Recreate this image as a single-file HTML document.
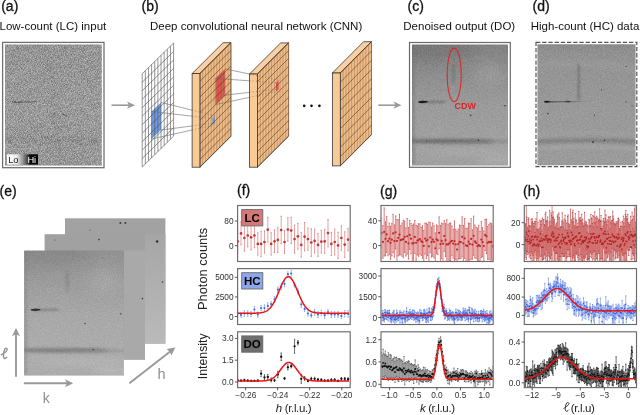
<!DOCTYPE html>
<html><head><meta charset="utf-8"><style>html,body{margin:0;padding:0;background:#fff;width:640px;height:415px;overflow:hidden}svg{display:block}</style></head>
<body><svg style="will-change:transform" width="640" height="415" viewBox="0 0 640 415"><defs>
<filter id="blur05" x="-50%" y="-50%" width="200%" height="200%"><feGaussianBlur stdDeviation="0.5"/></filter>
<filter id="blur1" x="-50%" y="-50%" width="200%" height="200%"><feGaussianBlur stdDeviation="1"/></filter>
<filter id="blur2" x="-50%" y="-50%" width="200%" height="200%"><feGaussianBlur stdDeviation="2"/></filter>
<filter id="blur3" x="-50%" y="-50%" width="200%" height="200%"><feGaussianBlur stdDeviation="3.5"/></filter>
<linearGradient id="lohi" x1="0" x2="1" y1="0" y2="0">
 <stop offset="0" stop-color="#fff"/><stop offset="0.3" stop-color="#eee"/><stop offset="0.5" stop-color="#9a9a9a"/><stop offset="0.66" stop-color="#444"/><stop offset="0.74" stop-color="#0a0a0a"/><stop offset="1" stop-color="#000"/>
</linearGradient>
<clipPath id="clip1"><rect x="5" y="44.5" width="96.8" height="121"/></clipPath><linearGradient id="grad1" x1="0" x2="0" y1="0" y2="1"><stop offset="0" stop-color="#959595"/><stop offset="0.5" stop-color="#9a9a9a"/><stop offset="1" stop-color="#979797"/></linearGradient><filter id="nz1" filterUnits="userSpaceOnUse" x="5" y="44.5" width="96.8" height="121" color-interpolation-filters="sRGB"><feTurbulence type="fractalNoise" baseFrequency="1.3" numOctaves="1" seed="3"/><feGaussianBlur stdDeviation="0.55"/><feColorMatrix type="matrix" values="0.68 0 0 0 0.15999999999999998 0.68 0 0 0 0.15999999999999998 0.68 0 0 0 0.15999999999999998 0 0 0 0 1"/></filter><filter id="ub05" filterUnits="userSpaceOnUse" x="-50" y="-50" width="250" height="250"><feGaussianBlur stdDeviation="0.5"/></filter><filter id="ub08" filterUnits="userSpaceOnUse" x="-50" y="-50" width="250" height="250"><feGaussianBlur stdDeviation="0.8"/></filter><filter id="ub15" filterUnits="userSpaceOnUse" x="-50" y="-50" width="250" height="250"><feGaussianBlur stdDeviation="1.5"/></filter><filter id="ub25" filterUnits="userSpaceOnUse" x="-50" y="-50" width="250" height="250"><feGaussianBlur stdDeviation="2.5"/></filter><filter id="ub6" filterUnits="userSpaceOnUse" x="-50" y="-50" width="250" height="250"><feGaussianBlur stdDeviation="6"/></filter><filter id="nzfine" filterUnits="userSpaceOnUse" x="0" y="0" width="110" height="130" color-interpolation-filters="sRGB"><feTurbulence type="fractalNoise" baseFrequency="1.3" numOctaves="1" seed="5"/><feGaussianBlur stdDeviation="0.45"/><feColorMatrix type="matrix" values="0.2 0 0 0 0.4 0.2 0 0 0 0.4 0.2 0 0 0 0.4 0 0 0 0 1"/></filter><linearGradient id="streakfade" x1="0" x2="1" y1="0" y2="0"><stop offset="0" stop-color="#333" stop-opacity="0.9"/><stop offset="1" stop-color="#555" stop-opacity="0"/></linearGradient><linearGradient id="cbase" x1="0" x2="0" y1="0" y2="1"><stop offset="0" stop-color="#828282"/><stop offset="0.22" stop-color="#8c8c8c"/><stop offset="0.5" stop-color="#9b9b9b"/><stop offset="0.85" stop-color="#a2a2a2"/><stop offset="1" stop-color="#a0a0a0"/></linearGradient><linearGradient id="dbase" x1="0" x2="0" y1="0" y2="1"><stop offset="0" stop-color="#8a8a8a"/><stop offset="0.08" stop-color="#929292"/><stop offset="0.5" stop-color="#999"/><stop offset="1" stop-color="#9b9b9b"/></linearGradient><g id="cimg"><rect x="0" y="0" width="96" height="121" fill="url(#cbase)"/><ellipse cx="20" cy="4" rx="45" ry="12" fill="#6e6e6e" opacity="0.5" filter="url(#ub6)"/><ellipse cx="78" cy="30" rx="16" ry="12" fill="#a5a5a5" opacity="0.45" filter="url(#ub6)"/><rect x="-1" y="0" width="3.5" height="121" fill="#6a6a6a" opacity="0.45" filter="url(#ub15)"/><ellipse cx="41.6" cy="29.5" rx="1.3" ry="12" fill="#5a5a5a" opacity="0.45" filter="url(#ub15)"/><path d="M9 57.5 L33 57.3" stroke="#555" stroke-width="1.6" opacity="0.75" filter="url(#ub08)"/><path d="M6.5 57.5 Q10 56 15.5 57.3 Q10 59 6.5 57.5 Z" fill="#0a0a0a" stroke="#111" stroke-width="0.8" filter="url(#ub05)"/><ellipse cx="34" cy="96.6" rx="48" ry="2.3" fill="#626262" opacity="0.8" filter="url(#ub15)"/><ellipse cx="75" cy="97" rx="25" ry="2" fill="#777" opacity="0.5" filter="url(#ub15)"/><ellipse cx="62" cy="108" rx="45" ry="3" fill="#b2b2b2" opacity="0.45" filter="url(#ub25)"/><ellipse cx="85" cy="116" rx="20" ry="4" fill="#b5b5b5" opacity="0.5" filter="url(#ub25)"/><circle cx="58.7" cy="70.7" r="0.8" fill="#222" opacity="0.85"/><circle cx="66.5" cy="95.8" r="0.8" fill="#222" opacity="0.85"/><circle cx="93" cy="61.3" r="0.8" fill="#222" opacity="0.85"/><rect x="0" y="0" width="96" height="121" filter="url(#nzfine)" style="mix-blend-mode:overlay"/></g><linearGradient id="dstreak" gradientUnits="userSpaceOnUse" x1="9" x2="54" y1="0" y2="0"><stop offset="0" stop-color="#333" stop-opacity="0.85"/><stop offset="0.5" stop-color="#555" stop-opacity="0.6"/><stop offset="1" stop-color="#777" stop-opacity="0.1"/></linearGradient><g id="dimg"><rect x="0" y="0" width="98" height="121" fill="url(#dbase)"/><path d="M-5 22 Q49 16 103 26" stroke="#a4a4a4" stroke-width="4" fill="none" opacity="0.5" filter="url(#ub25)"/><rect x="40" y="19.5" width="2.4" height="36" fill="#707070" opacity="0.75" filter="url(#ub08)"/><path d="M9 57.6 L54 57.2" stroke="url(#dstreak)" stroke-width="1.3" filter="url(#ub05)"/><path d="M6.6 57.6 Q9 56.3 12 57.4 Q9 58.9 6.6 57.6 Z" fill="#111" stroke="#1a1a1a" stroke-width="0.7" filter="url(#ub05)"/><path d="M27.5 57.5 Q30 56.6 33 57.3 Q30 58.4 27.5 57.5 Z" fill="#2a2a2a" stroke="#333" stroke-width="0.5" filter="url(#ub05)"/><path d="M-5 91 Q49 85 103 91" stroke="#a6a6a6" stroke-width="2.5" fill="none" opacity="0.5" filter="url(#ub15)"/><path d="M-5 97.6 Q49 94.5 103 97.6" stroke="#6c6c6c" stroke-width="3" fill="none" opacity="0.7" filter="url(#ub15)"/><path d="M-5 105 Q49 100 103 105" stroke="#b6b6b6" stroke-width="2.5" fill="none" opacity="0.45" filter="url(#ub15)"/><circle cx="88.5" cy="22.4" r="0.7" fill="#222" opacity="0.85"/><circle cx="10.5" cy="69.5" r="0.8" fill="#222" opacity="0.85"/><circle cx="57" cy="71" r="0.6" fill="#222" opacity="0.85"/><circle cx="64" cy="45.8" r="0.6" fill="#222" opacity="0.85"/><circle cx="55.5" cy="97.7" r="0.9" fill="#222" opacity="0.85"/><circle cx="67" cy="96.1" r="0.7" fill="#222" opacity="0.85"/><circle cx="88.5" cy="57.6" r="0.6" fill="#222" opacity="0.85"/><circle cx="94.5" cy="61.6" r="0.6" fill="#222" opacity="0.85"/><circle cx="3" cy="121" r="0.6" fill="#222" opacity="0.85"/><rect x="0" y="0" width="98" height="121" filter="url(#nzfine)" style="mix-blend-mode:overlay"/></g><clipPath id="clipc"><rect x="412" y="44.5" width="96" height="121"/></clipPath><clipPath id="clipd"><rect x="537.5" y="44.2" width="98" height="121"/></clipPath><filter id="nzE" filterUnits="userSpaceOnUse" x="65" y="218.3" width="100.4" height="125.3" color-interpolation-filters="sRGB"><feTurbulence type="fractalNoise" baseFrequency="0.9" numOctaves="2" seed="15"/><feColorMatrix type="matrix" values="0.3 0 0 0 0.35 0.3 0 0 0 0.35 0.3 0 0 0 0.35 0 0 0 0 1"/></filter><filter id="nzE2" filterUnits="userSpaceOnUse" x="44.6" y="234.2" width="100.4" height="125.4" color-interpolation-filters="sRGB"><feTurbulence type="fractalNoise" baseFrequency="0.9" numOctaves="2" seed="25"/><feColorMatrix type="matrix" values="0.3 0 0 0 0.35 0.3 0 0 0 0.35 0.3 0 0 0 0.35 0 0 0 0 1"/></filter><linearGradient id="ebackR" x1="0" x2="0" y1="0" y2="1"><stop offset="0" stop-color="#a6a6a6"/><stop offset="1" stop-color="#bababa"/></linearGradient><clipPath id="clipe"><rect x="24.1" y="250.5" width="99.8" height="125"/></clipPath><clipPath id="pc2"><rect x="238.1" y="206.0" width="111.60" height="55.00"/></clipPath><clipPath id="pc3"><rect x="238.1" y="269.1" width="111.60" height="54.90"/></clipPath><clipPath id="pc4"><rect x="238.1" y="332.3" width="111.60" height="54.80"/></clipPath><clipPath id="pc5"><rect x="381.5" y="206.0" width="111.20" height="55.00"/></clipPath><clipPath id="pc6"><rect x="381.5" y="269.1" width="111.20" height="54.90"/></clipPath><clipPath id="pc7"><rect x="381.5" y="332.3" width="111.20" height="54.80"/></clipPath><clipPath id="pc8"><rect x="524.8" y="206.0" width="111.20" height="55.00"/></clipPath><clipPath id="pc9"><rect x="524.8" y="269.1" width="111.20" height="54.90"/></clipPath><clipPath id="pc10"><rect x="524.8" y="332.3" width="111.20" height="54.80"/></clipPath></defs>
<text x="1.2" y="11" font-family="Liberation Sans" font-size="14" text-anchor="start" fill="#111" stroke="#111" stroke-width="0.3">(a)</text><text x="-0.5" y="29.7" font-family="Liberation Sans" font-size="11.5" text-anchor="start" fill="#111" >Low-count (LC) input</text><text x="141.5" y="11" font-family="Liberation Sans" font-size="14" text-anchor="start" fill="#111" stroke="#111" stroke-width="0.3">(b)</text><text x="150" y="29.7" font-family="Liberation Sans" font-size="11.5" text-anchor="start" fill="#111" >Deep convolutional neural network (CNN)</text><text x="407.5" y="11" font-family="Liberation Sans" font-size="14" text-anchor="start" fill="#111" stroke="#111" stroke-width="0.3">(c)</text><text x="403.3" y="29.7" font-family="Liberation Sans" font-size="11.5" text-anchor="start" fill="#111" >Denoised output (DO)</text><text x="532.5" y="11" font-family="Liberation Sans" font-size="14" text-anchor="start" fill="#111" stroke="#111" stroke-width="0.3">(d)</text><text x="530.7" y="29.7" font-family="Liberation Sans" font-size="11.5" text-anchor="start" fill="#111" >High-count (HC) data</text><text x="-0.4" y="196" font-family="Liberation Sans" font-size="14" text-anchor="start" fill="#111" stroke="#111" stroke-width="0.3">(e)</text><text x="237" y="195" font-family="Liberation Sans" font-size="14" text-anchor="start" fill="#111" stroke="#111" stroke-width="0.3">(f)</text><text x="380" y="196" font-family="Liberation Sans" font-size="14" text-anchor="start" fill="#111" stroke="#111" stroke-width="0.3">(g)</text><text x="523" y="196" font-family="Liberation Sans" font-size="14" text-anchor="start" fill="#111" stroke="#111" stroke-width="0.3">(h)</text><rect x="2.6" y="42.4" width="101.4" height="125.3" fill="#fff" stroke="#707070" stroke-width="1.3"/><g clip-path="url(#clip1)"><rect x="5" y="44.5" width="96.8" height="121" fill="url(#grad1)"/><path d="M12.5 102 L20.5 102.3" stroke="#333" stroke-width="1.2" opacity="0.7" filter="url(#blur05)"/><path d="M5 141 Q50 136 102 143" stroke="#777" stroke-width="4" fill="none" opacity="0.35" filter="url(#blur2)"/><path d="M45 44 Q52 80 60 165" stroke="#808080" stroke-width="5" fill="none" opacity="0.25" filter="url(#blur2)"/><path d="M20 102.3 L38 101.5" stroke="#555" stroke-width="1.2" opacity="0.6" filter="url(#blur05)"/><path d="M62 114 L67 116" stroke="#333" stroke-width="1.2" opacity="0.6" filter="url(#blur05)"/><rect x="5" y="44.5" width="96.8" height="121" filter="url(#nz1)" style="mix-blend-mode:overlay" opacity="1.0"/></g><rect x="7" y="154.3" width="31" height="10.3" fill="url(#lohi)"/><text x="8.2" y="162.6" font-family="Liberation Sans" font-size="9.3" text-anchor="start" fill="#1a1a1a" >Lo</text><text x="27.4" y="162.6" font-family="Liberation Sans" font-size="9.3" text-anchor="start" fill="#fff" >Hi</text><line x1="111.5" y1="105.2" x2="130" y2="105.2" stroke="#9a9a9a" stroke-width="1.6"/><path d="M135 105.2 L127 101.60000000000001 L129 105.2 L127 108.8 Z" fill="#9a9a9a"/><line x1="378.3" y1="105.2" x2="396.5" y2="105.2" stroke="#9a9a9a" stroke-width="1.6"/><path d="M401.5 105.2 L393.5 101.60000000000001 L395.5 105.2 L393.5 108.8 Z" fill="#9a9a9a"/><path d="M142.2 73.8 L173.6 43 V136 L142.2 167 Z" fill="#fff"/><path d="M151.50 111.50 L161.00 102.40 L161.00 130.00 L151.50 139.00 Z" fill="#6f9be2"/><path d="M142.20 73.80V167.00M145.34 70.72V163.92M148.48 67.64V160.84M151.62 64.56V157.76M154.76 61.48V154.68M157.90 58.40V151.60M161.04 55.32V148.52M164.18 52.24V145.44M167.32 49.16V142.36M170.46 46.08V139.28M173.60 43.00V136.20M142.20 73.80L173.60 43.00M142.20 82.27L173.60 51.47M142.20 90.75L173.60 59.95M142.20 99.22L173.60 68.42M142.20 107.69L173.60 76.89M142.20 116.16L173.60 85.36M142.20 124.64L173.60 93.84M142.20 133.11L173.60 102.31M142.20 141.58L173.60 110.78M142.20 150.05L173.60 119.25M142.20 158.53L173.60 127.73M142.20 167.00L173.60 136.20" stroke="#4d4d4d" stroke-width="0.6" fill="none"/><path d="M192.1 73.6 L223.1 42.699999999999996 L230.9 42.699999999999996 L199.9 73.6 Z" fill="#fad0a3" stroke="#2e2e2e" stroke-width="0.75" stroke-linejoin="round"/><path d="M199.9 73.6 L230.9 42.699999999999996 V136.29999999999998 L199.9 167.2 Z" fill="#efbd89" stroke="#2e2e2e" stroke-width="0.75"/><path d="M215.40 78.35 L224.90 68.88 L224.90 95.18 L215.40 104.65 Z" fill="#dd4b4b"/><path d="M212.40 118.54 L215.00 115.95 L215.00 122.95 L212.40 125.54 Z" fill="#6f9be2"/><path d="M199.90 73.60V167.20M202.72 70.79V164.39M205.54 67.98V161.58M208.35 65.17V158.77M211.17 62.36V155.96M213.99 59.55V153.15M216.81 56.75V150.35M219.63 53.94V147.54M222.45 51.13V144.73M225.26 48.32V141.92M228.08 45.51V139.11M230.90 42.70V136.30" stroke="#b38050" stroke-width="0.65" fill="none"/><path d="M199.90 73.60L230.90 42.70M199.90 81.40L230.90 50.50M199.90 89.20L230.90 58.30M199.90 97.00L230.90 66.10M199.90 104.80L230.90 73.90M199.90 112.60L230.90 81.70M199.90 120.40L230.90 89.50M199.90 128.20L230.90 97.30M199.90 136.00L230.90 105.10M199.90 143.80L230.90 112.90M199.90 151.60L230.90 120.70M199.90 159.40L230.90 128.50M199.90 167.20L230.90 136.30" stroke="#4a3a2c" stroke-width="0.6" fill="none"/><rect x="192.1" y="73.6" width="7.8" height="93.6" fill="#f9c996" stroke="#2e2e2e" stroke-width="0.75"/><path d="M161.00 102.40L192.1 110.20M151.50 111.50L192.1 116.19M161.00 130.00L192.1 125.94M151.50 139.00L192.1 130.03" stroke="#6a6a6a" stroke-width="0.6" fill="none"/><path d="M192.1 110.20L215.00 115.95M192.1 116.19L212.40 118.54M192.1 125.94L215.00 122.95M192.1 130.03L212.40 125.54" stroke="#555" stroke-width="0.55" stroke-dasharray="1 2.2" fill="none"/><path d="M249.5 74.0 L280.7 42.9 L288.59999999999997 42.9 L257.4 74.0 Z" fill="#fad0a3" stroke="#2e2e2e" stroke-width="0.75" stroke-linejoin="round"/><path d="M257.4 74.0 L288.59999999999997 42.9 V136.1 L257.4 167.2 Z" fill="#efbd89" stroke="#2e2e2e" stroke-width="0.75"/><path d="M276.00 82.76 L278.60 80.17 L278.60 89.07 L276.00 91.66 Z" fill="#dd4b4b"/><path d="M257.40 74.00V167.20M260.24 71.17V164.37M263.07 68.35V161.55M265.91 65.52V158.72M268.75 62.69V155.89M271.58 59.86V153.06M274.42 57.04V150.24M277.25 54.21V147.41M280.09 51.38V144.58M282.93 48.55V141.75M285.76 45.73V138.93M288.60 42.90V136.10" stroke="#b38050" stroke-width="0.65" fill="none"/><path d="M257.40 74.00L288.60 42.90M257.40 81.77L288.60 50.67M257.40 89.53L288.60 58.43M257.40 97.30L288.60 66.20M257.40 105.07L288.60 73.97M257.40 112.83L288.60 81.73M257.40 120.60L288.60 89.50M257.40 128.37L288.60 97.27M257.40 136.13L288.60 105.03M257.40 143.90L288.60 112.80M257.40 151.67L288.60 120.57M257.40 159.43L288.60 128.33M257.40 167.20L288.60 136.10" stroke="#4a3a2c" stroke-width="0.6" fill="none"/><rect x="249.5" y="74.0" width="7.9" height="93.2" fill="#f9c996" stroke="#2e2e2e" stroke-width="0.75"/><path d="M224.90 68.88L249.5 74.05M215.40 78.35L249.5 80.83M224.90 95.18L249.5 92.38M215.40 104.65L249.5 97.34" stroke="#6a6a6a" stroke-width="0.6" fill="none"/><path d="M249.5 74.05L278.60 80.17M249.5 80.83L276.00 82.76M249.5 92.38L278.60 89.07M249.5 97.34L276.00 91.66" stroke="#555" stroke-width="0.55" stroke-dasharray="1 2.2" fill="none"/><path d="M332.4 73.0 L363.59999999999997 41.7 L371.49999999999994 41.7 L340.29999999999995 73.0 Z" fill="#fad0a3" stroke="#2e2e2e" stroke-width="0.75" stroke-linejoin="round"/><path d="M340.29999999999995 73.0 L371.49999999999994 41.7 V134.60000000000002 L340.29999999999995 165.9 Z" fill="#efbd89" stroke="#2e2e2e" stroke-width="0.75"/><path d="M340.30 73.00V165.90M343.14 70.15V163.05M345.97 67.31V160.21M348.81 64.46V157.36M351.65 61.62V154.52M354.48 58.77V151.67M357.32 55.93V148.83M360.15 53.08V145.98M362.99 50.24V143.14M365.83 47.39V140.29M368.66 44.55V137.45M371.50 41.70V134.60" stroke="#b38050" stroke-width="0.65" fill="none"/><path d="M340.30 73.00L371.50 41.70M340.30 82.29L371.50 50.99M340.30 91.58L371.50 60.28M340.30 100.87L371.50 69.57M340.30 110.16L371.50 78.86M340.30 119.45L371.50 88.15M340.30 128.74L371.50 97.44M340.30 138.03L371.50 106.73M340.30 147.32L371.50 116.02M340.30 156.61L371.50 125.31M340.30 165.90L371.50 134.60" stroke="#4a3a2c" stroke-width="0.6" fill="none"/><rect x="332.4" y="73.0" width="7.9" height="92.9" fill="#f9c996" stroke="#2e2e2e" stroke-width="0.75"/><circle cx="304.2" cy="105.8" r="1.35" fill="#111"/><circle cx="311.5" cy="105.8" r="1.35" fill="#111"/><circle cx="319.4" cy="105.8" r="1.35" fill="#111"/><rect x="409.5" y="42.5" width="100.8" height="124.8" fill="#fff" stroke="#6a6a6a" stroke-width="1.2"/><g clip-path="url(#clipc)"><use href="#cimg" transform="translate(412,44.5)"/></g><ellipse cx="454.2" cy="74.9" rx="7" ry="26.8" fill="none" stroke="#d92a2a" stroke-width="1.1"/><text x="454.6" y="109.3" font-family="Liberation Sans" font-size="8.9" font-weight="bold" fill="#dc2424">CDW</text><rect x="536" y="42.3" width="100.8" height="124.3" fill="#fff" stroke="#555" stroke-width="1.2" stroke-dasharray="4.3 1.9"/><g clip-path="url(#clipd)"><use href="#dimg" transform="translate(537.5,44.2)"/></g><rect x="65" y="218.3" width="100.4" height="125.3" fill="#a2a2a2"/><rect x="145" y="234" width="20.4" height="109.6" fill="url(#ebackR)"/><circle cx="120.3" cy="223" r="0.9" fill="#222" opacity="0.85"/><circle cx="125.4" cy="223" r="0.9" fill="#222" opacity="0.85"/><circle cx="157.1" cy="241.5" r="1.3" fill="#222" opacity="0.85"/><circle cx="162.6" cy="282" r="0.8" fill="#222" opacity="0.85"/><circle cx="90" cy="230" r="0.6" fill="#222" opacity="0.85"/><rect x="44.6" y="234.2" width="100.4" height="125.4" fill="#a1a1a1"/><rect x="123.8" y="250.5" width="21.2" height="109.1" fill="#a9a9a9"/><circle cx="98.9" cy="239.6" r="0.8" fill="#222" opacity="0.85"/><circle cx="142.4" cy="298.6" r="0.8" fill="#222" opacity="0.85"/><circle cx="55" cy="240" r="0.5" fill="#222" opacity="0.85"/><g clip-path="url(#clipe)"><use href="#cimg" transform="translate(24.1,250.5) scale(1.0396,1.033)"/><rect x="24" y="250" width="101" height="127" fill="#fff" opacity="0.13"/></g><line x1="16" y1="376.8" x2="16" y2="334" stroke="#999999" stroke-width="1.9"/><path d="M16 328 L12 336.2 L16 334.2 L20 336.2 Z" fill="#999999"/><line x1="23.8" y1="383.2" x2="67" y2="383.2" stroke="#999999" stroke-width="1.9"/><path d="M73.2 383.2 L65 379.2 L67 383.2 L65 387.2 Z" fill="#999999"/><line x1="129.4" y1="383.2" x2="170.5" y2="351.2" stroke="#999999" stroke-width="1.9"/><path d="M175.3 347.5 L166.6 349.0 L169.9 351.7 L171.4 355.4 Z" fill="#999999"/><path d="M1.2 354.8 C3.5 353.6 7.3 351 7.2 349.3 C7.1 347.8 5.2 347.9 4.6 349.5 C3.6 352 2.6 358.3 4.6 358.5 C5.5 358.6 6.2 358 6.8 357.2" stroke="#8f8f8f" stroke-width="1.3" fill="none" stroke-linecap="round"/><text x="42.8" y="402.8" font-family="Liberation Sans" font-size="14" text-anchor="start" fill="#8f8f8f" >k</text><text x="157.6" y="378.8" font-family="Liberation Sans" font-size="14.5" text-anchor="start" fill="#8f8f8f" >h</text><rect x="237.6" y="205.5" width="112.60" height="56.00" fill="none" stroke="#6a6a6a" stroke-width="1.15"/><g clip-path="url(#pc2)"><path d="M237.70 229.23V253.37M241.04 221.90V244.90M244.39 224.85V251.15M247.73 224.26V246.74M251.08 224.53V250.07M254.42 223.29V247.71M257.77 232.71V255.09M261.12 231.23V256.57M264.46 230.88V253.12M267.81 217.27V242.13M271.15 232.67V255.13M274.50 230.00V252.60M277.84 227.50V252.30M281.19 216.27V243.73M284.53 230.59V253.41M287.88 217.76V241.24M291.22 217.43V243.57M294.56 224.97V253.23M297.91 223.40V249.20M301.25 232.59V257.21M304.60 222.48V250.92M307.94 227.95V250.25M311.29 228.67V256.33M314.63 228.94V252.86M317.98 233.42V256.38M321.32 230.31V253.09M324.67 229.28V253.32M328.01 219.41V246.79M331.36 232.30V255.50M334.70 229.08V254.92M338.05 232.29V258.51M341.39 225.77V250.23M344.74 231.79V257.41M348.08 228.39V250.81" stroke="#e6a0a0" stroke-width="1.0" opacity="1.0" fill="none"/><path d="M237.10 229.23h1.2M237.10 253.37h1.2M240.44 221.90h1.2M240.44 244.90h1.2M243.79 224.85h1.2M243.79 251.15h1.2M247.13 224.26h1.2M247.13 246.74h1.2M250.48 224.53h1.2M250.48 250.07h1.2M253.82 223.29h1.2M253.82 247.71h1.2M257.17 232.71h1.2M257.17 255.09h1.2M260.51 231.23h1.2M260.51 256.57h1.2M263.86 230.88h1.2M263.86 253.12h1.2M267.20 217.27h1.2M267.20 242.13h1.2M270.55 232.67h1.2M270.55 255.13h1.2M273.89 230.00h1.2M273.89 252.60h1.2M277.24 227.50h1.2M277.24 252.30h1.2M280.58 216.27h1.2M280.58 243.73h1.2M283.93 230.59h1.2M283.93 253.41h1.2M287.27 217.76h1.2M287.27 241.24h1.2M290.62 217.43h1.2M290.62 243.57h1.2M293.96 224.97h1.2M293.96 253.23h1.2M297.31 223.40h1.2M297.31 249.20h1.2M300.65 232.59h1.2M300.65 257.21h1.2M304.00 222.48h1.2M304.00 250.92h1.2M307.34 227.95h1.2M307.34 250.25h1.2M310.69 228.67h1.2M310.69 256.33h1.2M314.03 228.94h1.2M314.03 252.86h1.2M317.38 233.42h1.2M317.38 256.38h1.2M320.72 230.31h1.2M320.72 253.09h1.2M324.07 229.28h1.2M324.07 253.32h1.2M327.41 219.41h1.2M327.41 246.79h1.2M330.76 232.30h1.2M330.76 255.50h1.2M334.10 229.08h1.2M334.10 254.92h1.2M337.45 232.29h1.2M337.45 258.51h1.2M340.79 225.77h1.2M340.79 250.23h1.2M344.14 231.79h1.2M344.14 257.41h1.2M347.48 228.39h1.2M347.48 250.81h1.2" stroke="#d46a6a" stroke-width="0.8" fill="none"/><g fill="#c93434"><circle cx="237.70" cy="241.30" r="1.35"/><circle cx="241.04" cy="233.40" r="1.35"/><circle cx="244.39" cy="238.00" r="1.35"/><circle cx="247.73" cy="235.50" r="1.35"/><circle cx="251.08" cy="237.30" r="1.35"/><circle cx="254.42" cy="235.50" r="1.35"/><circle cx="257.77" cy="243.90" r="1.35"/><circle cx="261.12" cy="243.90" r="1.35"/><circle cx="264.46" cy="242.00" r="1.35"/><circle cx="267.81" cy="229.70" r="1.35"/><circle cx="271.15" cy="243.90" r="1.35"/><circle cx="274.50" cy="241.30" r="1.35"/><circle cx="277.84" cy="239.90" r="1.35"/><circle cx="281.19" cy="230.00" r="1.35"/><circle cx="284.53" cy="242.00" r="1.35"/><circle cx="287.88" cy="229.50" r="1.35"/><circle cx="291.22" cy="230.50" r="1.35"/><circle cx="294.56" cy="239.10" r="1.35"/><circle cx="297.91" cy="236.30" r="1.35"/><circle cx="301.25" cy="244.90" r="1.35"/><circle cx="304.60" cy="236.70" r="1.35"/><circle cx="307.94" cy="239.10" r="1.35"/><circle cx="311.29" cy="242.50" r="1.35"/><circle cx="314.63" cy="240.90" r="1.35"/><circle cx="317.98" cy="244.90" r="1.35"/><circle cx="321.32" cy="241.70" r="1.35"/><circle cx="324.67" cy="241.30" r="1.35"/><circle cx="328.01" cy="233.10" r="1.35"/><circle cx="331.36" cy="243.90" r="1.35"/><circle cx="334.70" cy="242.00" r="1.35"/><circle cx="338.05" cy="245.40" r="1.35"/><circle cx="341.39" cy="238.00" r="1.35"/><circle cx="344.74" cy="244.60" r="1.35"/><circle cx="348.08" cy="239.60" r="1.35"/></g></g><line x1="234.9" y1="221" x2="237.6" y2="221" stroke="#4a4a4a" stroke-width="0.9"/><text x="233.6" y="224" font-family="Liberation Sans" font-size="8.3" text-anchor="end" fill="#303030">80</text><line x1="234.9" y1="245.7" x2="237.6" y2="245.7" stroke="#4a4a4a" stroke-width="0.9"/><text x="233.6" y="248.7" font-family="Liberation Sans" font-size="8.3" text-anchor="end" fill="#303030">0</text><rect x="241.7" y="209.6" width="21.1" height="16.3" fill="#d77878" stroke="#6a6a6a" stroke-width="0.9"/><text x="252.2" y="221.8" font-family="Liberation Sans" font-size="11.5" font-weight="bold" text-anchor="middle" fill="#000">LC</text><rect x="237.6" y="268.6" width="112.60" height="55.90" fill="none" stroke="#6a6a6a" stroke-width="1.15"/><g clip-path="url(#pc3)"><path d="M237.70 310.92V315.08M241.04 312.71V317.29M244.39 310.55V316.45M247.73 310.90V316.10M251.08 311.56V316.44M254.42 306.68V312.32M257.77 311.97V317.23M261.12 305.58V310.42M264.46 304.89V311.11M267.81 302.92V308.88M271.15 301.66V306.34M274.50 296.70V302.30M277.84 286.86V292.34M281.19 283.57V290.03M284.53 280.78V286.82M287.88 271.80V276.60M291.22 270.13V276.87M294.56 282.83V287.17M297.91 288.81V293.99M301.25 301.34V307.46M304.60 306.89V311.31M307.94 310.82V316.18M311.29 313.25V317.35M314.63 309.36V315.24M317.98 311.33V317.47M321.32 310.20V315.80M324.67 311.97V318.43M328.01 309.56V314.44M331.36 311.43V317.37M334.70 311.57V317.23M338.05 311.59V317.21M341.39 313.26V318.54M344.74 310.52V316.88M348.08 310.68V317.32" stroke="#9db5ee" stroke-width="0.9" opacity="1.0" fill="none"/><path d="M237.10 310.92h1.2M237.10 315.08h1.2M240.44 312.71h1.2M240.44 317.29h1.2M243.79 310.55h1.2M243.79 316.45h1.2M247.13 310.90h1.2M247.13 316.10h1.2M250.48 311.56h1.2M250.48 316.44h1.2M253.82 306.68h1.2M253.82 312.32h1.2M257.17 311.97h1.2M257.17 317.23h1.2M260.51 305.58h1.2M260.51 310.42h1.2M263.86 304.89h1.2M263.86 311.11h1.2M267.20 302.92h1.2M267.20 308.88h1.2M270.55 301.66h1.2M270.55 306.34h1.2M273.89 296.70h1.2M273.89 302.30h1.2M277.24 286.86h1.2M277.24 292.34h1.2M280.58 283.57h1.2M280.58 290.03h1.2M283.93 280.78h1.2M283.93 286.82h1.2M287.27 271.80h1.2M287.27 276.60h1.2M290.62 270.13h1.2M290.62 276.87h1.2M293.96 282.83h1.2M293.96 287.17h1.2M297.31 288.81h1.2M297.31 293.99h1.2M300.65 301.34h1.2M300.65 307.46h1.2M304.00 306.89h1.2M304.00 311.31h1.2M307.34 310.82h1.2M307.34 316.18h1.2M310.69 313.25h1.2M310.69 317.35h1.2M314.03 309.36h1.2M314.03 315.24h1.2M317.38 311.33h1.2M317.38 317.47h1.2M320.72 310.20h1.2M320.72 315.80h1.2M324.07 311.97h1.2M324.07 318.43h1.2M327.41 309.56h1.2M327.41 314.44h1.2M330.76 311.43h1.2M330.76 317.37h1.2M334.10 311.57h1.2M334.10 317.23h1.2M337.45 311.59h1.2M337.45 317.21h1.2M340.79 313.26h1.2M340.79 318.54h1.2M344.14 310.52h1.2M344.14 316.88h1.2M347.48 310.68h1.2M347.48 317.32h1.2" stroke="#7e9ae6" stroke-width="0.8" fill="none"/><g fill="#3f6fe0"><circle cx="237.70" cy="313.00" r="1.1"/><circle cx="241.04" cy="315.00" r="1.1"/><circle cx="244.39" cy="313.50" r="1.1"/><circle cx="247.73" cy="313.50" r="1.1"/><circle cx="251.08" cy="314.00" r="1.1"/><circle cx="254.42" cy="309.50" r="1.1"/><circle cx="257.77" cy="314.60" r="1.1"/><circle cx="261.12" cy="308.00" r="1.1"/><circle cx="264.46" cy="308.00" r="1.1"/><circle cx="267.81" cy="305.90" r="1.1"/><circle cx="271.15" cy="304.00" r="1.1"/><circle cx="274.50" cy="299.50" r="1.1"/><circle cx="277.84" cy="289.60" r="1.1"/><circle cx="281.19" cy="286.80" r="1.1"/><circle cx="284.53" cy="283.80" r="1.1"/><circle cx="287.88" cy="274.20" r="1.1"/><circle cx="291.22" cy="273.50" r="1.1"/><circle cx="294.56" cy="285.00" r="1.1"/><circle cx="297.91" cy="291.40" r="1.1"/><circle cx="301.25" cy="304.40" r="1.1"/><circle cx="304.60" cy="309.10" r="1.1"/><circle cx="307.94" cy="313.50" r="1.1"/><circle cx="311.29" cy="315.30" r="1.1"/><circle cx="314.63" cy="312.30" r="1.1"/><circle cx="317.98" cy="314.40" r="1.1"/><circle cx="321.32" cy="313.00" r="1.1"/><circle cx="324.67" cy="315.20" r="1.1"/><circle cx="328.01" cy="312.00" r="1.1"/><circle cx="331.36" cy="314.40" r="1.1"/><circle cx="334.70" cy="314.40" r="1.1"/><circle cx="338.05" cy="314.40" r="1.1"/><circle cx="341.39" cy="315.90" r="1.1"/><circle cx="344.74" cy="313.70" r="1.1"/><circle cx="348.08" cy="314.00" r="1.1"/></g><path d="M238.00 313.20L238.56 313.20L239.11 313.20L239.66 313.20L240.22 313.20L240.78 313.20L241.33 313.20L241.88 313.20L242.44 313.20L243.00 313.20L243.55 313.20L244.10 313.20L244.66 313.20L245.22 313.20L245.77 313.20L246.32 313.20L246.88 313.20L247.44 313.20L247.99 313.20L248.54 313.20L249.10 313.20L249.66 313.19L250.21 313.19L250.76 313.19L251.32 313.19L251.88 313.19L252.43 313.18L252.99 313.18L253.54 313.17L254.09 313.16L254.65 313.15L255.20 313.14L255.76 313.13L256.31 313.11L256.87 313.09L257.43 313.07L257.98 313.04L258.54 313.00L259.09 312.96L259.64 312.91L260.20 312.86L260.75 312.79L261.31 312.71L261.87 312.61L262.42 312.50L262.98 312.37L263.53 312.22L264.08 312.05L264.64 311.86L265.19 311.64L265.75 311.38L266.31 311.10L266.86 310.78L267.42 310.42L267.97 310.01L268.52 309.57L269.08 309.07L269.63 308.53L270.19 307.93L270.75 307.27L271.30 306.56L271.86 305.79L272.41 304.96L272.97 304.08L273.52 303.13L274.07 302.13L274.63 301.06L275.19 299.95L275.74 298.79L276.30 297.58L276.85 296.33L277.40 295.05L277.96 293.74L278.51 292.41L279.07 291.07L279.62 289.74L280.18 288.41L280.74 287.10L281.29 285.82L281.85 284.59L282.40 283.40L282.95 282.28L283.51 281.24L284.06 280.28L284.62 279.41L285.18 278.65L285.73 278.00L286.28 277.47L286.84 277.06L287.39 276.78L287.95 276.63L288.50 276.61L289.06 276.72L289.62 276.97L290.17 277.35L290.73 277.85L291.28 278.47L291.83 279.20L292.39 280.04L292.94 280.98L293.50 282.00L294.06 283.10L294.61 284.27L295.17 285.49L295.72 286.76L296.27 288.06L296.83 289.39L297.38 290.72L297.94 292.06L298.50 293.39L299.05 294.71L299.61 296.00L300.16 297.26L300.72 298.48L301.27 299.65L301.82 300.78L302.38 301.85L302.94 302.87L303.49 303.83L304.05 304.74L304.60 305.58L305.15 306.37L305.71 307.09L306.26 307.76L306.82 308.37L307.38 308.93L307.93 309.44L308.49 309.90L309.04 310.32L309.60 310.69L310.15 311.02L310.70 311.31L311.26 311.57L311.81 311.80L312.37 312.01L312.93 312.18L313.48 312.34L314.03 312.47L314.59 312.58L315.14 312.68L315.70 312.77L316.25 312.84L316.81 312.90L317.37 312.95L317.92 312.99L318.48 313.03L319.03 313.06L319.58 313.09L320.14 313.11L320.69 313.13L321.25 313.14L321.81 313.15L322.36 313.16L322.92 313.17L323.47 313.18L324.02 313.18L324.58 313.18L325.13 313.19L325.69 313.19L326.25 313.19L326.80 313.19L327.36 313.20L327.91 313.20L328.47 313.20L329.02 313.20L329.57 313.20L330.13 313.20L330.69 313.20L331.24 313.20L331.80 313.20L332.35 313.20L332.90 313.20L333.46 313.20L334.01 313.20L334.57 313.20L335.12 313.20L335.68 313.20L336.24 313.20L336.79 313.20L337.35 313.20L337.90 313.20L338.45 313.20L339.01 313.20L339.56 313.20L340.12 313.20L340.68 313.20L341.23 313.20L341.78 313.20L342.34 313.20L342.89 313.20L343.45 313.20L344.00 313.20L344.56 313.20L345.12 313.20L345.67 313.20L346.23 313.20L346.78 313.20L347.33 313.20L347.89 313.20L348.44 313.20L349.00 313.20" stroke="#ec1414" stroke-width="1.5" fill="none"/></g><line x1="234.9" y1="277.3" x2="237.6" y2="277.3" stroke="#4a4a4a" stroke-width="0.9"/><text x="233.6" y="280.3" font-family="Liberation Sans" font-size="8.3" text-anchor="end" fill="#303030">5000</text><line x1="234.9" y1="296.9" x2="237.6" y2="296.9" stroke="#4a4a4a" stroke-width="0.9"/><text x="233.6" y="299.9" font-family="Liberation Sans" font-size="8.3" text-anchor="end" fill="#303030">2500</text><line x1="234.9" y1="316.5" x2="237.6" y2="316.5" stroke="#4a4a4a" stroke-width="0.9"/><text x="233.6" y="319.5" font-family="Liberation Sans" font-size="8.3" text-anchor="end" fill="#303030">0</text><rect x="241.7" y="272.70000000000005" width="21.1" height="16.3" fill="#8ea7ea" stroke="#6a6a6a" stroke-width="0.9"/><text x="252.2" y="284.90000000000003" font-family="Liberation Sans" font-size="11.5" font-weight="bold" text-anchor="middle" fill="#000">HC</text><rect x="237.6" y="331.8" width="112.60" height="55.80" fill="none" stroke="#6a6a6a" stroke-width="1.15"/><g clip-path="url(#pc4)"><path d="M237.70 379.31V381.31M241.04 379.80V381.40M244.39 379.17V381.17M247.73 379.80V381.40M251.08 380.29V381.49M254.42 380.29V381.49M257.77 379.80V381.40M261.12 370.66V376.66M264.46 374.82V380.02M267.81 374.39V379.59M271.15 377.88V381.88M274.50 379.11V381.51M277.84 371.33V377.73M281.19 352.95V360.55M284.53 377.43V379.43M287.88 364.70V369.90M291.22 364.34V367.94M294.56 339.34V353.34M297.91 340.52V344.92M301.25 374.37V383.37M304.60 376.63V380.23M307.94 380.09V381.69M311.29 377.27V380.47M314.63 377.27V380.47M317.98 378.39V380.79M321.32 378.68V381.08M324.67 379.60V381.60M328.01 379.60V381.60M331.36 378.68V381.08M334.70 378.68V381.08M338.05 380.09V381.69M341.39 377.47V380.27M344.74 377.47V380.27M348.08 377.75V380.55" stroke="#333" stroke-width="0.7" opacity="1.0" fill="none"/><path d="M237.10 379.31h1.2M237.10 381.31h1.2M240.44 379.80h1.2M240.44 381.40h1.2M243.79 379.17h1.2M243.79 381.17h1.2M247.13 379.80h1.2M247.13 381.40h1.2M250.48 380.29h1.2M250.48 381.49h1.2M253.82 380.29h1.2M253.82 381.49h1.2M257.17 379.80h1.2M257.17 381.40h1.2M260.51 370.66h1.2M260.51 376.66h1.2M263.86 374.82h1.2M263.86 380.02h1.2M267.20 374.39h1.2M267.20 379.59h1.2M270.55 377.88h1.2M270.55 381.88h1.2M273.89 379.11h1.2M273.89 381.51h1.2M277.24 371.33h1.2M277.24 377.73h1.2M280.58 352.95h1.2M280.58 360.55h1.2M283.93 377.43h1.2M283.93 379.43h1.2M287.27 364.70h1.2M287.27 369.90h1.2M290.62 364.34h1.2M290.62 367.94h1.2M293.96 339.34h1.2M293.96 353.34h1.2M297.31 340.52h1.2M297.31 344.92h1.2M300.65 374.37h1.2M300.65 383.37h1.2M304.00 376.63h1.2M304.00 380.23h1.2M307.34 380.09h1.2M307.34 381.69h1.2M310.69 377.27h1.2M310.69 380.47h1.2M314.03 377.27h1.2M314.03 380.47h1.2M317.38 378.39h1.2M317.38 380.79h1.2M320.72 378.68h1.2M320.72 381.08h1.2M324.07 379.60h1.2M324.07 381.60h1.2M327.41 379.60h1.2M327.41 381.60h1.2M330.76 378.68h1.2M330.76 381.08h1.2M334.10 378.68h1.2M334.10 381.08h1.2M337.45 380.09h1.2M337.45 381.69h1.2M340.79 377.47h1.2M340.79 380.27h1.2M344.14 377.47h1.2M344.14 380.27h1.2M347.48 377.75h1.2M347.48 380.55h1.2" stroke="#333" stroke-width="0.8" fill="none"/><g fill="#111"><circle cx="237.70" cy="380.31" r="1.15"/><circle cx="241.04" cy="380.60" r="1.15"/><circle cx="244.39" cy="380.17" r="1.15"/><circle cx="247.73" cy="380.60" r="1.15"/><circle cx="251.08" cy="380.89" r="1.15"/><circle cx="254.42" cy="380.89" r="1.15"/><circle cx="257.77" cy="380.60" r="1.15"/><circle cx="261.12" cy="373.66" r="1.15"/><circle cx="264.46" cy="377.42" r="1.15"/><circle cx="267.81" cy="376.99" r="1.15"/><circle cx="271.15" cy="379.88" r="1.15"/><circle cx="274.50" cy="380.31" r="1.15"/><circle cx="277.84" cy="374.53" r="1.15"/><circle cx="281.19" cy="356.75" r="1.15"/><circle cx="284.53" cy="378.43" r="1.15"/><circle cx="287.88" cy="367.30" r="1.15"/><circle cx="291.22" cy="366.14" r="1.15"/><circle cx="294.56" cy="346.34" r="1.15"/><circle cx="297.91" cy="342.72" r="1.15"/><circle cx="301.25" cy="378.87" r="1.15"/><circle cx="304.60" cy="378.43" r="1.15"/><circle cx="307.94" cy="380.89" r="1.15"/><circle cx="311.29" cy="378.87" r="1.15"/><circle cx="314.63" cy="378.87" r="1.15"/><circle cx="317.98" cy="379.59" r="1.15"/><circle cx="321.32" cy="379.88" r="1.15"/><circle cx="324.67" cy="380.60" r="1.15"/><circle cx="328.01" cy="380.60" r="1.15"/><circle cx="331.36" cy="379.88" r="1.15"/><circle cx="334.70" cy="379.88" r="1.15"/><circle cx="338.05" cy="380.89" r="1.15"/><circle cx="341.39" cy="378.87" r="1.15"/><circle cx="344.74" cy="378.87" r="1.15"/><circle cx="348.08" cy="379.15" r="1.15"/></g><path d="M238.00 381.00L238.56 381.00L239.11 381.00L239.66 381.00L240.22 381.00L240.78 381.00L241.33 381.00L241.88 381.00L242.44 381.00L243.00 381.00L243.55 381.00L244.10 381.00L244.66 381.00L245.22 381.00L245.77 381.00L246.32 381.00L246.88 381.00L247.44 381.00L247.99 381.00L248.54 381.00L249.10 381.00L249.66 381.00L250.21 381.00L250.76 381.00L251.32 381.00L251.88 381.00L252.43 381.00L252.99 381.00L253.54 381.00L254.09 381.00L254.65 381.00L255.20 381.00L255.76 380.99L256.31 380.99L256.87 380.99L257.43 380.99L257.98 380.98L258.54 380.98L259.09 380.97L259.64 380.97L260.20 380.96L260.75 380.95L261.31 380.93L261.87 380.92L262.42 380.89L262.98 380.87L263.53 380.84L264.08 380.80L264.64 380.76L265.19 380.70L265.75 380.64L266.31 380.57L266.86 380.48L267.42 380.38L267.97 380.26L268.52 380.13L269.08 379.97L269.63 379.79L270.19 379.58L270.75 379.35L271.30 379.09L271.86 378.80L272.41 378.48L272.97 378.12L273.52 377.72L274.07 377.29L274.63 376.82L275.19 376.31L275.74 375.77L276.30 375.19L276.85 374.57L277.40 373.92L277.96 373.24L278.51 372.53L279.07 371.80L279.62 371.05L280.18 370.30L280.74 369.53L281.29 368.77L281.85 368.02L282.40 367.28L282.95 366.57L283.51 365.89L284.06 365.26L284.62 364.67L285.18 364.13L285.73 363.66L286.28 363.25L286.84 362.92L287.39 362.67L287.95 362.50L288.50 362.41L289.06 362.41L289.62 362.49L290.17 362.66L290.73 362.91L291.28 363.23L291.83 363.63L292.39 364.10L292.94 364.63L293.50 365.22L294.06 365.85L294.61 366.53L295.17 367.24L295.72 367.97L296.27 368.72L296.83 369.48L297.38 370.25L297.94 371.01L298.50 371.75L299.05 372.48L299.61 373.19L300.16 373.88L300.72 374.53L301.27 375.15L301.82 375.73L302.38 376.28L302.94 376.79L303.49 377.26L304.05 377.70L304.60 378.09L305.15 378.46L305.71 378.78L306.26 379.07L306.82 379.34L307.38 379.57L307.93 379.78L308.49 379.96L309.04 380.12L309.60 380.25L310.15 380.37L310.70 380.48L311.26 380.56L311.81 380.64L312.37 380.70L312.93 380.75L313.48 380.80L314.03 380.84L314.59 380.87L315.14 380.89L315.70 380.91L316.25 380.93L316.81 380.95L317.37 380.96L317.92 380.97L318.48 380.97L319.03 380.98L319.58 380.98L320.14 380.99L320.69 380.99L321.25 380.99L321.81 380.99L322.36 381.00L322.92 381.00L323.47 381.00L324.02 381.00L324.58 381.00L325.13 381.00L325.69 381.00L326.25 381.00L326.80 381.00L327.36 381.00L327.91 381.00L328.47 381.00L329.02 381.00L329.57 381.00L330.13 381.00L330.69 381.00L331.24 381.00L331.80 381.00L332.35 381.00L332.90 381.00L333.46 381.00L334.01 381.00L334.57 381.00L335.12 381.00L335.68 381.00L336.24 381.00L336.79 381.00L337.35 381.00L337.90 381.00L338.45 381.00L339.01 381.00L339.56 381.00L340.12 381.00L340.68 381.00L341.23 381.00L341.78 381.00L342.34 381.00L342.89 381.00L343.45 381.00L344.00 381.00L344.56 381.00L345.12 381.00L345.67 381.00L346.23 381.00L346.78 381.00L347.33 381.00L347.89 381.00L348.44 381.00L349.00 381.00" stroke="#ec1414" stroke-width="1.5" fill="none"/></g><line x1="234.9" y1="338.4" x2="237.6" y2="338.4" stroke="#4a4a4a" stroke-width="0.9"/><text x="233.6" y="341.4" font-family="Liberation Sans" font-size="8.3" text-anchor="end" fill="#303030">3.0</text><line x1="234.9" y1="360.2" x2="237.6" y2="360.2" stroke="#4a4a4a" stroke-width="0.9"/><text x="233.6" y="363.2" font-family="Liberation Sans" font-size="8.3" text-anchor="end" fill="#303030">1.5</text><line x1="234.9" y1="382" x2="237.6" y2="382" stroke="#4a4a4a" stroke-width="0.9"/><text x="233.6" y="385" font-family="Liberation Sans" font-size="8.3" text-anchor="end" fill="#303030">0.0</text><rect x="241.7" y="335.90000000000003" width="21.1" height="16.3" fill="#6e6e6e" stroke="#6a6a6a" stroke-width="0.9"/><text x="252.2" y="348.1" font-family="Liberation Sans" font-size="11.5" font-weight="bold" text-anchor="middle" fill="#000">DO</text><line x1="245.6" y1="387.6" x2="245.6" y2="390.3" stroke="#4a4a4a" stroke-width="0.9"/><text x="245.8" y="397.8" font-family="Liberation Sans" font-size="8.3" text-anchor="middle" fill="#303030">−0.26</text><line x1="277.6" y1="387.6" x2="277.6" y2="390.3" stroke="#4a4a4a" stroke-width="0.9"/><text x="277.8" y="397.8" font-family="Liberation Sans" font-size="8.3" text-anchor="middle" fill="#303030">−0.24</text><line x1="309.6" y1="387.6" x2="309.6" y2="390.3" stroke="#4a4a4a" stroke-width="0.9"/><text x="309.8" y="397.8" font-family="Liberation Sans" font-size="8.3" text-anchor="middle" fill="#303030">−0.22</text><line x1="341.8" y1="387.6" x2="341.8" y2="390.3" stroke="#4a4a4a" stroke-width="0.9"/><text x="341.8" y="397.8" font-family="Liberation Sans" font-size="8.3" text-anchor="middle" fill="#303030">−0.20</text><rect x="381.0" y="205.5" width="112.20" height="56.00" fill="none" stroke="#6a6a6a" stroke-width="1.15"/><g clip-path="url(#pc5)"><path d="M381.60 218.20V248.12M382.88 225.62V258.24M384.16 207.90V256.04M385.43 221.86V255.75M386.71 216.54V252.36M387.99 226.55V255.81M389.27 222.94V254.42M390.55 226.32V259.27M391.83 223.44V255.83M393.10 214.32V252.57M394.38 224.96V257.20M395.66 215.83V248.90M396.94 219.64V262.13M398.22 219.79V255.95M399.49 214.12V255.00M400.77 225.61V254.82M402.05 223.00V256.20M403.33 220.47V257.64M404.61 221.12V252.44M405.89 227.85V256.07M407.16 218.47V254.05M408.44 227.59V259.15M409.72 220.36V249.44M411.00 223.47V253.85M412.28 225.28V261.50M413.55 223.95V262.10M414.83 220.43V253.48M416.11 225.33V260.20M417.39 225.92V255.05M418.67 223.67V256.28M419.94 223.95V254.17M421.22 227.37V255.38M422.50 225.75V258.28M423.78 230.52V261.12M425.06 223.09V254.07M426.34 223.08V258.47M427.61 224.28V255.37M428.89 222.11V270.63M430.17 222.53V252.48M431.45 227.14V257.05M432.73 223.01V256.25M434.00 225.70V257.88M435.28 232.84V263.68M436.56 224.93V253.73M437.84 226.09V254.59M439.12 216.91V248.80M440.40 225.41V262.76M441.67 223.07V258.70M442.95 223.71V263.64M444.23 220.61V251.44M445.51 223.64V256.62M446.79 219.72V269.18M448.06 224.67V264.25M449.34 223.30V263.24M450.62 222.99V260.55M451.90 226.05V255.58M453.18 229.11V258.25M454.46 220.91V261.18M455.73 229.30V259.66M457.01 231.01V268.18M458.29 229.06V259.19M459.57 224.98V258.62M460.85 225.54V258.65M462.12 216.83V256.90M463.40 225.46V261.17M464.68 218.53V258.29M465.96 228.33V262.30M467.24 228.21V263.71M468.51 223.00V260.13M469.79 223.53V264.24M471.07 218.70V259.18M472.35 229.88V259.31M473.63 216.11V255.36M474.91 224.98V257.80M476.18 227.26V258.54M477.46 228.14V264.30M478.74 225.20V265.10M480.02 231.40V260.85M481.30 221.48V257.63M482.57 227.66V256.66M483.85 231.06V261.16M485.13 219.42V250.52M486.41 219.05V253.60M487.69 226.41V259.30M488.97 224.57V259.23M490.24 222.88V261.49M491.52 223.63V259.95M492.80 226.03V266.91" stroke="#d67474" stroke-width="0.95" opacity="1.0" fill="none"/><path d="M381.00 218.20h1.2M381.00 248.12h1.2M382.28 225.62h1.2M382.28 258.24h1.2M383.56 207.90h1.2M383.56 256.04h1.2M384.83 221.86h1.2M384.83 255.75h1.2M386.11 216.54h1.2M386.11 252.36h1.2M387.39 226.55h1.2M387.39 255.81h1.2M388.67 222.94h1.2M388.67 254.42h1.2M389.95 226.32h1.2M389.95 259.27h1.2M391.23 223.44h1.2M391.23 255.83h1.2M392.50 214.32h1.2M392.50 252.57h1.2M393.78 224.96h1.2M393.78 257.20h1.2M395.06 215.83h1.2M395.06 248.90h1.2M396.34 219.64h1.2M396.34 262.13h1.2M397.62 219.79h1.2M397.62 255.95h1.2M398.89 214.12h1.2M398.89 255.00h1.2M400.17 225.61h1.2M400.17 254.82h1.2M401.45 223.00h1.2M401.45 256.20h1.2M402.73 220.47h1.2M402.73 257.64h1.2M404.01 221.12h1.2M404.01 252.44h1.2M405.29 227.85h1.2M405.29 256.07h1.2M406.56 218.47h1.2M406.56 254.05h1.2M407.84 227.59h1.2M407.84 259.15h1.2M409.12 220.36h1.2M409.12 249.44h1.2M410.40 223.47h1.2M410.40 253.85h1.2M411.68 225.28h1.2M411.68 261.50h1.2M412.95 223.95h1.2M412.95 262.10h1.2M414.23 220.43h1.2M414.23 253.48h1.2M415.51 225.33h1.2M415.51 260.20h1.2M416.79 225.92h1.2M416.79 255.05h1.2M418.07 223.67h1.2M418.07 256.28h1.2M419.34 223.95h1.2M419.34 254.17h1.2M420.62 227.37h1.2M420.62 255.38h1.2M421.90 225.75h1.2M421.90 258.28h1.2M423.18 230.52h1.2M423.18 261.12h1.2M424.46 223.09h1.2M424.46 254.07h1.2M425.74 223.08h1.2M425.74 258.47h1.2M427.01 224.28h1.2M427.01 255.37h1.2M428.29 222.11h1.2M428.29 270.63h1.2M429.57 222.53h1.2M429.57 252.48h1.2M430.85 227.14h1.2M430.85 257.05h1.2M432.13 223.01h1.2M432.13 256.25h1.2M433.40 225.70h1.2M433.40 257.88h1.2M434.68 232.84h1.2M434.68 263.68h1.2M435.96 224.93h1.2M435.96 253.73h1.2M437.24 226.09h1.2M437.24 254.59h1.2M438.52 216.91h1.2M438.52 248.80h1.2M439.80 225.41h1.2M439.80 262.76h1.2M441.07 223.07h1.2M441.07 258.70h1.2M442.35 223.71h1.2M442.35 263.64h1.2M443.63 220.61h1.2M443.63 251.44h1.2M444.91 223.64h1.2M444.91 256.62h1.2M446.19 219.72h1.2M446.19 269.18h1.2M447.46 224.67h1.2M447.46 264.25h1.2M448.74 223.30h1.2M448.74 263.24h1.2M450.02 222.99h1.2M450.02 260.55h1.2M451.30 226.05h1.2M451.30 255.58h1.2M452.58 229.11h1.2M452.58 258.25h1.2M453.86 220.91h1.2M453.86 261.18h1.2M455.13 229.30h1.2M455.13 259.66h1.2M456.41 231.01h1.2M456.41 268.18h1.2M457.69 229.06h1.2M457.69 259.19h1.2M458.97 224.98h1.2M458.97 258.62h1.2M460.25 225.54h1.2M460.25 258.65h1.2M461.52 216.83h1.2M461.52 256.90h1.2M462.80 225.46h1.2M462.80 261.17h1.2M464.08 218.53h1.2M464.08 258.29h1.2M465.36 228.33h1.2M465.36 262.30h1.2M466.64 228.21h1.2M466.64 263.71h1.2M467.91 223.00h1.2M467.91 260.13h1.2M469.19 223.53h1.2M469.19 264.24h1.2M470.47 218.70h1.2M470.47 259.18h1.2M471.75 229.88h1.2M471.75 259.31h1.2M473.03 216.11h1.2M473.03 255.36h1.2M474.31 224.98h1.2M474.31 257.80h1.2M475.58 227.26h1.2M475.58 258.54h1.2M476.86 228.14h1.2M476.86 264.30h1.2M478.14 225.20h1.2M478.14 265.10h1.2M479.42 231.40h1.2M479.42 260.85h1.2M480.70 221.48h1.2M480.70 257.63h1.2M481.97 227.66h1.2M481.97 256.66h1.2M483.25 231.06h1.2M483.25 261.16h1.2M484.53 219.42h1.2M484.53 250.52h1.2M485.81 219.05h1.2M485.81 253.60h1.2M487.09 226.41h1.2M487.09 259.30h1.2M488.37 224.57h1.2M488.37 259.23h1.2M489.64 222.88h1.2M489.64 261.49h1.2M490.92 223.63h1.2M490.92 259.95h1.2M492.20 226.03h1.2M492.20 266.91h1.2" stroke="#c84848" stroke-width="0.8" fill="none"/><g fill="#bf2a2a"><circle cx="381.60" cy="233.16" r="1.1"/><circle cx="382.88" cy="241.93" r="1.1"/><circle cx="384.16" cy="231.97" r="1.1"/><circle cx="385.43" cy="238.81" r="1.1"/><circle cx="386.71" cy="234.45" r="1.1"/><circle cx="387.99" cy="241.18" r="1.1"/><circle cx="389.27" cy="238.68" r="1.1"/><circle cx="390.55" cy="242.79" r="1.1"/><circle cx="391.83" cy="239.64" r="1.1"/><circle cx="393.10" cy="233.44" r="1.1"/><circle cx="394.38" cy="241.08" r="1.1"/><circle cx="395.66" cy="232.36" r="1.1"/><circle cx="396.94" cy="240.88" r="1.1"/><circle cx="398.22" cy="237.87" r="1.1"/><circle cx="399.49" cy="234.56" r="1.1"/><circle cx="400.77" cy="240.22" r="1.1"/><circle cx="402.05" cy="239.60" r="1.1"/><circle cx="403.33" cy="239.06" r="1.1"/><circle cx="404.61" cy="236.78" r="1.1"/><circle cx="405.89" cy="241.96" r="1.1"/><circle cx="407.16" cy="236.26" r="1.1"/><circle cx="408.44" cy="243.37" r="1.1"/><circle cx="409.72" cy="234.90" r="1.1"/><circle cx="411.00" cy="238.66" r="1.1"/><circle cx="412.28" cy="243.39" r="1.1"/><circle cx="413.55" cy="243.03" r="1.1"/><circle cx="414.83" cy="236.95" r="1.1"/><circle cx="416.11" cy="242.77" r="1.1"/><circle cx="417.39" cy="240.49" r="1.1"/><circle cx="418.67" cy="239.98" r="1.1"/><circle cx="419.94" cy="239.06" r="1.1"/><circle cx="421.22" cy="241.37" r="1.1"/><circle cx="422.50" cy="242.02" r="1.1"/><circle cx="423.78" cy="245.82" r="1.1"/><circle cx="425.06" cy="238.58" r="1.1"/><circle cx="426.34" cy="240.77" r="1.1"/><circle cx="427.61" cy="239.82" r="1.1"/><circle cx="428.89" cy="246.37" r="1.1"/><circle cx="430.17" cy="237.51" r="1.1"/><circle cx="431.45" cy="242.10" r="1.1"/><circle cx="432.73" cy="239.63" r="1.1"/><circle cx="434.00" cy="241.79" r="1.1"/><circle cx="435.28" cy="248.26" r="1.1"/><circle cx="436.56" cy="239.33" r="1.1"/><circle cx="437.84" cy="240.34" r="1.1"/><circle cx="439.12" cy="232.85" r="1.1"/><circle cx="440.40" cy="244.09" r="1.1"/><circle cx="441.67" cy="240.88" r="1.1"/><circle cx="442.95" cy="243.67" r="1.1"/><circle cx="444.23" cy="236.02" r="1.1"/><circle cx="445.51" cy="240.13" r="1.1"/><circle cx="446.79" cy="244.45" r="1.1"/><circle cx="448.06" cy="244.46" r="1.1"/><circle cx="449.34" cy="243.27" r="1.1"/><circle cx="450.62" cy="241.77" r="1.1"/><circle cx="451.90" cy="240.82" r="1.1"/><circle cx="453.18" cy="243.68" r="1.1"/><circle cx="454.46" cy="241.05" r="1.1"/><circle cx="455.73" cy="244.48" r="1.1"/><circle cx="457.01" cy="249.59" r="1.1"/><circle cx="458.29" cy="244.12" r="1.1"/><circle cx="459.57" cy="241.80" r="1.1"/><circle cx="460.85" cy="242.09" r="1.1"/><circle cx="462.12" cy="236.87" r="1.1"/><circle cx="463.40" cy="243.32" r="1.1"/><circle cx="464.68" cy="238.41" r="1.1"/><circle cx="465.96" cy="245.32" r="1.1"/><circle cx="467.24" cy="245.96" r="1.1"/><circle cx="468.51" cy="241.57" r="1.1"/><circle cx="469.79" cy="243.88" r="1.1"/><circle cx="471.07" cy="238.94" r="1.1"/><circle cx="472.35" cy="244.60" r="1.1"/><circle cx="473.63" cy="235.74" r="1.1"/><circle cx="474.91" cy="241.39" r="1.1"/><circle cx="476.18" cy="242.90" r="1.1"/><circle cx="477.46" cy="246.22" r="1.1"/><circle cx="478.74" cy="245.15" r="1.1"/><circle cx="480.02" cy="246.12" r="1.1"/><circle cx="481.30" cy="239.56" r="1.1"/><circle cx="482.57" cy="242.16" r="1.1"/><circle cx="483.85" cy="246.11" r="1.1"/><circle cx="485.13" cy="234.97" r="1.1"/><circle cx="486.41" cy="236.32" r="1.1"/><circle cx="487.69" cy="242.86" r="1.1"/><circle cx="488.97" cy="241.90" r="1.1"/><circle cx="490.24" cy="242.19" r="1.1"/><circle cx="491.52" cy="241.79" r="1.1"/><circle cx="492.80" cy="246.47" r="1.1"/></g></g><line x1="378.3" y1="220.8" x2="381.0" y2="220.8" stroke="#4a4a4a" stroke-width="0.9"/><text x="377.0" y="223.8" font-family="Liberation Sans" font-size="8.3" text-anchor="end" fill="#303030">40</text><line x1="378.3" y1="245.5" x2="381.0" y2="245.5" stroke="#4a4a4a" stroke-width="0.9"/><text x="377.0" y="248.5" font-family="Liberation Sans" font-size="8.3" text-anchor="end" fill="#303030">0</text><rect x="381.0" y="268.6" width="112.20" height="55.90" fill="none" stroke="#6a6a6a" stroke-width="1.15"/><g clip-path="url(#pc6)"><path d="M381.60 310.38V318.27M382.26 313.67V320.81M382.92 310.44V316.08M383.57 314.67V320.60M384.23 316.15V321.86M384.89 309.44V315.73M385.55 310.35V318.74M386.21 312.39V319.19M386.86 311.77V319.46M387.52 310.28V316.04M388.18 313.82V320.89M388.84 310.47V316.18M389.50 310.09V316.63M390.15 314.82V321.87M390.81 313.82V320.14M391.47 315.34V322.68M392.13 313.31V320.85M392.79 312.34V318.95M393.44 310.95V321.97M394.10 310.34V319.68M394.76 314.20V324.37M395.42 314.25V320.62M396.08 316.23V322.14M396.73 310.07V316.97M397.39 312.28V320.03M398.05 314.99V321.00M398.71 314.36V320.23M399.37 312.07V317.75M400.02 310.64V322.98M400.68 312.38V318.72M401.34 311.99V318.95M402.00 314.51V322.65M402.66 312.97V323.27M403.31 312.01V318.68M403.97 310.78V318.91M404.63 314.60V321.59M405.29 314.75V322.92M405.95 313.07V320.85M406.60 307.72V315.27M407.26 313.25V321.15M407.92 313.18V319.76M408.58 312.22V319.96M409.24 311.82V319.57M409.89 309.49V317.25M410.55 312.57V318.63M411.21 311.37V317.50M411.87 313.38V319.47M412.53 310.15V317.01M413.18 310.07V317.59M413.84 314.40V320.26M414.50 310.29V319.45M415.16 312.08V318.39M415.82 314.70V322.14M416.47 312.75V319.28M417.13 313.34V321.75M417.79 311.80V319.56M418.45 312.75V320.71M419.11 316.92V324.18M419.76 309.60V321.95M420.42 312.70V318.39M421.08 310.34V316.43M421.74 312.61V318.21M422.40 313.72V320.72M423.05 314.25V320.16M423.71 309.98V317.21M424.37 309.42V318.47M425.03 310.76V317.84M425.69 312.92V321.88M426.34 315.60V322.54M427.00 309.13V317.76M427.66 313.06V321.09M428.32 312.51V322.15M428.98 307.90V316.27M429.63 308.33V315.69M430.29 312.83V320.26M430.95 312.07V320.52M431.61 308.28V316.68M432.27 314.08V319.77M432.92 306.78V312.44M433.58 308.77V316.08M434.24 304.36V310.88M434.90 298.10V307.80M435.56 292.48V298.17M436.21 285.94V295.60M436.87 283.74V290.15M437.53 278.91V288.79M438.19 279.05V284.82M438.84 277.53V286.98M439.50 280.51V288.04M440.16 283.77V290.01M440.82 291.53V298.20M441.48 296.40V302.19M442.13 299.89V311.67M442.79 303.72V311.10M443.45 306.67V315.60M444.11 304.67V311.24M444.77 310.70V319.10M445.42 310.63V318.03M446.08 308.92V314.58M446.74 310.45V316.20M447.40 312.90V320.35M448.06 312.76V318.49M448.71 312.74V319.45M449.37 309.13V320.18M450.03 310.55V318.01M450.69 310.62V317.53M451.35 312.30V318.71M452.00 312.67V320.11M452.66 311.78V319.43M453.32 312.31V320.25M453.98 313.82V322.57M454.64 315.07V323.86M455.29 312.28V318.69M455.95 309.11V316.03M456.61 312.26V318.67M457.27 313.24V320.95M457.93 309.84V319.51M458.58 310.73V320.12M459.24 310.56V317.08M459.90 312.73V319.84M460.56 311.44V317.08M461.22 314.85V320.51M461.87 312.56V319.22M462.53 313.46V320.10M463.19 308.05V315.95M463.85 310.42V317.42M464.51 310.74V317.99M465.16 308.59V320.90M465.82 310.08V315.76M466.48 312.11V319.73M467.14 310.30V317.56M467.80 309.89V319.79M468.45 315.32V321.74M469.11 307.02V313.20M469.77 307.55V316.90M470.43 313.19V324.27M471.09 313.18V319.73M471.74 308.11V319.35M472.40 309.09V318.22M473.06 312.17V318.01M473.72 310.36V321.77M474.38 311.83V318.71M475.03 309.35V317.99M475.69 314.22V321.17M476.35 311.17V317.97M477.01 314.33V320.08M477.67 314.97V321.52M478.32 311.28V317.17M478.98 315.18V321.77M479.64 314.80V320.82M480.30 311.03V317.60M480.96 310.59V317.04M481.61 310.60V318.51M482.27 311.69V321.69M482.93 311.49V317.14M483.59 309.24V319.30M484.25 311.21V321.14M484.90 314.47V320.98M485.56 311.80V320.06M486.22 313.58V319.65M486.88 310.57V323.00M487.54 313.29V319.18M488.19 314.35V323.17M488.85 317.15V322.85M489.51 311.76V322.96M490.17 315.17V321.53M490.83 310.77V318.03M491.48 314.32V319.96M492.14 313.55V319.52M492.80 312.09V320.05" stroke="#6a8be6" stroke-width="0.7" opacity="1.0" fill="none"/><path d="M381.00 310.38h1.2M381.00 318.27h1.2M381.66 313.67h1.2M381.66 320.81h1.2M382.32 310.44h1.2M382.32 316.08h1.2M382.97 314.67h1.2M382.97 320.60h1.2M383.63 316.15h1.2M383.63 321.86h1.2M384.29 309.44h1.2M384.29 315.73h1.2M384.95 310.35h1.2M384.95 318.74h1.2M385.61 312.39h1.2M385.61 319.19h1.2M386.26 311.77h1.2M386.26 319.46h1.2M386.92 310.28h1.2M386.92 316.04h1.2M387.58 313.82h1.2M387.58 320.89h1.2M388.24 310.47h1.2M388.24 316.18h1.2M388.90 310.09h1.2M388.90 316.63h1.2M389.55 314.82h1.2M389.55 321.87h1.2M390.21 313.82h1.2M390.21 320.14h1.2M390.87 315.34h1.2M390.87 322.68h1.2M391.53 313.31h1.2M391.53 320.85h1.2M392.19 312.34h1.2M392.19 318.95h1.2M392.84 310.95h1.2M392.84 321.97h1.2M393.50 310.34h1.2M393.50 319.68h1.2M394.16 314.20h1.2M394.16 324.37h1.2M394.82 314.25h1.2M394.82 320.62h1.2M395.48 316.23h1.2M395.48 322.14h1.2M396.13 310.07h1.2M396.13 316.97h1.2M396.79 312.28h1.2M396.79 320.03h1.2M397.45 314.99h1.2M397.45 321.00h1.2M398.11 314.36h1.2M398.11 320.23h1.2M398.77 312.07h1.2M398.77 317.75h1.2M399.42 310.64h1.2M399.42 322.98h1.2M400.08 312.38h1.2M400.08 318.72h1.2M400.74 311.99h1.2M400.74 318.95h1.2M401.40 314.51h1.2M401.40 322.65h1.2M402.06 312.97h1.2M402.06 323.27h1.2M402.71 312.01h1.2M402.71 318.68h1.2M403.37 310.78h1.2M403.37 318.91h1.2M404.03 314.60h1.2M404.03 321.59h1.2M404.69 314.75h1.2M404.69 322.92h1.2M405.35 313.07h1.2M405.35 320.85h1.2M406.00 307.72h1.2M406.00 315.27h1.2M406.66 313.25h1.2M406.66 321.15h1.2M407.32 313.18h1.2M407.32 319.76h1.2M407.98 312.22h1.2M407.98 319.96h1.2M408.64 311.82h1.2M408.64 319.57h1.2M409.29 309.49h1.2M409.29 317.25h1.2M409.95 312.57h1.2M409.95 318.63h1.2M410.61 311.37h1.2M410.61 317.50h1.2M411.27 313.38h1.2M411.27 319.47h1.2M411.93 310.15h1.2M411.93 317.01h1.2M412.58 310.07h1.2M412.58 317.59h1.2M413.24 314.40h1.2M413.24 320.26h1.2M413.90 310.29h1.2M413.90 319.45h1.2M414.56 312.08h1.2M414.56 318.39h1.2M415.22 314.70h1.2M415.22 322.14h1.2M415.87 312.75h1.2M415.87 319.28h1.2M416.53 313.34h1.2M416.53 321.75h1.2M417.19 311.80h1.2M417.19 319.56h1.2M417.85 312.75h1.2M417.85 320.71h1.2M418.51 316.92h1.2M418.51 324.18h1.2M419.16 309.60h1.2M419.16 321.95h1.2M419.82 312.70h1.2M419.82 318.39h1.2M420.48 310.34h1.2M420.48 316.43h1.2M421.14 312.61h1.2M421.14 318.21h1.2M421.80 313.72h1.2M421.80 320.72h1.2M422.45 314.25h1.2M422.45 320.16h1.2M423.11 309.98h1.2M423.11 317.21h1.2M423.77 309.42h1.2M423.77 318.47h1.2M424.43 310.76h1.2M424.43 317.84h1.2M425.09 312.92h1.2M425.09 321.88h1.2M425.74 315.60h1.2M425.74 322.54h1.2M426.40 309.13h1.2M426.40 317.76h1.2M427.06 313.06h1.2M427.06 321.09h1.2M427.72 312.51h1.2M427.72 322.15h1.2M428.38 307.90h1.2M428.38 316.27h1.2M429.03 308.33h1.2M429.03 315.69h1.2M429.69 312.83h1.2M429.69 320.26h1.2M430.35 312.07h1.2M430.35 320.52h1.2M431.01 308.28h1.2M431.01 316.68h1.2M431.67 314.08h1.2M431.67 319.77h1.2M432.32 306.78h1.2M432.32 312.44h1.2M432.98 308.77h1.2M432.98 316.08h1.2M433.64 304.36h1.2M433.64 310.88h1.2M434.30 298.10h1.2M434.30 307.80h1.2M434.96 292.48h1.2M434.96 298.17h1.2M435.61 285.94h1.2M435.61 295.60h1.2M436.27 283.74h1.2M436.27 290.15h1.2M436.93 278.91h1.2M436.93 288.79h1.2M437.59 279.05h1.2M437.59 284.82h1.2M438.24 277.53h1.2M438.24 286.98h1.2M438.90 280.51h1.2M438.90 288.04h1.2M439.56 283.77h1.2M439.56 290.01h1.2M440.22 291.53h1.2M440.22 298.20h1.2M440.88 296.40h1.2M440.88 302.19h1.2M441.53 299.89h1.2M441.53 311.67h1.2M442.19 303.72h1.2M442.19 311.10h1.2M442.85 306.67h1.2M442.85 315.60h1.2M443.51 304.67h1.2M443.51 311.24h1.2M444.17 310.70h1.2M444.17 319.10h1.2M444.82 310.63h1.2M444.82 318.03h1.2M445.48 308.92h1.2M445.48 314.58h1.2M446.14 310.45h1.2M446.14 316.20h1.2M446.80 312.90h1.2M446.80 320.35h1.2M447.46 312.76h1.2M447.46 318.49h1.2M448.11 312.74h1.2M448.11 319.45h1.2M448.77 309.13h1.2M448.77 320.18h1.2M449.43 310.55h1.2M449.43 318.01h1.2M450.09 310.62h1.2M450.09 317.53h1.2M450.75 312.30h1.2M450.75 318.71h1.2M451.40 312.67h1.2M451.40 320.11h1.2M452.06 311.78h1.2M452.06 319.43h1.2M452.72 312.31h1.2M452.72 320.25h1.2M453.38 313.82h1.2M453.38 322.57h1.2M454.04 315.07h1.2M454.04 323.86h1.2M454.69 312.28h1.2M454.69 318.69h1.2M455.35 309.11h1.2M455.35 316.03h1.2M456.01 312.26h1.2M456.01 318.67h1.2M456.67 313.24h1.2M456.67 320.95h1.2M457.33 309.84h1.2M457.33 319.51h1.2M457.98 310.73h1.2M457.98 320.12h1.2M458.64 310.56h1.2M458.64 317.08h1.2M459.30 312.73h1.2M459.30 319.84h1.2M459.96 311.44h1.2M459.96 317.08h1.2M460.62 314.85h1.2M460.62 320.51h1.2M461.27 312.56h1.2M461.27 319.22h1.2M461.93 313.46h1.2M461.93 320.10h1.2M462.59 308.05h1.2M462.59 315.95h1.2M463.25 310.42h1.2M463.25 317.42h1.2M463.91 310.74h1.2M463.91 317.99h1.2M464.56 308.59h1.2M464.56 320.90h1.2M465.22 310.08h1.2M465.22 315.76h1.2M465.88 312.11h1.2M465.88 319.73h1.2M466.54 310.30h1.2M466.54 317.56h1.2M467.20 309.89h1.2M467.20 319.79h1.2M467.85 315.32h1.2M467.85 321.74h1.2M468.51 307.02h1.2M468.51 313.20h1.2M469.17 307.55h1.2M469.17 316.90h1.2M469.83 313.19h1.2M469.83 324.27h1.2M470.49 313.18h1.2M470.49 319.73h1.2M471.14 308.11h1.2M471.14 319.35h1.2M471.80 309.09h1.2M471.80 318.22h1.2M472.46 312.17h1.2M472.46 318.01h1.2M473.12 310.36h1.2M473.12 321.77h1.2M473.78 311.83h1.2M473.78 318.71h1.2M474.43 309.35h1.2M474.43 317.99h1.2M475.09 314.22h1.2M475.09 321.17h1.2M475.75 311.17h1.2M475.75 317.97h1.2M476.41 314.33h1.2M476.41 320.08h1.2M477.07 314.97h1.2M477.07 321.52h1.2M477.72 311.28h1.2M477.72 317.17h1.2M478.38 315.18h1.2M478.38 321.77h1.2M479.04 314.80h1.2M479.04 320.82h1.2M479.70 311.03h1.2M479.70 317.60h1.2M480.36 310.59h1.2M480.36 317.04h1.2M481.01 310.60h1.2M481.01 318.51h1.2M481.67 311.69h1.2M481.67 321.69h1.2M482.33 311.49h1.2M482.33 317.14h1.2M482.99 309.24h1.2M482.99 319.30h1.2M483.65 311.21h1.2M483.65 321.14h1.2M484.30 314.47h1.2M484.30 320.98h1.2M484.96 311.80h1.2M484.96 320.06h1.2M485.62 313.58h1.2M485.62 319.65h1.2M486.28 310.57h1.2M486.28 323.00h1.2M486.94 313.29h1.2M486.94 319.18h1.2M487.59 314.35h1.2M487.59 323.17h1.2M488.25 317.15h1.2M488.25 322.85h1.2M488.91 311.76h1.2M488.91 322.96h1.2M489.57 315.17h1.2M489.57 321.53h1.2M490.23 310.77h1.2M490.23 318.03h1.2M490.88 314.32h1.2M490.88 319.96h1.2M491.54 313.55h1.2M491.54 319.52h1.2M492.20 312.09h1.2M492.20 320.05h1.2" stroke="#5077e0" stroke-width="0.8" fill="none"/><g fill="#3560dc"><circle cx="381.60" cy="314.32" r="0.85"/><circle cx="382.26" cy="317.24" r="0.85"/><circle cx="382.92" cy="313.26" r="0.85"/><circle cx="383.57" cy="317.63" r="0.85"/><circle cx="384.23" cy="319.00" r="0.85"/><circle cx="384.89" cy="312.59" r="0.85"/><circle cx="385.55" cy="314.54" r="0.85"/><circle cx="386.21" cy="315.79" r="0.85"/><circle cx="386.86" cy="315.61" r="0.85"/><circle cx="387.52" cy="313.16" r="0.85"/><circle cx="388.18" cy="317.35" r="0.85"/><circle cx="388.84" cy="313.32" r="0.85"/><circle cx="389.50" cy="313.36" r="0.85"/><circle cx="390.15" cy="318.35" r="0.85"/><circle cx="390.81" cy="316.98" r="0.85"/><circle cx="391.47" cy="319.01" r="0.85"/><circle cx="392.13" cy="317.08" r="0.85"/><circle cx="392.79" cy="315.64" r="0.85"/><circle cx="393.44" cy="316.46" r="0.85"/><circle cx="394.10" cy="315.01" r="0.85"/><circle cx="394.76" cy="319.29" r="0.85"/><circle cx="395.42" cy="317.43" r="0.85"/><circle cx="396.08" cy="319.18" r="0.85"/><circle cx="396.73" cy="313.52" r="0.85"/><circle cx="397.39" cy="316.16" r="0.85"/><circle cx="398.05" cy="318.00" r="0.85"/><circle cx="398.71" cy="317.29" r="0.85"/><circle cx="399.37" cy="314.91" r="0.85"/><circle cx="400.02" cy="316.81" r="0.85"/><circle cx="400.68" cy="315.55" r="0.85"/><circle cx="401.34" cy="315.47" r="0.85"/><circle cx="402.00" cy="318.58" r="0.85"/><circle cx="402.66" cy="318.12" r="0.85"/><circle cx="403.31" cy="315.35" r="0.85"/><circle cx="403.97" cy="314.84" r="0.85"/><circle cx="404.63" cy="318.10" r="0.85"/><circle cx="405.29" cy="318.84" r="0.85"/><circle cx="405.95" cy="316.96" r="0.85"/><circle cx="406.60" cy="311.50" r="0.85"/><circle cx="407.26" cy="317.20" r="0.85"/><circle cx="407.92" cy="316.47" r="0.85"/><circle cx="408.58" cy="316.09" r="0.85"/><circle cx="409.24" cy="315.69" r="0.85"/><circle cx="409.89" cy="313.37" r="0.85"/><circle cx="410.55" cy="315.60" r="0.85"/><circle cx="411.21" cy="314.43" r="0.85"/><circle cx="411.87" cy="316.43" r="0.85"/><circle cx="412.53" cy="313.58" r="0.85"/><circle cx="413.18" cy="313.83" r="0.85"/><circle cx="413.84" cy="317.33" r="0.85"/><circle cx="414.50" cy="314.87" r="0.85"/><circle cx="415.16" cy="315.23" r="0.85"/><circle cx="415.82" cy="318.42" r="0.85"/><circle cx="416.47" cy="316.01" r="0.85"/><circle cx="417.13" cy="317.55" r="0.85"/><circle cx="417.79" cy="315.68" r="0.85"/><circle cx="418.45" cy="316.73" r="0.85"/><circle cx="419.11" cy="320.55" r="0.85"/><circle cx="419.76" cy="315.77" r="0.85"/><circle cx="420.42" cy="315.55" r="0.85"/><circle cx="421.08" cy="313.38" r="0.85"/><circle cx="421.74" cy="315.41" r="0.85"/><circle cx="422.40" cy="317.22" r="0.85"/><circle cx="423.05" cy="317.20" r="0.85"/><circle cx="423.71" cy="313.60" r="0.85"/><circle cx="424.37" cy="313.95" r="0.85"/><circle cx="425.03" cy="314.30" r="0.85"/><circle cx="425.69" cy="317.40" r="0.85"/><circle cx="426.34" cy="319.07" r="0.85"/><circle cx="427.00" cy="313.44" r="0.85"/><circle cx="427.66" cy="317.08" r="0.85"/><circle cx="428.32" cy="317.33" r="0.85"/><circle cx="428.98" cy="312.08" r="0.85"/><circle cx="429.63" cy="312.01" r="0.85"/><circle cx="430.29" cy="316.55" r="0.85"/><circle cx="430.95" cy="316.30" r="0.85"/><circle cx="431.61" cy="312.48" r="0.85"/><circle cx="432.27" cy="316.93" r="0.85"/><circle cx="432.92" cy="309.61" r="0.85"/><circle cx="433.58" cy="312.43" r="0.85"/><circle cx="434.24" cy="307.62" r="0.85"/><circle cx="434.90" cy="302.95" r="0.85"/><circle cx="435.56" cy="295.33" r="0.85"/><circle cx="436.21" cy="290.77" r="0.85"/><circle cx="436.87" cy="286.94" r="0.85"/><circle cx="437.53" cy="283.85" r="0.85"/><circle cx="438.19" cy="281.94" r="0.85"/><circle cx="438.84" cy="282.25" r="0.85"/><circle cx="439.50" cy="284.27" r="0.85"/><circle cx="440.16" cy="286.89" r="0.85"/><circle cx="440.82" cy="294.86" r="0.85"/><circle cx="441.48" cy="299.30" r="0.85"/><circle cx="442.13" cy="305.78" r="0.85"/><circle cx="442.79" cy="307.41" r="0.85"/><circle cx="443.45" cy="311.14" r="0.85"/><circle cx="444.11" cy="307.95" r="0.85"/><circle cx="444.77" cy="314.90" r="0.85"/><circle cx="445.42" cy="314.33" r="0.85"/><circle cx="446.08" cy="311.75" r="0.85"/><circle cx="446.74" cy="313.33" r="0.85"/><circle cx="447.40" cy="316.62" r="0.85"/><circle cx="448.06" cy="315.63" r="0.85"/><circle cx="448.71" cy="316.10" r="0.85"/><circle cx="449.37" cy="314.65" r="0.85"/><circle cx="450.03" cy="314.28" r="0.85"/><circle cx="450.69" cy="314.08" r="0.85"/><circle cx="451.35" cy="315.51" r="0.85"/><circle cx="452.00" cy="316.39" r="0.85"/><circle cx="452.66" cy="315.61" r="0.85"/><circle cx="453.32" cy="316.28" r="0.85"/><circle cx="453.98" cy="318.19" r="0.85"/><circle cx="454.64" cy="319.46" r="0.85"/><circle cx="455.29" cy="315.48" r="0.85"/><circle cx="455.95" cy="312.57" r="0.85"/><circle cx="456.61" cy="315.46" r="0.85"/><circle cx="457.27" cy="317.10" r="0.85"/><circle cx="457.93" cy="314.68" r="0.85"/><circle cx="458.58" cy="315.42" r="0.85"/><circle cx="459.24" cy="313.82" r="0.85"/><circle cx="459.90" cy="316.28" r="0.85"/><circle cx="460.56" cy="314.26" r="0.85"/><circle cx="461.22" cy="317.68" r="0.85"/><circle cx="461.87" cy="315.89" r="0.85"/><circle cx="462.53" cy="316.78" r="0.85"/><circle cx="463.19" cy="312.00" r="0.85"/><circle cx="463.85" cy="313.92" r="0.85"/><circle cx="464.51" cy="314.37" r="0.85"/><circle cx="465.16" cy="314.74" r="0.85"/><circle cx="465.82" cy="312.92" r="0.85"/><circle cx="466.48" cy="315.92" r="0.85"/><circle cx="467.14" cy="313.93" r="0.85"/><circle cx="467.80" cy="314.84" r="0.85"/><circle cx="468.45" cy="318.53" r="0.85"/><circle cx="469.11" cy="310.11" r="0.85"/><circle cx="469.77" cy="312.23" r="0.85"/><circle cx="470.43" cy="318.73" r="0.85"/><circle cx="471.09" cy="316.45" r="0.85"/><circle cx="471.74" cy="313.73" r="0.85"/><circle cx="472.40" cy="313.66" r="0.85"/><circle cx="473.06" cy="315.09" r="0.85"/><circle cx="473.72" cy="316.07" r="0.85"/><circle cx="474.38" cy="315.27" r="0.85"/><circle cx="475.03" cy="313.67" r="0.85"/><circle cx="475.69" cy="317.69" r="0.85"/><circle cx="476.35" cy="314.57" r="0.85"/><circle cx="477.01" cy="317.21" r="0.85"/><circle cx="477.67" cy="318.24" r="0.85"/><circle cx="478.32" cy="314.23" r="0.85"/><circle cx="478.98" cy="318.48" r="0.85"/><circle cx="479.64" cy="317.81" r="0.85"/><circle cx="480.30" cy="314.32" r="0.85"/><circle cx="480.96" cy="313.81" r="0.85"/><circle cx="481.61" cy="314.56" r="0.85"/><circle cx="482.27" cy="316.69" r="0.85"/><circle cx="482.93" cy="314.31" r="0.85"/><circle cx="483.59" cy="314.27" r="0.85"/><circle cx="484.25" cy="316.17" r="0.85"/><circle cx="484.90" cy="317.72" r="0.85"/><circle cx="485.56" cy="315.93" r="0.85"/><circle cx="486.22" cy="316.61" r="0.85"/><circle cx="486.88" cy="316.78" r="0.85"/><circle cx="487.54" cy="316.23" r="0.85"/><circle cx="488.19" cy="318.76" r="0.85"/><circle cx="488.85" cy="320.00" r="0.85"/><circle cx="489.51" cy="317.36" r="0.85"/><circle cx="490.17" cy="318.35" r="0.85"/><circle cx="490.83" cy="314.40" r="0.85"/><circle cx="491.48" cy="317.14" r="0.85"/><circle cx="492.14" cy="316.54" r="0.85"/><circle cx="492.80" cy="316.07" r="0.85"/></g><path d="M381.50 315.60L382.06 315.60L382.62 315.60L383.17 315.60L383.73 315.60L384.29 315.60L384.85 315.60L385.40 315.60L385.96 315.60L386.52 315.60L387.07 315.60L387.63 315.60L388.19 315.60L388.75 315.60L389.31 315.60L389.86 315.60L390.42 315.60L390.98 315.60L391.54 315.60L392.09 315.60L392.65 315.60L393.21 315.60L393.76 315.60L394.32 315.60L394.88 315.60L395.44 315.60L396.00 315.60L396.55 315.60L397.11 315.60L397.67 315.60L398.23 315.60L398.78 315.60L399.34 315.60L399.90 315.60L400.45 315.60L401.01 315.60L401.57 315.60L402.13 315.60L402.69 315.60L403.24 315.60L403.80 315.60L404.36 315.60L404.92 315.60L405.47 315.60L406.03 315.60L406.59 315.60L407.14 315.60L407.70 315.60L408.26 315.60L408.82 315.60L409.38 315.60L409.93 315.60L410.49 315.60L411.05 315.60L411.61 315.60L412.16 315.60L412.72 315.60L413.28 315.60L413.83 315.60L414.39 315.60L414.95 315.60L415.51 315.60L416.06 315.60L416.62 315.60L417.18 315.60L417.74 315.60L418.30 315.60L418.85 315.60L419.41 315.60L419.97 315.60L420.52 315.60L421.08 315.60L421.64 315.60L422.20 315.60L422.75 315.60L423.31 315.60L423.87 315.60L424.43 315.60L424.99 315.60L425.54 315.60L426.10 315.60L426.66 315.60L427.22 315.60L427.77 315.59L428.33 315.58L428.89 315.56L429.44 315.51L430.00 315.42L430.56 315.24L431.12 314.94L431.68 314.42L432.23 313.59L432.79 312.33L433.35 310.53L433.90 308.08L434.46 304.96L435.02 301.21L435.58 297.02L436.13 292.68L436.69 288.60L437.25 285.22L437.81 282.96L438.37 282.10L438.92 282.77L439.48 284.87L440.04 288.13L440.60 292.14L441.15 296.47L441.71 300.70L442.27 304.52L442.82 307.73L443.38 310.26L443.94 312.14L444.50 313.46L445.06 314.33L445.61 314.89L446.17 315.21L446.73 315.40L447.28 315.50L447.84 315.55L448.40 315.58L448.96 315.59L449.51 315.60L450.07 315.60L450.63 315.60L451.19 315.60L451.75 315.60L452.30 315.60L452.86 315.60L453.42 315.60L453.98 315.60L454.53 315.60L455.09 315.60L455.65 315.60L456.20 315.60L456.76 315.60L457.32 315.60L457.88 315.60L458.44 315.60L458.99 315.60L459.55 315.60L460.11 315.60L460.67 315.60L461.22 315.60L461.78 315.60L462.34 315.60L462.89 315.60L463.45 315.60L464.01 315.60L464.57 315.60L465.12 315.60L465.68 315.60L466.24 315.60L466.80 315.60L467.36 315.60L467.91 315.60L468.47 315.60L469.03 315.60L469.58 315.60L470.14 315.60L470.70 315.60L471.26 315.60L471.81 315.60L472.37 315.60L472.93 315.60L473.49 315.60L474.05 315.60L474.60 315.60L475.16 315.60L475.72 315.60L476.27 315.60L476.83 315.60L477.39 315.60L477.95 315.60L478.50 315.60L479.06 315.60L479.62 315.60L480.18 315.60L480.74 315.60L481.29 315.60L481.85 315.60L482.41 315.60L482.97 315.60L483.52 315.60L484.08 315.60L484.64 315.60L485.19 315.60L485.75 315.60L486.31 315.60L486.87 315.60L487.43 315.60L487.98 315.60L488.54 315.60L489.10 315.60L489.65 315.60L490.21 315.60L490.77 315.60L491.33 315.60L491.88 315.60L492.44 315.60L493.00 315.60" stroke="#ec1414" stroke-width="1.5" fill="none"/></g><line x1="378.3" y1="276.0" x2="381.0" y2="276.0" stroke="#4a4a4a" stroke-width="0.9"/><text x="377.0" y="279.0" font-family="Liberation Sans" font-size="8.3" text-anchor="end" fill="#303030">3000</text><line x1="378.3" y1="296.7" x2="381.0" y2="296.7" stroke="#4a4a4a" stroke-width="0.9"/><text x="377.0" y="299.7" font-family="Liberation Sans" font-size="8.3" text-anchor="end" fill="#303030">1500</text><line x1="378.3" y1="317.5" x2="381.0" y2="317.5" stroke="#4a4a4a" stroke-width="0.9"/><text x="377.0" y="320.5" font-family="Liberation Sans" font-size="8.3" text-anchor="end" fill="#303030">0</text><rect x="381.0" y="331.8" width="112.20" height="55.80" fill="none" stroke="#6a6a6a" stroke-width="1.15"/><g clip-path="url(#pc7)"><path d="M381.60 352.85V378.72M382.35 355.11V378.78M383.09 349.15V376.63M383.84 353.63V378.57M384.59 354.89V377.23M385.33 351.08V375.80M386.08 355.00V377.29M386.82 356.14V377.52M387.57 356.48V378.57M388.32 352.81V380.31M389.06 354.83V377.41M389.81 358.44V379.78M390.56 354.45V379.46M391.30 355.78V377.83M392.05 360.39V379.98M392.79 358.89V380.39M393.54 358.57V377.80M394.29 357.03V379.39M395.03 361.71V382.35M395.78 357.53V377.39M396.53 357.05V376.68M397.27 360.30V378.98M398.02 358.50V381.01M398.77 359.17V381.43M399.51 358.71V377.57M400.26 359.00V378.58M401.00 360.80V378.67M401.75 359.94V381.36M402.50 361.32V378.61M403.24 363.75V380.49M403.99 356.45V380.06M404.74 363.14V384.90M405.48 362.35V378.85M406.23 363.85V380.92M406.97 361.55V379.61M407.72 362.47V380.23M408.47 360.87V378.37M409.21 361.41V381.58M409.96 363.73V378.86M410.71 364.74V380.48M411.45 363.40V377.91M412.20 364.59V379.73M412.94 364.85V380.03M413.69 365.49V383.49M414.44 364.69V378.34M415.18 359.90V378.04M415.93 365.99V377.92M416.68 366.17V382.10M417.42 368.50V379.93M418.17 364.70V376.74M418.92 367.31V384.15M419.66 369.64V380.94M420.41 369.03V380.83M421.15 371.00V381.87M421.90 370.31V381.53M422.65 369.73V382.00M423.39 367.21V382.19M424.14 370.91V380.61M424.89 367.65V379.14M425.63 369.85V381.57M426.38 371.18V381.34M427.12 369.40V381.97M427.87 370.42V380.18M428.62 373.53V381.49M429.36 371.11V380.47M430.11 371.29V380.57M430.86 371.48V382.39M431.60 373.12V380.69M432.35 369.74V378.21M433.10 370.46V377.53M433.84 368.74V378.96M434.59 364.96V372.36M435.33 357.77V371.17M436.08 355.29V365.11M436.83 350.15V358.75M437.57 346.51V360.64M438.32 340.96V348.56M439.07 338.38V346.52M439.81 342.34V348.60M440.56 336.84V345.57M441.30 340.05V349.74M442.05 348.58V355.04M442.80 357.04V363.42M443.54 355.39V366.81M444.29 365.28V373.65M445.04 365.07V373.82M445.78 369.66V377.74M446.53 367.14V374.11M447.28 372.25V380.60M448.02 369.83V383.69M448.77 371.99V379.56M449.51 375.10V384.15M450.26 371.95V378.07M451.01 373.21V380.63M451.75 373.05V381.57M452.50 372.03V379.72M453.25 371.57V379.78M453.99 368.10V377.60M454.74 371.99V379.78M455.48 371.14V380.31M456.23 370.67V377.02M456.98 372.45V380.13M457.72 368.55V381.29M458.47 373.95V381.00M459.22 372.10V378.99M459.96 372.31V379.68M460.71 369.80V378.17M461.46 370.75V378.71M462.20 369.87V377.91M462.95 369.65V377.77M463.69 370.68V377.81M464.44 374.81V381.46M465.19 371.76V377.92M465.93 370.54V382.09M466.68 371.91V378.43M467.43 372.33V378.58M468.17 373.22V381.67M468.92 373.84V381.72M469.66 372.90V378.96M470.41 373.46V380.47M471.16 371.35V382.87M471.90 373.83V379.91M472.65 372.80V378.88M473.40 374.96V381.49M474.14 373.55V387.89M474.89 371.15V382.99M475.63 371.72V386.21M476.38 370.19V376.60M477.13 374.75V381.71M477.87 371.69V384.87M478.62 375.17V382.36M479.37 373.50V381.38M480.11 374.64V382.20M480.86 373.94V381.57M481.61 370.75V376.86M482.35 373.52V381.93M483.10 372.95V379.05M483.84 375.15V381.62M484.59 373.20V385.57M485.34 369.70V381.85M486.08 372.78V383.68M486.83 373.66V382.26M487.58 370.98V379.26M488.32 372.70V381.62M489.07 367.87V377.06M489.81 372.90V385.06M490.56 369.35V377.69M491.31 370.42V378.82M492.05 372.84V379.09M492.80 366.67V376.86" stroke="#7c7c7c" stroke-width="0.75" opacity="1.0" fill="none"/><path d="M381.00 352.85h1.2M381.00 378.72h1.2M381.75 355.11h1.2M381.75 378.78h1.2M382.49 349.15h1.2M382.49 376.63h1.2M383.24 353.63h1.2M383.24 378.57h1.2M383.99 354.89h1.2M383.99 377.23h1.2M384.73 351.08h1.2M384.73 375.80h1.2M385.48 355.00h1.2M385.48 377.29h1.2M386.22 356.14h1.2M386.22 377.52h1.2M386.97 356.48h1.2M386.97 378.57h1.2M387.72 352.81h1.2M387.72 380.31h1.2M388.46 354.83h1.2M388.46 377.41h1.2M389.21 358.44h1.2M389.21 379.78h1.2M389.96 354.45h1.2M389.96 379.46h1.2M390.70 355.78h1.2M390.70 377.83h1.2M391.45 360.39h1.2M391.45 379.98h1.2M392.19 358.89h1.2M392.19 380.39h1.2M392.94 358.57h1.2M392.94 377.80h1.2M393.69 357.03h1.2M393.69 379.39h1.2M394.43 361.71h1.2M394.43 382.35h1.2M395.18 357.53h1.2M395.18 377.39h1.2M395.93 357.05h1.2M395.93 376.68h1.2M396.67 360.30h1.2M396.67 378.98h1.2M397.42 358.50h1.2M397.42 381.01h1.2M398.17 359.17h1.2M398.17 381.43h1.2M398.91 358.71h1.2M398.91 377.57h1.2M399.66 359.00h1.2M399.66 378.58h1.2M400.40 360.80h1.2M400.40 378.67h1.2M401.15 359.94h1.2M401.15 381.36h1.2M401.90 361.32h1.2M401.90 378.61h1.2M402.64 363.75h1.2M402.64 380.49h1.2M403.39 356.45h1.2M403.39 380.06h1.2M404.14 363.14h1.2M404.14 384.90h1.2M404.88 362.35h1.2M404.88 378.85h1.2M405.63 363.85h1.2M405.63 380.92h1.2M406.37 361.55h1.2M406.37 379.61h1.2M407.12 362.47h1.2M407.12 380.23h1.2M407.87 360.87h1.2M407.87 378.37h1.2M408.61 361.41h1.2M408.61 381.58h1.2M409.36 363.73h1.2M409.36 378.86h1.2M410.11 364.74h1.2M410.11 380.48h1.2M410.85 363.40h1.2M410.85 377.91h1.2M411.60 364.59h1.2M411.60 379.73h1.2M412.34 364.85h1.2M412.34 380.03h1.2M413.09 365.49h1.2M413.09 383.49h1.2M413.84 364.69h1.2M413.84 378.34h1.2M414.58 359.90h1.2M414.58 378.04h1.2M415.33 365.99h1.2M415.33 377.92h1.2M416.08 366.17h1.2M416.08 382.10h1.2M416.82 368.50h1.2M416.82 379.93h1.2M417.57 364.70h1.2M417.57 376.74h1.2M418.32 367.31h1.2M418.32 384.15h1.2M419.06 369.64h1.2M419.06 380.94h1.2M419.81 369.03h1.2M419.81 380.83h1.2M420.55 371.00h1.2M420.55 381.87h1.2M421.30 370.31h1.2M421.30 381.53h1.2M422.05 369.73h1.2M422.05 382.00h1.2M422.79 367.21h1.2M422.79 382.19h1.2M423.54 370.91h1.2M423.54 380.61h1.2M424.29 367.65h1.2M424.29 379.14h1.2M425.03 369.85h1.2M425.03 381.57h1.2M425.78 371.18h1.2M425.78 381.34h1.2M426.52 369.40h1.2M426.52 381.97h1.2M427.27 370.42h1.2M427.27 380.18h1.2M428.02 373.53h1.2M428.02 381.49h1.2M428.76 371.11h1.2M428.76 380.47h1.2M429.51 371.29h1.2M429.51 380.57h1.2M430.26 371.48h1.2M430.26 382.39h1.2M431.00 373.12h1.2M431.00 380.69h1.2M431.75 369.74h1.2M431.75 378.21h1.2M432.50 370.46h1.2M432.50 377.53h1.2M433.24 368.74h1.2M433.24 378.96h1.2M433.99 364.96h1.2M433.99 372.36h1.2M434.73 357.77h1.2M434.73 371.17h1.2M435.48 355.29h1.2M435.48 365.11h1.2M436.23 350.15h1.2M436.23 358.75h1.2M436.97 346.51h1.2M436.97 360.64h1.2M437.72 340.96h1.2M437.72 348.56h1.2M438.47 338.38h1.2M438.47 346.52h1.2M439.21 342.34h1.2M439.21 348.60h1.2M439.96 336.84h1.2M439.96 345.57h1.2M440.70 340.05h1.2M440.70 349.74h1.2M441.45 348.58h1.2M441.45 355.04h1.2M442.20 357.04h1.2M442.20 363.42h1.2M442.94 355.39h1.2M442.94 366.81h1.2M443.69 365.28h1.2M443.69 373.65h1.2M444.44 365.07h1.2M444.44 373.82h1.2M445.18 369.66h1.2M445.18 377.74h1.2M445.93 367.14h1.2M445.93 374.11h1.2M446.68 372.25h1.2M446.68 380.60h1.2M447.42 369.83h1.2M447.42 383.69h1.2M448.17 371.99h1.2M448.17 379.56h1.2M448.91 375.10h1.2M448.91 384.15h1.2M449.66 371.95h1.2M449.66 378.07h1.2M450.41 373.21h1.2M450.41 380.63h1.2M451.15 373.05h1.2M451.15 381.57h1.2M451.90 372.03h1.2M451.90 379.72h1.2M452.65 371.57h1.2M452.65 379.78h1.2M453.39 368.10h1.2M453.39 377.60h1.2M454.14 371.99h1.2M454.14 379.78h1.2M454.88 371.14h1.2M454.88 380.31h1.2M455.63 370.67h1.2M455.63 377.02h1.2M456.38 372.45h1.2M456.38 380.13h1.2M457.12 368.55h1.2M457.12 381.29h1.2M457.87 373.95h1.2M457.87 381.00h1.2M458.62 372.10h1.2M458.62 378.99h1.2M459.36 372.31h1.2M459.36 379.68h1.2M460.11 369.80h1.2M460.11 378.17h1.2M460.86 370.75h1.2M460.86 378.71h1.2M461.60 369.87h1.2M461.60 377.91h1.2M462.35 369.65h1.2M462.35 377.77h1.2M463.09 370.68h1.2M463.09 377.81h1.2M463.84 374.81h1.2M463.84 381.46h1.2M464.59 371.76h1.2M464.59 377.92h1.2M465.33 370.54h1.2M465.33 382.09h1.2M466.08 371.91h1.2M466.08 378.43h1.2M466.83 372.33h1.2M466.83 378.58h1.2M467.57 373.22h1.2M467.57 381.67h1.2M468.32 373.84h1.2M468.32 381.72h1.2M469.06 372.90h1.2M469.06 378.96h1.2M469.81 373.46h1.2M469.81 380.47h1.2M470.56 371.35h1.2M470.56 382.87h1.2M471.30 373.83h1.2M471.30 379.91h1.2M472.05 372.80h1.2M472.05 378.88h1.2M472.80 374.96h1.2M472.80 381.49h1.2M473.54 373.55h1.2M473.54 387.89h1.2M474.29 371.15h1.2M474.29 382.99h1.2M475.03 371.72h1.2M475.03 386.21h1.2M475.78 370.19h1.2M475.78 376.60h1.2M476.53 374.75h1.2M476.53 381.71h1.2M477.27 371.69h1.2M477.27 384.87h1.2M478.02 375.17h1.2M478.02 382.36h1.2M478.77 373.50h1.2M478.77 381.38h1.2M479.51 374.64h1.2M479.51 382.20h1.2M480.26 373.94h1.2M480.26 381.57h1.2M481.01 370.75h1.2M481.01 376.86h1.2M481.75 373.52h1.2M481.75 381.93h1.2M482.50 372.95h1.2M482.50 379.05h1.2M483.24 375.15h1.2M483.24 381.62h1.2M483.99 373.20h1.2M483.99 385.57h1.2M484.74 369.70h1.2M484.74 381.85h1.2M485.48 372.78h1.2M485.48 383.68h1.2M486.23 373.66h1.2M486.23 382.26h1.2M486.98 370.98h1.2M486.98 379.26h1.2M487.72 372.70h1.2M487.72 381.62h1.2M488.47 367.87h1.2M488.47 377.06h1.2M489.21 372.90h1.2M489.21 385.06h1.2M489.96 369.35h1.2M489.96 377.69h1.2M490.71 370.42h1.2M490.71 378.82h1.2M491.45 372.84h1.2M491.45 379.09h1.2M492.20 366.67h1.2M492.20 376.86h1.2" stroke="#444" stroke-width="0.8" fill="none"/><g fill="#111"><circle cx="381.60" cy="365.79" r="0.95"/><circle cx="382.35" cy="366.94" r="0.95"/><circle cx="383.09" cy="362.89" r="0.95"/><circle cx="383.84" cy="366.10" r="0.95"/><circle cx="384.59" cy="366.06" r="0.95"/><circle cx="385.33" cy="363.44" r="0.95"/><circle cx="386.08" cy="366.14" r="0.95"/><circle cx="386.82" cy="366.83" r="0.95"/><circle cx="387.57" cy="367.53" r="0.95"/><circle cx="388.32" cy="366.56" r="0.95"/><circle cx="389.06" cy="366.12" r="0.95"/><circle cx="389.81" cy="369.11" r="0.95"/><circle cx="390.56" cy="366.95" r="0.95"/><circle cx="391.30" cy="366.80" r="0.95"/><circle cx="392.05" cy="370.18" r="0.95"/><circle cx="392.79" cy="369.64" r="0.95"/><circle cx="393.54" cy="368.18" r="0.95"/><circle cx="394.29" cy="368.21" r="0.95"/><circle cx="395.03" cy="372.03" r="0.95"/><circle cx="395.78" cy="367.46" r="0.95"/><circle cx="396.53" cy="366.86" r="0.95"/><circle cx="397.27" cy="369.64" r="0.95"/><circle cx="398.02" cy="369.75" r="0.95"/><circle cx="398.77" cy="370.30" r="0.95"/><circle cx="399.51" cy="368.14" r="0.95"/><circle cx="400.26" cy="368.79" r="0.95"/><circle cx="401.00" cy="369.74" r="0.95"/><circle cx="401.75" cy="370.65" r="0.95"/><circle cx="402.50" cy="369.97" r="0.95"/><circle cx="403.24" cy="372.12" r="0.95"/><circle cx="403.99" cy="368.26" r="0.95"/><circle cx="404.74" cy="374.02" r="0.95"/><circle cx="405.48" cy="370.60" r="0.95"/><circle cx="406.23" cy="372.38" r="0.95"/><circle cx="406.97" cy="370.58" r="0.95"/><circle cx="407.72" cy="371.35" r="0.95"/><circle cx="408.47" cy="369.62" r="0.95"/><circle cx="409.21" cy="371.50" r="0.95"/><circle cx="409.96" cy="371.30" r="0.95"/><circle cx="410.71" cy="372.61" r="0.95"/><circle cx="411.45" cy="370.65" r="0.95"/><circle cx="412.20" cy="372.16" r="0.95"/><circle cx="412.94" cy="372.44" r="0.95"/><circle cx="413.69" cy="374.49" r="0.95"/><circle cx="414.44" cy="371.51" r="0.95"/><circle cx="415.18" cy="368.97" r="0.95"/><circle cx="415.93" cy="371.96" r="0.95"/><circle cx="416.68" cy="374.13" r="0.95"/><circle cx="417.42" cy="374.21" r="0.95"/><circle cx="418.17" cy="370.72" r="0.95"/><circle cx="418.92" cy="375.73" r="0.95"/><circle cx="419.66" cy="375.29" r="0.95"/><circle cx="420.41" cy="374.93" r="0.95"/><circle cx="421.15" cy="376.43" r="0.95"/><circle cx="421.90" cy="375.92" r="0.95"/><circle cx="422.65" cy="375.86" r="0.95"/><circle cx="423.39" cy="374.70" r="0.95"/><circle cx="424.14" cy="375.76" r="0.95"/><circle cx="424.89" cy="373.39" r="0.95"/><circle cx="425.63" cy="375.71" r="0.95"/><circle cx="426.38" cy="376.26" r="0.95"/><circle cx="427.12" cy="375.68" r="0.95"/><circle cx="427.87" cy="375.30" r="0.95"/><circle cx="428.62" cy="377.51" r="0.95"/><circle cx="429.36" cy="375.79" r="0.95"/><circle cx="430.11" cy="375.93" r="0.95"/><circle cx="430.86" cy="376.93" r="0.95"/><circle cx="431.60" cy="376.90" r="0.95"/><circle cx="432.35" cy="373.98" r="0.95"/><circle cx="433.10" cy="373.99" r="0.95"/><circle cx="433.84" cy="373.85" r="0.95"/><circle cx="434.59" cy="368.66" r="0.95"/><circle cx="435.33" cy="364.47" r="0.95"/><circle cx="436.08" cy="360.20" r="0.95"/><circle cx="436.83" cy="354.45" r="0.95"/><circle cx="437.57" cy="353.57" r="0.95"/><circle cx="438.32" cy="344.76" r="0.95"/><circle cx="439.07" cy="342.45" r="0.95"/><circle cx="439.81" cy="345.47" r="0.95"/><circle cx="440.56" cy="341.20" r="0.95"/><circle cx="441.30" cy="344.89" r="0.95"/><circle cx="442.05" cy="351.81" r="0.95"/><circle cx="442.80" cy="360.23" r="0.95"/><circle cx="443.54" cy="361.10" r="0.95"/><circle cx="444.29" cy="369.46" r="0.95"/><circle cx="445.04" cy="369.44" r="0.95"/><circle cx="445.78" cy="373.70" r="0.95"/><circle cx="446.53" cy="370.62" r="0.95"/><circle cx="447.28" cy="376.42" r="0.95"/><circle cx="448.02" cy="376.76" r="0.95"/><circle cx="448.77" cy="375.77" r="0.95"/><circle cx="449.51" cy="379.63" r="0.95"/><circle cx="450.26" cy="375.01" r="0.95"/><circle cx="451.01" cy="376.92" r="0.95"/><circle cx="451.75" cy="377.31" r="0.95"/><circle cx="452.50" cy="375.87" r="0.95"/><circle cx="453.25" cy="375.68" r="0.95"/><circle cx="453.99" cy="372.85" r="0.95"/><circle cx="454.74" cy="375.89" r="0.95"/><circle cx="455.48" cy="375.72" r="0.95"/><circle cx="456.23" cy="373.85" r="0.95"/><circle cx="456.98" cy="376.29" r="0.95"/><circle cx="457.72" cy="374.92" r="0.95"/><circle cx="458.47" cy="377.48" r="0.95"/><circle cx="459.22" cy="375.55" r="0.95"/><circle cx="459.96" cy="376.00" r="0.95"/><circle cx="460.71" cy="373.99" r="0.95"/><circle cx="461.46" cy="374.73" r="0.95"/><circle cx="462.20" cy="373.89" r="0.95"/><circle cx="462.95" cy="373.71" r="0.95"/><circle cx="463.69" cy="374.25" r="0.95"/><circle cx="464.44" cy="378.14" r="0.95"/><circle cx="465.19" cy="374.84" r="0.95"/><circle cx="465.93" cy="376.31" r="0.95"/><circle cx="466.68" cy="375.17" r="0.95"/><circle cx="467.43" cy="375.46" r="0.95"/><circle cx="468.17" cy="377.44" r="0.95"/><circle cx="468.92" cy="377.78" r="0.95"/><circle cx="469.66" cy="375.93" r="0.95"/><circle cx="470.41" cy="376.97" r="0.95"/><circle cx="471.16" cy="377.11" r="0.95"/><circle cx="471.90" cy="376.87" r="0.95"/><circle cx="472.65" cy="375.84" r="0.95"/><circle cx="473.40" cy="378.22" r="0.95"/><circle cx="474.14" cy="380.72" r="0.95"/><circle cx="474.89" cy="377.07" r="0.95"/><circle cx="475.63" cy="378.97" r="0.95"/><circle cx="476.38" cy="373.40" r="0.95"/><circle cx="477.13" cy="378.23" r="0.95"/><circle cx="477.87" cy="378.28" r="0.95"/><circle cx="478.62" cy="378.76" r="0.95"/><circle cx="479.37" cy="377.44" r="0.95"/><circle cx="480.11" cy="378.42" r="0.95"/><circle cx="480.86" cy="377.76" r="0.95"/><circle cx="481.61" cy="373.81" r="0.95"/><circle cx="482.35" cy="377.72" r="0.95"/><circle cx="483.10" cy="376.00" r="0.95"/><circle cx="483.84" cy="378.39" r="0.95"/><circle cx="484.59" cy="379.39" r="0.95"/><circle cx="485.34" cy="375.78" r="0.95"/><circle cx="486.08" cy="378.23" r="0.95"/><circle cx="486.83" cy="377.96" r="0.95"/><circle cx="487.58" cy="375.12" r="0.95"/><circle cx="488.32" cy="377.16" r="0.95"/><circle cx="489.07" cy="372.46" r="0.95"/><circle cx="489.81" cy="378.98" r="0.95"/><circle cx="490.56" cy="373.52" r="0.95"/><circle cx="491.31" cy="374.62" r="0.95"/><circle cx="492.05" cy="375.97" r="0.95"/><circle cx="492.80" cy="371.76" r="0.95"/></g><path d="M381.50 379.30L382.06 379.30L382.62 379.30L383.17 379.30L383.73 379.30L384.29 379.30L384.85 379.30L385.40 379.30L385.96 379.30L386.52 379.30L387.07 379.30L387.63 379.30L388.19 379.30L388.75 379.30L389.31 379.30L389.86 379.30L390.42 379.30L390.98 379.30L391.54 379.30L392.09 379.30L392.65 379.30L393.21 379.30L393.76 379.30L394.32 379.30L394.88 379.30L395.44 379.30L396.00 379.30L396.55 379.30L397.11 379.30L397.67 379.30L398.23 379.30L398.78 379.30L399.34 379.30L399.90 379.30L400.45 379.30L401.01 379.30L401.57 379.30L402.13 379.30L402.69 379.30L403.24 379.30L403.80 379.30L404.36 379.30L404.92 379.30L405.47 379.30L406.03 379.30L406.59 379.30L407.14 379.30L407.70 379.30L408.26 379.30L408.82 379.30L409.38 379.30L409.93 379.30L410.49 379.30L411.05 379.30L411.61 379.30L412.16 379.30L412.72 379.30L413.28 379.30L413.83 379.30L414.39 379.30L414.95 379.30L415.51 379.30L416.06 379.30L416.62 379.30L417.18 379.30L417.74 379.30L418.30 379.30L418.85 379.30L419.41 379.30L419.97 379.30L420.52 379.30L421.08 379.30L421.64 379.30L422.20 379.30L422.75 379.30L423.31 379.30L423.87 379.30L424.43 379.30L424.99 379.30L425.54 379.30L426.10 379.30L426.66 379.30L427.22 379.30L427.77 379.30L428.33 379.29L428.89 379.28L429.44 379.25L430.00 379.20L430.56 379.11L431.12 378.95L431.68 378.67L432.23 378.22L432.79 377.51L433.35 376.45L433.90 374.94L434.46 372.89L435.02 370.25L435.58 367.01L436.13 363.26L436.69 359.18L437.25 355.04L437.81 351.19L438.37 348.00L438.92 345.80L439.48 344.83L440.04 345.22L440.60 346.91L441.15 349.72L441.71 353.33L442.27 357.39L442.82 361.53L443.38 365.45L443.94 368.92L444.50 371.83L445.06 374.13L445.61 375.86L446.17 377.10L446.73 377.95L447.28 378.50L447.84 378.85L448.40 379.05L448.96 379.17L449.51 379.23L450.07 379.27L450.63 379.29L451.19 379.29L451.75 379.30L452.30 379.30L452.86 379.30L453.42 379.30L453.98 379.30L454.53 379.30L455.09 379.30L455.65 379.30L456.20 379.30L456.76 379.30L457.32 379.30L457.88 379.30L458.44 379.30L458.99 379.30L459.55 379.30L460.11 379.30L460.67 379.30L461.22 379.30L461.78 379.30L462.34 379.30L462.89 379.30L463.45 379.30L464.01 379.30L464.57 379.30L465.12 379.30L465.68 379.30L466.24 379.30L466.80 379.30L467.36 379.30L467.91 379.30L468.47 379.30L469.03 379.30L469.58 379.30L470.14 379.30L470.70 379.30L471.26 379.30L471.81 379.30L472.37 379.30L472.93 379.30L473.49 379.30L474.05 379.30L474.60 379.30L475.16 379.30L475.72 379.30L476.27 379.30L476.83 379.30L477.39 379.30L477.95 379.30L478.50 379.30L479.06 379.30L479.62 379.30L480.18 379.30L480.74 379.30L481.29 379.30L481.85 379.30L482.41 379.30L482.97 379.30L483.52 379.30L484.08 379.30L484.64 379.30L485.19 379.30L485.75 379.30L486.31 379.30L486.87 379.30L487.43 379.30L487.98 379.30L488.54 379.30L489.10 379.30L489.65 379.30L490.21 379.30L490.77 379.30L491.33 379.30L491.88 379.30L492.44 379.30L493.00 379.30" stroke="#ec1414" stroke-width="1.5" fill="none"/></g><line x1="378.3" y1="339.7" x2="381.0" y2="339.7" stroke="#4a4a4a" stroke-width="0.9"/><text x="377.0" y="342.7" font-family="Liberation Sans" font-size="8.3" text-anchor="end" fill="#303030">1.2</text><line x1="378.3" y1="361.9" x2="381.0" y2="361.9" stroke="#4a4a4a" stroke-width="0.9"/><text x="377.0" y="364.9" font-family="Liberation Sans" font-size="8.3" text-anchor="end" fill="#303030">0.6</text><line x1="378.3" y1="384.3" x2="381.0" y2="384.3" stroke="#4a4a4a" stroke-width="0.9"/><text x="377.0" y="387.3" font-family="Liberation Sans" font-size="8.3" text-anchor="end" fill="#303030">0.0</text><line x1="389.5" y1="387.6" x2="389.5" y2="390.3" stroke="#4a4a4a" stroke-width="0.9"/><text x="389.5" y="397.8" font-family="Liberation Sans" font-size="8.3" text-anchor="middle" fill="#303030">−1.0</text><line x1="413.2" y1="387.6" x2="413.2" y2="390.3" stroke="#4a4a4a" stroke-width="0.9"/><text x="413.2" y="397.8" font-family="Liberation Sans" font-size="8.3" text-anchor="middle" fill="#303030">−0.5</text><line x1="436.9" y1="387.6" x2="436.9" y2="390.3" stroke="#4a4a4a" stroke-width="0.9"/><text x="436.9" y="397.8" font-family="Liberation Sans" font-size="8.3" text-anchor="middle" fill="#303030">0.0</text><line x1="460.5" y1="387.6" x2="460.5" y2="390.3" stroke="#4a4a4a" stroke-width="0.9"/><text x="460.5" y="397.8" font-family="Liberation Sans" font-size="8.3" text-anchor="middle" fill="#303030">0.5</text><line x1="484.2" y1="387.6" x2="484.2" y2="390.3" stroke="#4a4a4a" stroke-width="0.9"/><text x="484.2" y="397.8" font-family="Liberation Sans" font-size="8.3" text-anchor="middle" fill="#303030">1.0</text><rect x="524.3" y="205.5" width="112.20" height="56.00" fill="none" stroke="#6a6a6a" stroke-width="1.15"/><g clip-path="url(#pc8)"><path d="M524.90 223.62V250.72M525.39 225.25V253.65M525.87 223.95V257.65M526.36 204.67V259.58M526.84 217.12V251.74M527.33 227.02V251.80M527.81 228.89V254.56M528.30 219.36V253.29M528.78 217.84V244.21M529.27 225.73V257.15M529.75 225.80V252.23M530.24 231.14V255.35M530.72 226.37V258.53M531.21 219.21V261.50M531.69 222.70V251.72M532.18 218.69V253.85M532.66 221.41V270.04M533.15 223.61V255.57M533.63 226.55V261.85M534.12 223.48V265.16M534.60 221.77V252.11M535.09 232.51V257.97M535.57 221.58V250.55M536.06 218.85V254.87M536.54 229.13V261.88M537.03 212.44V266.72M537.51 229.89V258.59M538.00 222.18V251.92M538.48 229.63V262.35M538.97 231.86V257.23M539.45 228.16V254.97M539.94 220.10V262.31M540.42 221.34V246.21M540.91 224.46V256.46M541.40 220.76V255.78M541.88 231.10V263.91M542.37 217.94V263.66M542.85 234.67V259.75M543.34 219.54V259.19M543.82 219.60V258.95M544.31 224.52V255.05M544.79 225.67V253.58M545.28 214.08V258.10M545.76 212.16V261.62M546.25 221.40V256.10M546.73 220.98V249.95M547.22 220.39V260.94M547.70 216.96V260.94M548.19 229.17V255.29M548.67 227.17V252.85M549.16 222.18V256.44M549.64 210.30V267.96M550.13 221.19V257.64M550.61 225.83V258.38M551.10 212.85V267.33M551.58 215.44V255.18M552.07 205.09V262.62M552.55 217.43V246.54M553.04 211.87V262.02M553.52 217.25V249.89M554.01 221.83V250.97M554.49 219.33V262.32M554.98 228.04V266.49M555.46 226.79V253.36M555.95 224.71V268.71M556.43 223.05V253.46M556.92 228.28V253.01M557.41 216.21V258.79M557.89 214.55V260.17M558.38 228.64V260.15M558.86 212.91V256.45M559.35 217.71V268.43M559.83 229.20V264.54M560.32 227.14V268.37M560.80 226.66V256.58M561.29 227.11V253.51M561.77 221.25V266.17M562.26 212.77V256.29M562.74 221.03V253.51M563.23 227.10V254.83M563.71 222.89V256.36M564.20 219.07V256.40M564.68 229.85V255.26M565.17 215.34V261.08M565.65 220.58V253.66M566.14 230.26V257.97M566.62 222.99V262.61M567.11 230.15V256.95M567.59 216.47V249.84M568.08 214.96V256.90M568.56 223.63V249.94M569.05 226.30V254.96M569.53 224.66V256.41M570.02 230.15V254.23M570.50 209.08V271.61M570.99 231.92V256.37M571.47 219.70V245.04M571.96 221.87V260.86M572.44 212.34V258.00M572.93 210.10V267.63M573.42 222.16V255.67M573.90 218.22V257.84M574.39 225.54V262.23M574.87 227.66V263.65M575.36 213.57V260.84M575.84 220.17V253.62M576.33 220.16V252.32M576.81 226.92V254.70M577.30 227.17V253.21M577.78 223.09V257.62M578.27 226.54V260.14M578.75 211.48V255.46M579.24 220.22V259.70M579.72 218.62V247.24M580.21 217.52V261.70M580.69 220.37V254.51M581.18 220.66V266.97M581.66 214.24V257.85M582.15 223.00V260.17M582.63 219.16V261.38M583.12 225.08V260.18M583.60 226.30V257.12M584.09 223.18V258.25M584.57 212.36V262.17M585.06 225.45V256.18M585.54 221.33V257.78M586.03 224.58V249.73M586.51 222.28V254.28M587.00 232.12V259.64M587.48 225.02V270.42M587.97 226.55V258.77M588.46 233.32V259.85M588.94 219.61V258.49M589.43 219.98V262.81M589.91 226.67V256.59M590.40 225.51V251.88M590.88 214.46V253.14M591.37 218.13V257.59M591.85 218.72V254.27M592.34 223.51V262.33M592.82 215.59V252.55M593.31 227.00V259.11M593.79 216.34V250.77M594.28 222.57V251.36M594.76 211.87V264.27M595.25 217.69V263.17M595.73 222.67V263.57M596.22 218.75V254.71M596.70 216.24V258.42M597.19 226.70V259.12M597.67 217.94V263.61M598.16 221.56V253.28M598.64 220.03V251.15M599.13 219.57V253.50M599.61 208.92V261.73M600.10 220.57V263.20M600.58 221.36V259.04M601.07 215.47V241.89M601.55 230.28V258.45M602.04 220.86V265.56M602.52 228.92V259.10M603.01 226.28V261.14M603.49 218.51V248.19M603.98 221.04V246.57M604.47 222.34V261.29M604.95 210.19V252.37M605.44 218.71V263.31M605.92 214.78V253.63M606.41 221.75V273.85M606.89 224.78V252.54M607.38 219.89V257.87M607.86 231.04V256.26M608.35 216.88V251.25M608.83 221.22V254.02M609.32 217.19V263.92M609.80 228.89V259.21M610.29 216.55V265.24M610.77 222.32V252.38M611.26 223.46V265.06M611.74 220.33V262.82M612.23 220.72V248.19M612.71 211.22V270.88M613.20 216.09V256.02M613.68 218.88V266.28M614.17 223.06V249.39M614.65 224.44V250.61M615.14 223.71V259.05M615.62 224.91V257.82M616.11 221.56V253.08M616.59 223.20V251.22M617.08 233.71V258.09M617.56 221.77V256.06M618.05 218.46V257.62M618.53 218.04V250.70M619.02 219.86V255.04M619.50 228.63V264.53M619.99 229.92V263.13M620.48 226.47V264.15M620.96 222.10V266.49M621.45 226.13V251.94M621.93 236.08V262.57M622.42 221.40V254.22M622.90 226.97V255.60M623.39 216.16V264.26M623.87 222.88V253.50M624.36 226.31V264.36M624.84 218.83V268.48M625.33 214.40V253.76M625.81 210.42V260.27M626.30 216.32V266.30M626.78 219.32V263.67M627.27 218.82V247.25M627.75 214.37V249.28M628.24 222.69V250.41M628.72 223.90V255.53M629.21 226.01V250.22M629.69 224.51V250.12M630.18 222.36V247.26M630.66 216.34V247.20M631.15 234.60V259.72M631.63 220.66V248.26M632.12 212.05V259.17M632.60 219.40V253.71M633.09 228.36V253.71M633.57 216.24V255.34M634.06 231.19V258.61M634.54 208.92V262.47M635.03 204.69V263.35M635.51 222.37V247.44M636.00 227.24V253.44" stroke="#c95a5a" stroke-width="0.7" opacity="1.0" fill="none"/><path d="M524.30 223.62h1.2M524.30 250.72h1.2M524.79 225.25h1.2M524.79 253.65h1.2M525.27 223.95h1.2M525.27 257.65h1.2M525.76 204.67h1.2M525.76 259.58h1.2M526.24 217.12h1.2M526.24 251.74h1.2M526.73 227.02h1.2M526.73 251.80h1.2M527.21 228.89h1.2M527.21 254.56h1.2M527.70 219.36h1.2M527.70 253.29h1.2M528.18 217.84h1.2M528.18 244.21h1.2M528.67 225.73h1.2M528.67 257.15h1.2M529.15 225.80h1.2M529.15 252.23h1.2M529.64 231.14h1.2M529.64 255.35h1.2M530.12 226.37h1.2M530.12 258.53h1.2M530.61 219.21h1.2M530.61 261.50h1.2M531.09 222.70h1.2M531.09 251.72h1.2M531.58 218.69h1.2M531.58 253.85h1.2M532.06 221.41h1.2M532.06 270.04h1.2M532.55 223.61h1.2M532.55 255.57h1.2M533.03 226.55h1.2M533.03 261.85h1.2M533.52 223.48h1.2M533.52 265.16h1.2M534.00 221.77h1.2M534.00 252.11h1.2M534.49 232.51h1.2M534.49 257.97h1.2M534.97 221.58h1.2M534.97 250.55h1.2M535.46 218.85h1.2M535.46 254.87h1.2M535.94 229.13h1.2M535.94 261.88h1.2M536.43 212.44h1.2M536.43 266.72h1.2M536.91 229.89h1.2M536.91 258.59h1.2M537.40 222.18h1.2M537.40 251.92h1.2M537.88 229.63h1.2M537.88 262.35h1.2M538.37 231.86h1.2M538.37 257.23h1.2M538.85 228.16h1.2M538.85 254.97h1.2M539.34 220.10h1.2M539.34 262.31h1.2M539.82 221.34h1.2M539.82 246.21h1.2M540.31 224.46h1.2M540.31 256.46h1.2M540.80 220.76h1.2M540.80 255.78h1.2M541.28 231.10h1.2M541.28 263.91h1.2M541.77 217.94h1.2M541.77 263.66h1.2M542.25 234.67h1.2M542.25 259.75h1.2M542.74 219.54h1.2M542.74 259.19h1.2M543.22 219.60h1.2M543.22 258.95h1.2M543.71 224.52h1.2M543.71 255.05h1.2M544.19 225.67h1.2M544.19 253.58h1.2M544.68 214.08h1.2M544.68 258.10h1.2M545.16 212.16h1.2M545.16 261.62h1.2M545.65 221.40h1.2M545.65 256.10h1.2M546.13 220.98h1.2M546.13 249.95h1.2M546.62 220.39h1.2M546.62 260.94h1.2M547.10 216.96h1.2M547.10 260.94h1.2M547.59 229.17h1.2M547.59 255.29h1.2M548.07 227.17h1.2M548.07 252.85h1.2M548.56 222.18h1.2M548.56 256.44h1.2M549.04 210.30h1.2M549.04 267.96h1.2M549.53 221.19h1.2M549.53 257.64h1.2M550.01 225.83h1.2M550.01 258.38h1.2M550.50 212.85h1.2M550.50 267.33h1.2M550.98 215.44h1.2M550.98 255.18h1.2M551.47 205.09h1.2M551.47 262.62h1.2M551.95 217.43h1.2M551.95 246.54h1.2M552.44 211.87h1.2M552.44 262.02h1.2M552.92 217.25h1.2M552.92 249.89h1.2M553.41 221.83h1.2M553.41 250.97h1.2M553.89 219.33h1.2M553.89 262.32h1.2M554.38 228.04h1.2M554.38 266.49h1.2M554.86 226.79h1.2M554.86 253.36h1.2M555.35 224.71h1.2M555.35 268.71h1.2M555.83 223.05h1.2M555.83 253.46h1.2M556.32 228.28h1.2M556.32 253.01h1.2M556.81 216.21h1.2M556.81 258.79h1.2M557.29 214.55h1.2M557.29 260.17h1.2M557.78 228.64h1.2M557.78 260.15h1.2M558.26 212.91h1.2M558.26 256.45h1.2M558.75 217.71h1.2M558.75 268.43h1.2M559.23 229.20h1.2M559.23 264.54h1.2M559.72 227.14h1.2M559.72 268.37h1.2M560.20 226.66h1.2M560.20 256.58h1.2M560.69 227.11h1.2M560.69 253.51h1.2M561.17 221.25h1.2M561.17 266.17h1.2M561.66 212.77h1.2M561.66 256.29h1.2M562.14 221.03h1.2M562.14 253.51h1.2M562.63 227.10h1.2M562.63 254.83h1.2M563.11 222.89h1.2M563.11 256.36h1.2M563.60 219.07h1.2M563.60 256.40h1.2M564.08 229.85h1.2M564.08 255.26h1.2M564.57 215.34h1.2M564.57 261.08h1.2M565.05 220.58h1.2M565.05 253.66h1.2M565.54 230.26h1.2M565.54 257.97h1.2M566.02 222.99h1.2M566.02 262.61h1.2M566.51 230.15h1.2M566.51 256.95h1.2M566.99 216.47h1.2M566.99 249.84h1.2M567.48 214.96h1.2M567.48 256.90h1.2M567.96 223.63h1.2M567.96 249.94h1.2M568.45 226.30h1.2M568.45 254.96h1.2M568.93 224.66h1.2M568.93 256.41h1.2M569.42 230.15h1.2M569.42 254.23h1.2M569.90 209.08h1.2M569.90 271.61h1.2M570.39 231.92h1.2M570.39 256.37h1.2M570.87 219.70h1.2M570.87 245.04h1.2M571.36 221.87h1.2M571.36 260.86h1.2M571.84 212.34h1.2M571.84 258.00h1.2M572.33 210.10h1.2M572.33 267.63h1.2M572.82 222.16h1.2M572.82 255.67h1.2M573.30 218.22h1.2M573.30 257.84h1.2M573.79 225.54h1.2M573.79 262.23h1.2M574.27 227.66h1.2M574.27 263.65h1.2M574.76 213.57h1.2M574.76 260.84h1.2M575.24 220.17h1.2M575.24 253.62h1.2M575.73 220.16h1.2M575.73 252.32h1.2M576.21 226.92h1.2M576.21 254.70h1.2M576.70 227.17h1.2M576.70 253.21h1.2M577.18 223.09h1.2M577.18 257.62h1.2M577.67 226.54h1.2M577.67 260.14h1.2M578.15 211.48h1.2M578.15 255.46h1.2M578.64 220.22h1.2M578.64 259.70h1.2M579.12 218.62h1.2M579.12 247.24h1.2M579.61 217.52h1.2M579.61 261.70h1.2M580.09 220.37h1.2M580.09 254.51h1.2M580.58 220.66h1.2M580.58 266.97h1.2M581.06 214.24h1.2M581.06 257.85h1.2M581.55 223.00h1.2M581.55 260.17h1.2M582.03 219.16h1.2M582.03 261.38h1.2M582.52 225.08h1.2M582.52 260.18h1.2M583.00 226.30h1.2M583.00 257.12h1.2M583.49 223.18h1.2M583.49 258.25h1.2M583.97 212.36h1.2M583.97 262.17h1.2M584.46 225.45h1.2M584.46 256.18h1.2M584.94 221.33h1.2M584.94 257.78h1.2M585.43 224.58h1.2M585.43 249.73h1.2M585.91 222.28h1.2M585.91 254.28h1.2M586.40 232.12h1.2M586.40 259.64h1.2M586.88 225.02h1.2M586.88 270.42h1.2M587.37 226.55h1.2M587.37 258.77h1.2M587.86 233.32h1.2M587.86 259.85h1.2M588.34 219.61h1.2M588.34 258.49h1.2M588.83 219.98h1.2M588.83 262.81h1.2M589.31 226.67h1.2M589.31 256.59h1.2M589.80 225.51h1.2M589.80 251.88h1.2M590.28 214.46h1.2M590.28 253.14h1.2M590.77 218.13h1.2M590.77 257.59h1.2M591.25 218.72h1.2M591.25 254.27h1.2M591.74 223.51h1.2M591.74 262.33h1.2M592.22 215.59h1.2M592.22 252.55h1.2M592.71 227.00h1.2M592.71 259.11h1.2M593.19 216.34h1.2M593.19 250.77h1.2M593.68 222.57h1.2M593.68 251.36h1.2M594.16 211.87h1.2M594.16 264.27h1.2M594.65 217.69h1.2M594.65 263.17h1.2M595.13 222.67h1.2M595.13 263.57h1.2M595.62 218.75h1.2M595.62 254.71h1.2M596.10 216.24h1.2M596.10 258.42h1.2M596.59 226.70h1.2M596.59 259.12h1.2M597.07 217.94h1.2M597.07 263.61h1.2M597.56 221.56h1.2M597.56 253.28h1.2M598.04 220.03h1.2M598.04 251.15h1.2M598.53 219.57h1.2M598.53 253.50h1.2M599.01 208.92h1.2M599.01 261.73h1.2M599.50 220.57h1.2M599.50 263.20h1.2M599.98 221.36h1.2M599.98 259.04h1.2M600.47 215.47h1.2M600.47 241.89h1.2M600.95 230.28h1.2M600.95 258.45h1.2M601.44 220.86h1.2M601.44 265.56h1.2M601.92 228.92h1.2M601.92 259.10h1.2M602.41 226.28h1.2M602.41 261.14h1.2M602.89 218.51h1.2M602.89 248.19h1.2M603.38 221.04h1.2M603.38 246.57h1.2M603.87 222.34h1.2M603.87 261.29h1.2M604.35 210.19h1.2M604.35 252.37h1.2M604.84 218.71h1.2M604.84 263.31h1.2M605.32 214.78h1.2M605.32 253.63h1.2M605.81 221.75h1.2M605.81 273.85h1.2M606.29 224.78h1.2M606.29 252.54h1.2M606.78 219.89h1.2M606.78 257.87h1.2M607.26 231.04h1.2M607.26 256.26h1.2M607.75 216.88h1.2M607.75 251.25h1.2M608.23 221.22h1.2M608.23 254.02h1.2M608.72 217.19h1.2M608.72 263.92h1.2M609.20 228.89h1.2M609.20 259.21h1.2M609.69 216.55h1.2M609.69 265.24h1.2M610.17 222.32h1.2M610.17 252.38h1.2M610.66 223.46h1.2M610.66 265.06h1.2M611.14 220.33h1.2M611.14 262.82h1.2M611.63 220.72h1.2M611.63 248.19h1.2M612.11 211.22h1.2M612.11 270.88h1.2M612.60 216.09h1.2M612.60 256.02h1.2M613.08 218.88h1.2M613.08 266.28h1.2M613.57 223.06h1.2M613.57 249.39h1.2M614.05 224.44h1.2M614.05 250.61h1.2M614.54 223.71h1.2M614.54 259.05h1.2M615.02 224.91h1.2M615.02 257.82h1.2M615.51 221.56h1.2M615.51 253.08h1.2M615.99 223.20h1.2M615.99 251.22h1.2M616.48 233.71h1.2M616.48 258.09h1.2M616.96 221.77h1.2M616.96 256.06h1.2M617.45 218.46h1.2M617.45 257.62h1.2M617.93 218.04h1.2M617.93 250.70h1.2M618.42 219.86h1.2M618.42 255.04h1.2M618.90 228.63h1.2M618.90 264.53h1.2M619.39 229.92h1.2M619.39 263.13h1.2M619.88 226.47h1.2M619.88 264.15h1.2M620.36 222.10h1.2M620.36 266.49h1.2M620.85 226.13h1.2M620.85 251.94h1.2M621.33 236.08h1.2M621.33 262.57h1.2M621.82 221.40h1.2M621.82 254.22h1.2M622.30 226.97h1.2M622.30 255.60h1.2M622.79 216.16h1.2M622.79 264.26h1.2M623.27 222.88h1.2M623.27 253.50h1.2M623.76 226.31h1.2M623.76 264.36h1.2M624.24 218.83h1.2M624.24 268.48h1.2M624.73 214.40h1.2M624.73 253.76h1.2M625.21 210.42h1.2M625.21 260.27h1.2M625.70 216.32h1.2M625.70 266.30h1.2M626.18 219.32h1.2M626.18 263.67h1.2M626.67 218.82h1.2M626.67 247.25h1.2M627.15 214.37h1.2M627.15 249.28h1.2M627.64 222.69h1.2M627.64 250.41h1.2M628.12 223.90h1.2M628.12 255.53h1.2M628.61 226.01h1.2M628.61 250.22h1.2M629.09 224.51h1.2M629.09 250.12h1.2M629.58 222.36h1.2M629.58 247.26h1.2M630.06 216.34h1.2M630.06 247.20h1.2M630.55 234.60h1.2M630.55 259.72h1.2M631.03 220.66h1.2M631.03 248.26h1.2M631.52 212.05h1.2M631.52 259.17h1.2M632.00 219.40h1.2M632.00 253.71h1.2M632.49 228.36h1.2M632.49 253.71h1.2M632.97 216.24h1.2M632.97 255.34h1.2M633.46 231.19h1.2M633.46 258.61h1.2M633.94 208.92h1.2M633.94 262.47h1.2M634.43 204.69h1.2M634.43 263.35h1.2M634.91 222.37h1.2M634.91 247.44h1.2M635.40 227.24h1.2M635.40 253.44h1.2" stroke="#bb3a3a" stroke-width="0.8" fill="none"/><g fill="#b42222"><circle cx="524.90" cy="237.17" r="0.85"/><circle cx="525.39" cy="239.45" r="0.85"/><circle cx="525.87" cy="240.80" r="0.85"/><circle cx="526.36" cy="232.12" r="0.85"/><circle cx="526.84" cy="234.43" r="0.85"/><circle cx="527.33" cy="239.41" r="0.85"/><circle cx="527.81" cy="241.72" r="0.85"/><circle cx="528.30" cy="236.33" r="0.85"/><circle cx="528.78" cy="231.02" r="0.85"/><circle cx="529.27" cy="241.44" r="0.85"/><circle cx="529.75" cy="239.01" r="0.85"/><circle cx="530.24" cy="243.25" r="0.85"/><circle cx="530.72" cy="242.45" r="0.85"/><circle cx="531.21" cy="240.35" r="0.85"/><circle cx="531.69" cy="237.21" r="0.85"/><circle cx="532.18" cy="236.27" r="0.85"/><circle cx="532.66" cy="245.72" r="0.85"/><circle cx="533.15" cy="239.59" r="0.85"/><circle cx="533.63" cy="244.20" r="0.85"/><circle cx="534.12" cy="244.32" r="0.85"/><circle cx="534.60" cy="236.94" r="0.85"/><circle cx="535.09" cy="245.24" r="0.85"/><circle cx="535.57" cy="236.07" r="0.85"/><circle cx="536.06" cy="236.86" r="0.85"/><circle cx="536.54" cy="245.50" r="0.85"/><circle cx="537.03" cy="239.58" r="0.85"/><circle cx="537.51" cy="244.24" r="0.85"/><circle cx="538.00" cy="237.05" r="0.85"/><circle cx="538.48" cy="245.99" r="0.85"/><circle cx="538.97" cy="244.55" r="0.85"/><circle cx="539.45" cy="241.57" r="0.85"/><circle cx="539.94" cy="241.21" r="0.85"/><circle cx="540.42" cy="233.78" r="0.85"/><circle cx="540.91" cy="240.46" r="0.85"/><circle cx="541.40" cy="238.27" r="0.85"/><circle cx="541.88" cy="247.51" r="0.85"/><circle cx="542.37" cy="240.80" r="0.85"/><circle cx="542.85" cy="247.21" r="0.85"/><circle cx="543.34" cy="239.36" r="0.85"/><circle cx="543.82" cy="239.27" r="0.85"/><circle cx="544.31" cy="239.78" r="0.85"/><circle cx="544.79" cy="239.62" r="0.85"/><circle cx="545.28" cy="236.09" r="0.85"/><circle cx="545.76" cy="236.89" r="0.85"/><circle cx="546.25" cy="238.75" r="0.85"/><circle cx="546.73" cy="235.46" r="0.85"/><circle cx="547.22" cy="240.66" r="0.85"/><circle cx="547.70" cy="238.95" r="0.85"/><circle cx="548.19" cy="242.23" r="0.85"/><circle cx="548.67" cy="240.01" r="0.85"/><circle cx="549.16" cy="239.31" r="0.85"/><circle cx="549.64" cy="239.13" r="0.85"/><circle cx="550.13" cy="239.41" r="0.85"/><circle cx="550.61" cy="242.11" r="0.85"/><circle cx="551.10" cy="240.09" r="0.85"/><circle cx="551.58" cy="235.31" r="0.85"/><circle cx="552.07" cy="233.85" r="0.85"/><circle cx="552.55" cy="231.99" r="0.85"/><circle cx="553.04" cy="236.95" r="0.85"/><circle cx="553.52" cy="233.57" r="0.85"/><circle cx="554.01" cy="236.40" r="0.85"/><circle cx="554.49" cy="240.82" r="0.85"/><circle cx="554.98" cy="247.26" r="0.85"/><circle cx="555.46" cy="240.07" r="0.85"/><circle cx="555.95" cy="246.71" r="0.85"/><circle cx="556.43" cy="238.26" r="0.85"/><circle cx="556.92" cy="240.65" r="0.85"/><circle cx="557.41" cy="237.50" r="0.85"/><circle cx="557.89" cy="237.36" r="0.85"/><circle cx="558.38" cy="244.40" r="0.85"/><circle cx="558.86" cy="234.68" r="0.85"/><circle cx="559.35" cy="243.07" r="0.85"/><circle cx="559.83" cy="246.87" r="0.85"/><circle cx="560.32" cy="247.76" r="0.85"/><circle cx="560.80" cy="241.62" r="0.85"/><circle cx="561.29" cy="240.31" r="0.85"/><circle cx="561.77" cy="243.71" r="0.85"/><circle cx="562.26" cy="234.53" r="0.85"/><circle cx="562.74" cy="237.27" r="0.85"/><circle cx="563.23" cy="240.97" r="0.85"/><circle cx="563.71" cy="239.63" r="0.85"/><circle cx="564.20" cy="237.73" r="0.85"/><circle cx="564.68" cy="242.55" r="0.85"/><circle cx="565.17" cy="238.21" r="0.85"/><circle cx="565.65" cy="237.12" r="0.85"/><circle cx="566.14" cy="244.11" r="0.85"/><circle cx="566.62" cy="242.80" r="0.85"/><circle cx="567.11" cy="243.55" r="0.85"/><circle cx="567.59" cy="233.15" r="0.85"/><circle cx="568.08" cy="235.93" r="0.85"/><circle cx="568.56" cy="236.78" r="0.85"/><circle cx="569.05" cy="240.63" r="0.85"/><circle cx="569.53" cy="240.54" r="0.85"/><circle cx="570.02" cy="242.19" r="0.85"/><circle cx="570.50" cy="240.34" r="0.85"/><circle cx="570.99" cy="244.15" r="0.85"/><circle cx="571.47" cy="232.37" r="0.85"/><circle cx="571.96" cy="241.37" r="0.85"/><circle cx="572.44" cy="235.17" r="0.85"/><circle cx="572.93" cy="238.86" r="0.85"/><circle cx="573.42" cy="238.91" r="0.85"/><circle cx="573.90" cy="238.03" r="0.85"/><circle cx="574.39" cy="243.89" r="0.85"/><circle cx="574.87" cy="245.65" r="0.85"/><circle cx="575.36" cy="237.21" r="0.85"/><circle cx="575.84" cy="236.90" r="0.85"/><circle cx="576.33" cy="236.24" r="0.85"/><circle cx="576.81" cy="240.81" r="0.85"/><circle cx="577.30" cy="240.19" r="0.85"/><circle cx="577.78" cy="240.35" r="0.85"/><circle cx="578.27" cy="243.34" r="0.85"/><circle cx="578.75" cy="233.47" r="0.85"/><circle cx="579.24" cy="239.96" r="0.85"/><circle cx="579.72" cy="232.93" r="0.85"/><circle cx="580.21" cy="239.61" r="0.85"/><circle cx="580.69" cy="237.44" r="0.85"/><circle cx="581.18" cy="243.81" r="0.85"/><circle cx="581.66" cy="236.05" r="0.85"/><circle cx="582.15" cy="241.58" r="0.85"/><circle cx="582.63" cy="240.27" r="0.85"/><circle cx="583.12" cy="242.63" r="0.85"/><circle cx="583.60" cy="241.71" r="0.85"/><circle cx="584.09" cy="240.72" r="0.85"/><circle cx="584.57" cy="237.26" r="0.85"/><circle cx="585.06" cy="240.81" r="0.85"/><circle cx="585.54" cy="239.55" r="0.85"/><circle cx="586.03" cy="237.15" r="0.85"/><circle cx="586.51" cy="238.28" r="0.85"/><circle cx="587.00" cy="245.88" r="0.85"/><circle cx="587.48" cy="247.72" r="0.85"/><circle cx="587.97" cy="242.66" r="0.85"/><circle cx="588.46" cy="246.58" r="0.85"/><circle cx="588.94" cy="239.05" r="0.85"/><circle cx="589.43" cy="241.39" r="0.85"/><circle cx="589.91" cy="241.63" r="0.85"/><circle cx="590.40" cy="238.70" r="0.85"/><circle cx="590.88" cy="233.80" r="0.85"/><circle cx="591.37" cy="237.86" r="0.85"/><circle cx="591.85" cy="236.49" r="0.85"/><circle cx="592.34" cy="242.92" r="0.85"/><circle cx="592.82" cy="234.07" r="0.85"/><circle cx="593.31" cy="243.05" r="0.85"/><circle cx="593.79" cy="233.55" r="0.85"/><circle cx="594.28" cy="236.96" r="0.85"/><circle cx="594.76" cy="238.07" r="0.85"/><circle cx="595.25" cy="240.43" r="0.85"/><circle cx="595.73" cy="243.12" r="0.85"/><circle cx="596.22" cy="236.73" r="0.85"/><circle cx="596.70" cy="237.33" r="0.85"/><circle cx="597.19" cy="242.91" r="0.85"/><circle cx="597.67" cy="240.78" r="0.85"/><circle cx="598.16" cy="237.42" r="0.85"/><circle cx="598.64" cy="235.59" r="0.85"/><circle cx="599.13" cy="236.54" r="0.85"/><circle cx="599.61" cy="235.32" r="0.85"/><circle cx="600.10" cy="241.88" r="0.85"/><circle cx="600.58" cy="240.20" r="0.85"/><circle cx="601.07" cy="228.68" r="0.85"/><circle cx="601.55" cy="244.37" r="0.85"/><circle cx="602.04" cy="243.21" r="0.85"/><circle cx="602.52" cy="244.01" r="0.85"/><circle cx="603.01" cy="243.71" r="0.85"/><circle cx="603.49" cy="233.35" r="0.85"/><circle cx="603.98" cy="233.80" r="0.85"/><circle cx="604.47" cy="241.81" r="0.85"/><circle cx="604.95" cy="231.28" r="0.85"/><circle cx="605.44" cy="241.01" r="0.85"/><circle cx="605.92" cy="234.21" r="0.85"/><circle cx="606.41" cy="247.80" r="0.85"/><circle cx="606.89" cy="238.66" r="0.85"/><circle cx="607.38" cy="238.88" r="0.85"/><circle cx="607.86" cy="243.65" r="0.85"/><circle cx="608.35" cy="234.06" r="0.85"/><circle cx="608.83" cy="237.62" r="0.85"/><circle cx="609.32" cy="240.55" r="0.85"/><circle cx="609.80" cy="244.05" r="0.85"/><circle cx="610.29" cy="240.90" r="0.85"/><circle cx="610.77" cy="237.35" r="0.85"/><circle cx="611.26" cy="244.26" r="0.85"/><circle cx="611.74" cy="241.57" r="0.85"/><circle cx="612.23" cy="234.46" r="0.85"/><circle cx="612.71" cy="241.05" r="0.85"/><circle cx="613.20" cy="236.05" r="0.85"/><circle cx="613.68" cy="242.58" r="0.85"/><circle cx="614.17" cy="236.23" r="0.85"/><circle cx="614.65" cy="237.53" r="0.85"/><circle cx="615.14" cy="241.38" r="0.85"/><circle cx="615.62" cy="241.37" r="0.85"/><circle cx="616.11" cy="237.32" r="0.85"/><circle cx="616.59" cy="237.21" r="0.85"/><circle cx="617.08" cy="245.90" r="0.85"/><circle cx="617.56" cy="238.92" r="0.85"/><circle cx="618.05" cy="238.04" r="0.85"/><circle cx="618.53" cy="234.37" r="0.85"/><circle cx="619.02" cy="237.45" r="0.85"/><circle cx="619.50" cy="246.58" r="0.85"/><circle cx="619.99" cy="246.53" r="0.85"/><circle cx="620.48" cy="245.31" r="0.85"/><circle cx="620.96" cy="244.30" r="0.85"/><circle cx="621.45" cy="239.03" r="0.85"/><circle cx="621.93" cy="249.32" r="0.85"/><circle cx="622.42" cy="237.81" r="0.85"/><circle cx="622.90" cy="241.28" r="0.85"/><circle cx="623.39" cy="240.21" r="0.85"/><circle cx="623.87" cy="238.19" r="0.85"/><circle cx="624.36" cy="245.34" r="0.85"/><circle cx="624.84" cy="243.65" r="0.85"/><circle cx="625.33" cy="234.08" r="0.85"/><circle cx="625.81" cy="235.35" r="0.85"/><circle cx="626.30" cy="241.31" r="0.85"/><circle cx="626.78" cy="241.50" r="0.85"/><circle cx="627.27" cy="233.04" r="0.85"/><circle cx="627.75" cy="231.83" r="0.85"/><circle cx="628.24" cy="236.55" r="0.85"/><circle cx="628.72" cy="239.72" r="0.85"/><circle cx="629.21" cy="238.11" r="0.85"/><circle cx="629.69" cy="237.31" r="0.85"/><circle cx="630.18" cy="234.81" r="0.85"/><circle cx="630.66" cy="231.77" r="0.85"/><circle cx="631.15" cy="247.16" r="0.85"/><circle cx="631.63" cy="234.46" r="0.85"/><circle cx="632.12" cy="235.61" r="0.85"/><circle cx="632.60" cy="236.55" r="0.85"/><circle cx="633.09" cy="241.04" r="0.85"/><circle cx="633.57" cy="235.79" r="0.85"/><circle cx="634.06" cy="244.90" r="0.85"/><circle cx="634.54" cy="235.69" r="0.85"/><circle cx="635.03" cy="234.02" r="0.85"/><circle cx="635.51" cy="234.90" r="0.85"/><circle cx="636.00" cy="240.34" r="0.85"/></g></g><line x1="521.5999999999999" y1="222.7" x2="524.3" y2="222.7" stroke="#4a4a4a" stroke-width="0.9"/><text x="520.3" y="225.7" font-family="Liberation Sans" font-size="8.3" text-anchor="end" fill="#303030">20</text><line x1="521.5999999999999" y1="244.6" x2="524.3" y2="244.6" stroke="#4a4a4a" stroke-width="0.9"/><text x="520.3" y="247.6" font-family="Liberation Sans" font-size="8.3" text-anchor="end" fill="#303030">0</text><rect x="524.3" y="268.6" width="112.20" height="55.90" fill="none" stroke="#6a6a6a" stroke-width="1.15"/><g clip-path="url(#pc9)"><path d="M524.90 303.19V316.03M525.50 299.77V314.00M526.11 302.52V313.04M526.71 300.46V308.47M527.32 305.29V316.65M527.92 301.40V310.82M528.52 306.05V316.10M529.13 305.82V316.57M529.73 303.21V310.09M530.33 296.26V303.54M530.94 298.86V312.09M531.54 302.07V312.23M532.15 300.73V313.10M532.75 297.73V310.31M533.35 308.60V317.16M533.96 305.21V315.65M534.56 305.57V313.51M535.16 305.11V312.02M535.77 305.15V314.81M536.37 295.45V308.75M536.98 303.76V313.81M537.58 295.25V306.19M538.18 295.96V308.35M538.79 297.28V306.84M539.39 295.00V306.03M540.00 297.42V306.25M540.60 297.44V305.34M541.20 293.22V309.65M541.81 292.56V302.86M542.41 294.52V308.27M543.01 291.51V299.60M543.62 290.47V301.64M544.22 289.38V300.42M544.83 283.24V298.01M545.43 294.60V303.32M546.03 292.01V299.36M546.64 288.82V300.97M547.24 291.15V300.29M547.84 291.52V298.70M548.45 278.11V290.57M549.05 290.50V297.91M549.66 284.45V292.32M550.26 283.08V292.28M550.86 285.20V292.64M551.47 289.72V296.73M552.07 286.64V301.37M552.67 287.32V298.80M553.28 283.63V291.04M553.88 281.13V291.14M554.49 281.38V291.00M555.09 287.28V296.43M555.69 277.08V292.30M556.30 281.71V290.34M556.90 276.68V288.49M557.51 274.11V283.41M558.11 277.32V295.47M558.71 283.05V290.51M559.32 288.43V295.82M559.92 283.96V292.40M560.52 279.31V292.70M561.13 284.79V299.14M561.73 284.46V291.40M562.34 281.20V292.25M562.94 280.98V290.27M563.54 288.26V301.27M564.15 282.76V294.35M564.75 284.99V295.12M565.35 282.80V294.69M565.96 294.91V304.33M566.56 288.08V296.37M567.17 298.51V309.73M567.77 287.20V301.90M568.37 288.89V300.91M568.98 300.34V308.31M569.58 291.88V300.92M570.19 287.71V298.50M570.79 290.83V302.31M571.39 288.99V301.38M572.00 297.60V307.76M572.60 301.62V308.45M573.20 294.27V303.81M573.81 298.92V314.13M574.41 305.98V314.96M575.02 299.92V314.91M575.62 298.75V307.09M576.22 302.92V316.15M576.83 295.48V311.21M577.43 301.82V310.14M578.03 296.78V306.18M578.64 302.45V316.22M579.24 306.15V314.28M579.85 298.82V309.74M580.45 302.61V310.06M581.05 301.63V315.77M581.66 304.34V315.86M582.26 309.12V320.10M582.87 304.92V314.90M583.47 297.75V309.05M584.07 307.86V318.20M584.68 301.77V309.43M585.28 306.32V315.79M585.88 306.07V319.07M586.49 302.05V313.16M587.09 302.27V312.12M587.70 307.31V315.18M588.30 310.57V317.44M588.90 309.24V319.89M589.51 306.66V315.95M590.11 303.77V312.89M590.71 306.79V313.70M591.32 316.31V325.92M591.92 308.33V318.92M592.53 304.52V312.73M593.13 306.04V317.40M593.73 311.93V321.20M594.34 306.23V323.31M594.94 307.08V315.11M595.55 307.06V316.51M596.15 308.34V315.85M596.75 299.75V309.69M597.36 298.41V307.98M597.96 308.38V316.04M598.56 303.70V313.06M599.17 310.24V324.66M599.77 304.75V317.22M600.38 298.13V313.44M600.98 304.22V314.87M601.58 305.48V313.10M602.19 316.62V326.33M602.79 307.35V315.37M603.39 305.63V316.53M604.00 311.10V323.37M604.60 307.76V315.73M605.21 305.64V319.18M605.81 296.72V313.72M606.41 309.16V316.81M607.02 302.84V320.06M607.62 304.87V314.99M608.23 300.98V311.81M608.83 308.97V318.17M609.43 306.59V315.65M610.04 305.59V312.70M610.64 306.72V315.96M611.24 307.25V314.68M611.85 305.92V315.56M612.45 314.26V323.33M613.06 304.22V321.10M613.66 309.15V322.79M614.26 308.32V318.81M614.87 311.31V323.90M615.47 307.83V319.81M616.07 304.25V312.23M616.68 307.27V318.56M617.28 305.61V314.17M617.89 307.27V315.55M618.49 304.10V316.35M619.09 308.51V322.34M619.70 305.19V316.49M620.30 307.86V317.56M620.90 307.76V317.92M621.51 307.53V318.77M622.11 300.43V315.88M622.72 310.89V325.72M623.32 312.93V323.00M623.92 305.33V314.77M624.53 304.78V312.09M625.13 306.21V315.96M625.74 295.85V312.82M626.34 315.48V322.40M626.94 309.05V317.95M627.55 308.27V315.99M628.15 305.57V316.00M628.75 308.35V315.26M629.36 307.01V317.57M629.96 307.83V314.84M630.57 307.52V318.99M631.17 307.06V318.19M631.77 309.02V317.44M632.38 305.61V313.45M632.98 306.86V320.50M633.58 305.85V315.48M634.19 308.63V316.33M634.79 303.09V313.14M635.40 305.98V315.73M636.00 301.50V312.78" stroke="#7f9be8" stroke-width="0.7" opacity="1.0" fill="none"/><path d="M524.30 303.19h1.2M524.30 316.03h1.2M524.90 299.77h1.2M524.90 314.00h1.2M525.51 302.52h1.2M525.51 313.04h1.2M526.11 300.46h1.2M526.11 308.47h1.2M526.72 305.29h1.2M526.72 316.65h1.2M527.32 301.40h1.2M527.32 310.82h1.2M527.92 306.05h1.2M527.92 316.10h1.2M528.53 305.82h1.2M528.53 316.57h1.2M529.13 303.21h1.2M529.13 310.09h1.2M529.73 296.26h1.2M529.73 303.54h1.2M530.34 298.86h1.2M530.34 312.09h1.2M530.94 302.07h1.2M530.94 312.23h1.2M531.55 300.73h1.2M531.55 313.10h1.2M532.15 297.73h1.2M532.15 310.31h1.2M532.75 308.60h1.2M532.75 317.16h1.2M533.36 305.21h1.2M533.36 315.65h1.2M533.96 305.57h1.2M533.96 313.51h1.2M534.56 305.11h1.2M534.56 312.02h1.2M535.17 305.15h1.2M535.17 314.81h1.2M535.77 295.45h1.2M535.77 308.75h1.2M536.38 303.76h1.2M536.38 313.81h1.2M536.98 295.25h1.2M536.98 306.19h1.2M537.58 295.96h1.2M537.58 308.35h1.2M538.19 297.28h1.2M538.19 306.84h1.2M538.79 295.00h1.2M538.79 306.03h1.2M539.40 297.42h1.2M539.40 306.25h1.2M540.00 297.44h1.2M540.00 305.34h1.2M540.60 293.22h1.2M540.60 309.65h1.2M541.21 292.56h1.2M541.21 302.86h1.2M541.81 294.52h1.2M541.81 308.27h1.2M542.41 291.51h1.2M542.41 299.60h1.2M543.02 290.47h1.2M543.02 301.64h1.2M543.62 289.38h1.2M543.62 300.42h1.2M544.23 283.24h1.2M544.23 298.01h1.2M544.83 294.60h1.2M544.83 303.32h1.2M545.43 292.01h1.2M545.43 299.36h1.2M546.04 288.82h1.2M546.04 300.97h1.2M546.64 291.15h1.2M546.64 300.29h1.2M547.24 291.52h1.2M547.24 298.70h1.2M547.85 278.11h1.2M547.85 290.57h1.2M548.45 290.50h1.2M548.45 297.91h1.2M549.06 284.45h1.2M549.06 292.32h1.2M549.66 283.08h1.2M549.66 292.28h1.2M550.26 285.20h1.2M550.26 292.64h1.2M550.87 289.72h1.2M550.87 296.73h1.2M551.47 286.64h1.2M551.47 301.37h1.2M552.07 287.32h1.2M552.07 298.80h1.2M552.68 283.63h1.2M552.68 291.04h1.2M553.28 281.13h1.2M553.28 291.14h1.2M553.89 281.38h1.2M553.89 291.00h1.2M554.49 287.28h1.2M554.49 296.43h1.2M555.09 277.08h1.2M555.09 292.30h1.2M555.70 281.71h1.2M555.70 290.34h1.2M556.30 276.68h1.2M556.30 288.49h1.2M556.91 274.11h1.2M556.91 283.41h1.2M557.51 277.32h1.2M557.51 295.47h1.2M558.11 283.05h1.2M558.11 290.51h1.2M558.72 288.43h1.2M558.72 295.82h1.2M559.32 283.96h1.2M559.32 292.40h1.2M559.92 279.31h1.2M559.92 292.70h1.2M560.53 284.79h1.2M560.53 299.14h1.2M561.13 284.46h1.2M561.13 291.40h1.2M561.74 281.20h1.2M561.74 292.25h1.2M562.34 280.98h1.2M562.34 290.27h1.2M562.94 288.26h1.2M562.94 301.27h1.2M563.55 282.76h1.2M563.55 294.35h1.2M564.15 284.99h1.2M564.15 295.12h1.2M564.75 282.80h1.2M564.75 294.69h1.2M565.36 294.91h1.2M565.36 304.33h1.2M565.96 288.08h1.2M565.96 296.37h1.2M566.57 298.51h1.2M566.57 309.73h1.2M567.17 287.20h1.2M567.17 301.90h1.2M567.77 288.89h1.2M567.77 300.91h1.2M568.38 300.34h1.2M568.38 308.31h1.2M568.98 291.88h1.2M568.98 300.92h1.2M569.59 287.71h1.2M569.59 298.50h1.2M570.19 290.83h1.2M570.19 302.31h1.2M570.79 288.99h1.2M570.79 301.38h1.2M571.40 297.60h1.2M571.40 307.76h1.2M572.00 301.62h1.2M572.00 308.45h1.2M572.60 294.27h1.2M572.60 303.81h1.2M573.21 298.92h1.2M573.21 314.13h1.2M573.81 305.98h1.2M573.81 314.96h1.2M574.42 299.92h1.2M574.42 314.91h1.2M575.02 298.75h1.2M575.02 307.09h1.2M575.62 302.92h1.2M575.62 316.15h1.2M576.23 295.48h1.2M576.23 311.21h1.2M576.83 301.82h1.2M576.83 310.14h1.2M577.43 296.78h1.2M577.43 306.18h1.2M578.04 302.45h1.2M578.04 316.22h1.2M578.64 306.15h1.2M578.64 314.28h1.2M579.25 298.82h1.2M579.25 309.74h1.2M579.85 302.61h1.2M579.85 310.06h1.2M580.45 301.63h1.2M580.45 315.77h1.2M581.06 304.34h1.2M581.06 315.86h1.2M581.66 309.12h1.2M581.66 320.10h1.2M582.27 304.92h1.2M582.27 314.90h1.2M582.87 297.75h1.2M582.87 309.05h1.2M583.47 307.86h1.2M583.47 318.20h1.2M584.08 301.77h1.2M584.08 309.43h1.2M584.68 306.32h1.2M584.68 315.79h1.2M585.28 306.07h1.2M585.28 319.07h1.2M585.89 302.05h1.2M585.89 313.16h1.2M586.49 302.27h1.2M586.49 312.12h1.2M587.10 307.31h1.2M587.10 315.18h1.2M587.70 310.57h1.2M587.70 317.44h1.2M588.30 309.24h1.2M588.30 319.89h1.2M588.91 306.66h1.2M588.91 315.95h1.2M589.51 303.77h1.2M589.51 312.89h1.2M590.11 306.79h1.2M590.11 313.70h1.2M590.72 316.31h1.2M590.72 325.92h1.2M591.32 308.33h1.2M591.32 318.92h1.2M591.93 304.52h1.2M591.93 312.73h1.2M592.53 306.04h1.2M592.53 317.40h1.2M593.13 311.93h1.2M593.13 321.20h1.2M593.74 306.23h1.2M593.74 323.31h1.2M594.34 307.08h1.2M594.34 315.11h1.2M594.95 307.06h1.2M594.95 316.51h1.2M595.55 308.34h1.2M595.55 315.85h1.2M596.15 299.75h1.2M596.15 309.69h1.2M596.76 298.41h1.2M596.76 307.98h1.2M597.36 308.38h1.2M597.36 316.04h1.2M597.96 303.70h1.2M597.96 313.06h1.2M598.57 310.24h1.2M598.57 324.66h1.2M599.17 304.75h1.2M599.17 317.22h1.2M599.78 298.13h1.2M599.78 313.44h1.2M600.38 304.22h1.2M600.38 314.87h1.2M600.98 305.48h1.2M600.98 313.10h1.2M601.59 316.62h1.2M601.59 326.33h1.2M602.19 307.35h1.2M602.19 315.37h1.2M602.79 305.63h1.2M602.79 316.53h1.2M603.40 311.10h1.2M603.40 323.37h1.2M604.00 307.76h1.2M604.00 315.73h1.2M604.61 305.64h1.2M604.61 319.18h1.2M605.21 296.72h1.2M605.21 313.72h1.2M605.81 309.16h1.2M605.81 316.81h1.2M606.42 302.84h1.2M606.42 320.06h1.2M607.02 304.87h1.2M607.02 314.99h1.2M607.62 300.98h1.2M607.62 311.81h1.2M608.23 308.97h1.2M608.23 318.17h1.2M608.83 306.59h1.2M608.83 315.65h1.2M609.44 305.59h1.2M609.44 312.70h1.2M610.04 306.72h1.2M610.04 315.96h1.2M610.64 307.25h1.2M610.64 314.68h1.2M611.25 305.92h1.2M611.25 315.56h1.2M611.85 314.26h1.2M611.85 323.33h1.2M612.46 304.22h1.2M612.46 321.10h1.2M613.06 309.15h1.2M613.06 322.79h1.2M613.66 308.32h1.2M613.66 318.81h1.2M614.27 311.31h1.2M614.27 323.90h1.2M614.87 307.83h1.2M614.87 319.81h1.2M615.47 304.25h1.2M615.47 312.23h1.2M616.08 307.27h1.2M616.08 318.56h1.2M616.68 305.61h1.2M616.68 314.17h1.2M617.29 307.27h1.2M617.29 315.55h1.2M617.89 304.10h1.2M617.89 316.35h1.2M618.49 308.51h1.2M618.49 322.34h1.2M619.10 305.19h1.2M619.10 316.49h1.2M619.70 307.86h1.2M619.70 317.56h1.2M620.30 307.76h1.2M620.30 317.92h1.2M620.91 307.53h1.2M620.91 318.77h1.2M621.51 300.43h1.2M621.51 315.88h1.2M622.12 310.89h1.2M622.12 325.72h1.2M622.72 312.93h1.2M622.72 323.00h1.2M623.32 305.33h1.2M623.32 314.77h1.2M623.93 304.78h1.2M623.93 312.09h1.2M624.53 306.21h1.2M624.53 315.96h1.2M625.14 295.85h1.2M625.14 312.82h1.2M625.74 315.48h1.2M625.74 322.40h1.2M626.34 309.05h1.2M626.34 317.95h1.2M626.95 308.27h1.2M626.95 315.99h1.2M627.55 305.57h1.2M627.55 316.00h1.2M628.15 308.35h1.2M628.15 315.26h1.2M628.76 307.01h1.2M628.76 317.57h1.2M629.36 307.83h1.2M629.36 314.84h1.2M629.97 307.52h1.2M629.97 318.99h1.2M630.57 307.06h1.2M630.57 318.19h1.2M631.17 309.02h1.2M631.17 317.44h1.2M631.78 305.61h1.2M631.78 313.45h1.2M632.38 306.86h1.2M632.38 320.50h1.2M632.98 305.85h1.2M632.98 315.48h1.2M633.59 308.63h1.2M633.59 316.33h1.2M634.19 303.09h1.2M634.19 313.14h1.2M634.80 305.98h1.2M634.80 315.73h1.2M635.40 301.50h1.2M635.40 312.78h1.2" stroke="#5f82e2" stroke-width="0.8" fill="none"/><g fill="#3d67dd"><circle cx="524.90" cy="309.61" r="0.8"/><circle cx="525.50" cy="306.88" r="0.8"/><circle cx="526.11" cy="307.78" r="0.8"/><circle cx="526.71" cy="304.46" r="0.8"/><circle cx="527.32" cy="310.97" r="0.8"/><circle cx="527.92" cy="306.11" r="0.8"/><circle cx="528.52" cy="311.07" r="0.8"/><circle cx="529.13" cy="311.19" r="0.8"/><circle cx="529.73" cy="306.65" r="0.8"/><circle cx="530.33" cy="299.90" r="0.8"/><circle cx="530.94" cy="305.47" r="0.8"/><circle cx="531.54" cy="307.15" r="0.8"/><circle cx="532.15" cy="306.92" r="0.8"/><circle cx="532.75" cy="304.02" r="0.8"/><circle cx="533.35" cy="312.88" r="0.8"/><circle cx="533.96" cy="310.43" r="0.8"/><circle cx="534.56" cy="309.54" r="0.8"/><circle cx="535.16" cy="308.56" r="0.8"/><circle cx="535.77" cy="309.98" r="0.8"/><circle cx="536.37" cy="302.10" r="0.8"/><circle cx="536.98" cy="308.78" r="0.8"/><circle cx="537.58" cy="300.72" r="0.8"/><circle cx="538.18" cy="302.16" r="0.8"/><circle cx="538.79" cy="302.06" r="0.8"/><circle cx="539.39" cy="300.51" r="0.8"/><circle cx="540.00" cy="301.83" r="0.8"/><circle cx="540.60" cy="301.39" r="0.8"/><circle cx="541.20" cy="301.43" r="0.8"/><circle cx="541.81" cy="297.71" r="0.8"/><circle cx="542.41" cy="301.40" r="0.8"/><circle cx="543.01" cy="295.56" r="0.8"/><circle cx="543.62" cy="296.05" r="0.8"/><circle cx="544.22" cy="294.90" r="0.8"/><circle cx="544.83" cy="290.62" r="0.8"/><circle cx="545.43" cy="298.96" r="0.8"/><circle cx="546.03" cy="295.69" r="0.8"/><circle cx="546.64" cy="294.90" r="0.8"/><circle cx="547.24" cy="295.72" r="0.8"/><circle cx="547.84" cy="295.11" r="0.8"/><circle cx="548.45" cy="284.34" r="0.8"/><circle cx="549.05" cy="294.20" r="0.8"/><circle cx="549.66" cy="288.38" r="0.8"/><circle cx="550.26" cy="287.68" r="0.8"/><circle cx="550.86" cy="288.92" r="0.8"/><circle cx="551.47" cy="293.23" r="0.8"/><circle cx="552.07" cy="294.01" r="0.8"/><circle cx="552.67" cy="293.06" r="0.8"/><circle cx="553.28" cy="287.33" r="0.8"/><circle cx="553.88" cy="286.14" r="0.8"/><circle cx="554.49" cy="286.19" r="0.8"/><circle cx="555.09" cy="291.85" r="0.8"/><circle cx="555.69" cy="284.69" r="0.8"/><circle cx="556.30" cy="286.03" r="0.8"/><circle cx="556.90" cy="282.58" r="0.8"/><circle cx="557.51" cy="278.76" r="0.8"/><circle cx="558.11" cy="286.39" r="0.8"/><circle cx="558.71" cy="286.78" r="0.8"/><circle cx="559.32" cy="292.13" r="0.8"/><circle cx="559.92" cy="288.18" r="0.8"/><circle cx="560.52" cy="286.00" r="0.8"/><circle cx="561.13" cy="291.97" r="0.8"/><circle cx="561.73" cy="287.93" r="0.8"/><circle cx="562.34" cy="286.73" r="0.8"/><circle cx="562.94" cy="285.62" r="0.8"/><circle cx="563.54" cy="294.77" r="0.8"/><circle cx="564.15" cy="288.55" r="0.8"/><circle cx="564.75" cy="290.06" r="0.8"/><circle cx="565.35" cy="288.74" r="0.8"/><circle cx="565.96" cy="299.62" r="0.8"/><circle cx="566.56" cy="292.22" r="0.8"/><circle cx="567.17" cy="304.12" r="0.8"/><circle cx="567.77" cy="294.55" r="0.8"/><circle cx="568.37" cy="294.90" r="0.8"/><circle cx="568.98" cy="304.32" r="0.8"/><circle cx="569.58" cy="296.40" r="0.8"/><circle cx="570.19" cy="293.11" r="0.8"/><circle cx="570.79" cy="296.57" r="0.8"/><circle cx="571.39" cy="295.19" r="0.8"/><circle cx="572.00" cy="302.68" r="0.8"/><circle cx="572.60" cy="305.04" r="0.8"/><circle cx="573.20" cy="299.04" r="0.8"/><circle cx="573.81" cy="306.53" r="0.8"/><circle cx="574.41" cy="310.47" r="0.8"/><circle cx="575.02" cy="307.41" r="0.8"/><circle cx="575.62" cy="302.92" r="0.8"/><circle cx="576.22" cy="309.54" r="0.8"/><circle cx="576.83" cy="303.35" r="0.8"/><circle cx="577.43" cy="305.98" r="0.8"/><circle cx="578.03" cy="301.48" r="0.8"/><circle cx="578.64" cy="309.33" r="0.8"/><circle cx="579.24" cy="310.21" r="0.8"/><circle cx="579.85" cy="304.28" r="0.8"/><circle cx="580.45" cy="306.33" r="0.8"/><circle cx="581.05" cy="308.70" r="0.8"/><circle cx="581.66" cy="310.10" r="0.8"/><circle cx="582.26" cy="314.61" r="0.8"/><circle cx="582.87" cy="309.91" r="0.8"/><circle cx="583.47" cy="303.40" r="0.8"/><circle cx="584.07" cy="313.03" r="0.8"/><circle cx="584.68" cy="305.60" r="0.8"/><circle cx="585.28" cy="311.05" r="0.8"/><circle cx="585.88" cy="312.57" r="0.8"/><circle cx="586.49" cy="307.60" r="0.8"/><circle cx="587.09" cy="307.20" r="0.8"/><circle cx="587.70" cy="311.25" r="0.8"/><circle cx="588.30" cy="314.01" r="0.8"/><circle cx="588.90" cy="314.56" r="0.8"/><circle cx="589.51" cy="311.30" r="0.8"/><circle cx="590.11" cy="308.33" r="0.8"/><circle cx="590.71" cy="310.25" r="0.8"/><circle cx="591.32" cy="321.11" r="0.8"/><circle cx="591.92" cy="313.63" r="0.8"/><circle cx="592.53" cy="308.62" r="0.8"/><circle cx="593.13" cy="311.72" r="0.8"/><circle cx="593.73" cy="316.57" r="0.8"/><circle cx="594.34" cy="314.77" r="0.8"/><circle cx="594.94" cy="311.10" r="0.8"/><circle cx="595.55" cy="311.78" r="0.8"/><circle cx="596.15" cy="312.10" r="0.8"/><circle cx="596.75" cy="304.72" r="0.8"/><circle cx="597.36" cy="303.20" r="0.8"/><circle cx="597.96" cy="312.21" r="0.8"/><circle cx="598.56" cy="308.38" r="0.8"/><circle cx="599.17" cy="317.45" r="0.8"/><circle cx="599.77" cy="310.98" r="0.8"/><circle cx="600.38" cy="305.79" r="0.8"/><circle cx="600.98" cy="309.55" r="0.8"/><circle cx="601.58" cy="309.29" r="0.8"/><circle cx="602.19" cy="321.48" r="0.8"/><circle cx="602.79" cy="311.36" r="0.8"/><circle cx="603.39" cy="311.08" r="0.8"/><circle cx="604.00" cy="317.23" r="0.8"/><circle cx="604.60" cy="311.75" r="0.8"/><circle cx="605.21" cy="312.41" r="0.8"/><circle cx="605.81" cy="305.22" r="0.8"/><circle cx="606.41" cy="312.98" r="0.8"/><circle cx="607.02" cy="311.45" r="0.8"/><circle cx="607.62" cy="309.93" r="0.8"/><circle cx="608.23" cy="306.39" r="0.8"/><circle cx="608.83" cy="313.57" r="0.8"/><circle cx="609.43" cy="311.12" r="0.8"/><circle cx="610.04" cy="309.15" r="0.8"/><circle cx="610.64" cy="311.34" r="0.8"/><circle cx="611.24" cy="310.96" r="0.8"/><circle cx="611.85" cy="310.74" r="0.8"/><circle cx="612.45" cy="318.79" r="0.8"/><circle cx="613.06" cy="312.66" r="0.8"/><circle cx="613.66" cy="315.97" r="0.8"/><circle cx="614.26" cy="313.56" r="0.8"/><circle cx="614.87" cy="317.61" r="0.8"/><circle cx="615.47" cy="313.82" r="0.8"/><circle cx="616.07" cy="308.24" r="0.8"/><circle cx="616.68" cy="312.92" r="0.8"/><circle cx="617.28" cy="309.89" r="0.8"/><circle cx="617.89" cy="311.41" r="0.8"/><circle cx="618.49" cy="310.22" r="0.8"/><circle cx="619.09" cy="315.43" r="0.8"/><circle cx="619.70" cy="310.84" r="0.8"/><circle cx="620.30" cy="312.71" r="0.8"/><circle cx="620.90" cy="312.84" r="0.8"/><circle cx="621.51" cy="313.15" r="0.8"/><circle cx="622.11" cy="308.15" r="0.8"/><circle cx="622.72" cy="318.31" r="0.8"/><circle cx="623.32" cy="317.96" r="0.8"/><circle cx="623.92" cy="310.05" r="0.8"/><circle cx="624.53" cy="308.44" r="0.8"/><circle cx="625.13" cy="311.09" r="0.8"/><circle cx="625.74" cy="304.33" r="0.8"/><circle cx="626.34" cy="318.94" r="0.8"/><circle cx="626.94" cy="313.50" r="0.8"/><circle cx="627.55" cy="312.13" r="0.8"/><circle cx="628.15" cy="310.78" r="0.8"/><circle cx="628.75" cy="311.81" r="0.8"/><circle cx="629.36" cy="312.29" r="0.8"/><circle cx="629.96" cy="311.33" r="0.8"/><circle cx="630.57" cy="313.25" r="0.8"/><circle cx="631.17" cy="312.63" r="0.8"/><circle cx="631.77" cy="313.23" r="0.8"/><circle cx="632.38" cy="309.53" r="0.8"/><circle cx="632.98" cy="313.68" r="0.8"/><circle cx="633.58" cy="310.66" r="0.8"/><circle cx="634.19" cy="312.48" r="0.8"/><circle cx="634.79" cy="308.11" r="0.8"/><circle cx="635.40" cy="310.85" r="0.8"/><circle cx="636.00" cy="307.14" r="0.8"/></g><path d="M524.50 310.13L525.06 310.06L525.62 309.97L526.18 309.88L526.74 309.78L527.29 309.66L527.85 309.54L528.41 309.40L528.97 309.25L529.53 309.08L530.09 308.90L530.65 308.71L531.21 308.50L531.77 308.27L532.33 308.02L532.88 307.75L533.44 307.47L534.00 307.16L534.56 306.84L535.12 306.49L535.68 306.12L536.24 305.73L536.80 305.32L537.36 304.89L537.92 304.43L538.48 303.96L539.03 303.46L539.59 302.95L540.15 302.41L540.71 301.86L541.27 301.30L541.83 300.72L542.39 300.12L542.95 299.52L543.51 298.90L544.06 298.28L544.62 297.66L545.18 297.03L545.74 296.40L546.30 295.78L546.86 295.17L547.42 294.56L547.98 293.97L548.54 293.39L549.10 292.83L549.65 292.29L550.21 291.78L550.77 291.30L551.33 290.84L551.89 290.42L552.45 290.04L553.01 289.69L553.57 289.39L554.13 289.13L554.69 288.91L555.25 288.74L555.80 288.61L556.36 288.53L556.92 288.50L557.48 288.52L558.04 288.58L558.60 288.70L559.16 288.86L559.72 289.06L560.28 289.31L560.84 289.61L561.39 289.94L561.95 290.31L562.51 290.72L563.07 291.17L563.63 291.64L564.19 292.15L564.75 292.68L565.31 293.23L565.87 293.80L566.42 294.39L566.98 294.99L567.54 295.61L568.10 296.23L568.66 296.85L569.22 297.48L569.78 298.11L570.34 298.73L570.90 299.35L571.46 299.95L572.01 300.55L572.57 301.14L573.13 301.71L573.69 302.26L574.25 302.80L574.81 303.32L575.37 303.82L575.93 304.30L576.49 304.76L577.05 305.20L577.61 305.62L578.16 306.01L578.72 306.39L579.28 306.74L579.84 307.07L580.40 307.38L580.96 307.67L581.52 307.95L582.08 308.20L582.64 308.43L583.19 308.65L583.75 308.85L584.31 309.04L584.87 309.20L585.43 309.36L585.99 309.50L586.55 309.63L587.11 309.75L587.67 309.85L588.23 309.95L588.78 310.03L589.34 310.11L589.90 310.18L590.46 310.25L591.02 310.30L591.58 310.35L592.14 310.39L592.70 310.43L593.26 310.47L593.82 310.50L594.38 310.53L594.93 310.55L595.49 310.57L596.05 310.59L596.61 310.60L597.17 310.62L597.73 310.63L598.29 310.64L598.85 310.65L599.41 310.66L599.96 310.66L600.52 310.67L601.08 310.67L601.64 310.68L602.20 310.68L602.76 310.68L603.32 310.69L603.88 310.69L604.44 310.69L605.00 310.69L605.55 310.69L606.11 310.69L606.67 310.70L607.23 310.70L607.79 310.70L608.35 310.70L608.91 310.70L609.47 310.70L610.03 310.70L610.59 310.70L611.14 310.70L611.70 310.70L612.26 310.70L612.82 310.70L613.38 310.70L613.94 310.70L614.50 310.70L615.06 310.70L615.62 310.70L616.18 310.70L616.73 310.70L617.29 310.70L617.85 310.70L618.41 310.70L618.97 310.70L619.53 310.70L620.09 310.70L620.65 310.70L621.21 310.70L621.77 310.70L622.32 310.70L622.88 310.70L623.44 310.70L624.00 310.70L624.56 310.70L625.12 310.70L625.68 310.70L626.24 310.70L626.80 310.70L627.36 310.70L627.91 310.70L628.47 310.70L629.03 310.70L629.59 310.70L630.15 310.70L630.71 310.70L631.27 310.70L631.83 310.70L632.39 310.70L632.95 310.70L633.50 310.70L634.06 310.70L634.62 310.70L635.18 310.70L635.74 310.70L636.30 310.70" stroke="#ec1414" stroke-width="1.5" fill="none"/></g><line x1="521.5999999999999" y1="278.3" x2="524.3" y2="278.3" stroke="#4a4a4a" stroke-width="0.9"/><text x="520.3" y="281.3" font-family="Liberation Sans" font-size="8.3" text-anchor="end" fill="#303030">800</text><line x1="521.5999999999999" y1="297.1" x2="524.3" y2="297.1" stroke="#4a4a4a" stroke-width="0.9"/><text x="520.3" y="300.1" font-family="Liberation Sans" font-size="8.3" text-anchor="end" fill="#303030">400</text><line x1="521.5999999999999" y1="315.4" x2="524.3" y2="315.4" stroke="#4a4a4a" stroke-width="0.9"/><text x="520.3" y="318.4" font-family="Liberation Sans" font-size="8.3" text-anchor="end" fill="#303030">0</text><rect x="524.3" y="331.8" width="112.20" height="55.80" fill="none" stroke="#6a6a6a" stroke-width="1.15"/><g clip-path="url(#pc10)"><path d="M524.90 371.65V385.02M525.39 375.89V386.28M525.87 372.36V381.09M526.36 366.32V381.91M526.84 372.81V379.85M527.33 366.88V375.43M527.81 370.76V386.79M528.30 372.39V383.67M528.78 376.35V383.53M529.27 371.40V378.66M529.75 370.34V386.86M530.24 369.55V381.50M530.72 375.82V386.78M531.21 368.89V376.10M531.69 371.48V378.72M532.18 370.61V380.87M532.66 360.91V389.50M533.15 372.75V384.34M533.63 374.60V382.38M534.12 366.07V374.24M534.60 364.73V389.77M535.09 370.68V381.91M535.57 368.64V378.25M536.06 369.78V382.06M536.54 369.24V381.66M537.03 368.06V383.41M537.51 365.38V375.88M538.00 366.02V373.85M538.48 367.17V378.83M538.97 365.03V376.82M539.45 365.50V383.33M539.94 368.58V376.99M540.42 373.39V383.56M540.91 363.36V373.82M541.40 367.27V374.65M541.88 367.81V374.84M542.37 372.20V380.90M542.85 361.23V375.26M543.34 368.10V376.01M543.82 363.49V378.29M544.31 359.89V369.99M544.79 364.16V377.46M545.28 368.57V376.87M545.76 364.78V373.88M546.25 368.69V377.39M546.73 361.83V370.17M547.22 365.52V374.46M547.70 361.83V371.20M548.19 365.70V376.13M548.67 358.91V370.21M549.16 360.71V375.52M549.64 357.93V367.06M550.13 359.48V370.08M550.61 358.47V365.87M551.10 363.19V370.55M551.58 357.05V370.67M552.07 350.12V372.15M552.55 351.48V373.50M553.04 352.15V375.20M553.52 353.32V363.95M554.01 357.15V366.51M554.49 354.52V364.53M554.98 349.88V363.12M555.46 354.07V368.88M555.95 349.74V365.30M556.43 348.24V356.66M556.92 353.85V362.23M557.41 357.45V364.69M557.89 345.09V352.27M558.38 345.46V356.94M558.86 347.88V358.06M559.35 345.88V355.05M559.83 346.18V357.38M560.32 344.56V359.78M560.80 347.62V354.64M561.29 348.66V358.41M561.77 348.91V357.01M562.26 343.62V359.57M562.74 351.94V359.84M563.23 344.82V364.22M563.71 346.61V356.03M564.20 348.36V361.76M564.68 347.61V355.30M565.17 348.04V358.17M565.65 342.86V360.03M566.14 350.94V358.31M566.62 347.96V358.86M567.11 353.98V370.18M567.59 348.85V358.52M568.08 349.81V362.14M568.56 354.13V365.13M569.05 354.33V366.87M569.53 357.11V369.01M570.02 362.34V370.01M570.50 356.97V367.55M570.99 356.29V363.39M571.47 353.64V365.79M571.96 357.33V376.62M572.44 353.57V365.40M572.93 360.54V367.97M573.42 360.66V373.44M573.90 360.37V373.13M574.39 358.68V373.15M574.87 367.05V374.17M575.36 364.20V373.30M575.84 364.94V373.42M576.33 359.42V367.78M576.81 359.30V380.04M577.30 364.40V375.96M577.78 364.58V374.10M578.27 369.00V382.58M578.75 363.75V375.38M579.24 372.00V382.68M579.72 370.93V379.34M580.21 368.34V376.90M580.69 369.19V379.77M581.18 368.78V379.83M581.66 372.59V381.10M582.15 368.02V380.18M582.63 368.99V380.39M583.12 365.63V373.53M583.60 370.32V381.66M584.09 373.39V381.16M584.57 372.17V383.42M585.06 370.50V378.59M585.54 371.11V382.41M586.03 371.06V382.02M586.51 375.56V384.23M587.00 371.55V385.31M587.48 367.05V383.85M587.97 365.99V376.44M588.46 372.17V383.26M588.94 363.26V379.42M589.43 375.19V384.06M589.91 371.21V379.02M590.40 367.12V385.25M590.88 370.28V380.16M591.37 369.39V386.65M591.85 369.48V377.01M592.34 371.11V383.18M592.82 370.17V379.03M593.31 373.99V382.66M593.79 368.11V382.03M594.28 369.99V378.86M594.76 372.17V381.01M595.25 372.29V381.96M595.73 370.26V382.44M596.22 369.02V386.66M596.70 367.42V389.51M597.19 368.22V382.15M597.67 367.97V378.95M598.16 368.49V385.56M598.64 371.06V380.44M599.13 375.16V386.57M599.61 374.07V381.44M600.10 372.15V383.34M600.58 375.28V383.38M601.07 371.28V387.27M601.55 371.08V381.98M602.04 364.18V387.60M602.52 371.82V386.59M603.01 376.74V386.46M603.49 373.32V381.46M603.98 369.29V379.75M604.47 368.06V377.26M604.95 362.18V374.53M605.44 367.61V376.82M605.92 361.73V374.25M606.41 366.38V383.14M606.89 371.51V379.02M607.38 368.83V378.54M607.86 367.55V392.88M608.35 367.50V383.50M608.83 364.44V375.39M609.32 364.92V384.99M609.80 369.61V380.78M610.29 371.63V381.24M610.77 370.83V381.19M611.26 370.20V377.75M611.74 370.33V380.86M612.23 373.16V385.37M612.71 371.90V384.91M613.20 372.10V385.84M613.68 367.53V376.67M614.17 372.70V382.53M614.65 369.66V378.43M615.14 364.70V379.35M615.62 365.10V375.10M616.11 356.84V378.24M616.59 376.15V384.24M617.08 372.76V383.92M617.56 370.99V378.96M618.05 370.99V379.34M618.53 379.45V387.06M619.02 364.57V380.32M619.50 371.53V382.43M619.99 377.48V386.04M620.48 371.39V381.58M620.96 372.22V389.02M621.45 369.86V386.42M621.93 371.20V381.14M622.42 370.10V381.61M622.90 366.31V380.49M623.39 376.14V384.86M623.87 371.68V386.04M624.36 375.55V384.61M624.84 372.96V383.63M625.33 375.33V386.16M625.81 364.15V375.96M626.30 375.72V384.11M626.78 373.27V380.65M627.27 372.90V387.12M627.75 368.82V383.31M628.24 369.80V379.05M628.72 365.55V380.95M629.21 369.75V380.49M629.69 363.18V372.04M630.18 361.34V370.69M630.66 358.29V367.33M631.15 353.84V362.97M631.63 346.22V354.92M632.12 347.25V357.01M632.60 359.38V368.12M633.09 360.94V372.48M633.57 370.43V378.01M634.06 370.22V377.94M634.54 367.88V379.82M635.03 369.17V377.42M635.51 373.72V382.88M636.00 371.81V379.57" stroke="#3a3a3a" stroke-width="0.7" opacity="1.0" fill="none"/><path d="M524.30 371.65h1.2M524.30 385.02h1.2M524.79 375.89h1.2M524.79 386.28h1.2M525.27 372.36h1.2M525.27 381.09h1.2M525.76 366.32h1.2M525.76 381.91h1.2M526.24 372.81h1.2M526.24 379.85h1.2M526.73 366.88h1.2M526.73 375.43h1.2M527.21 370.76h1.2M527.21 386.79h1.2M527.70 372.39h1.2M527.70 383.67h1.2M528.18 376.35h1.2M528.18 383.53h1.2M528.67 371.40h1.2M528.67 378.66h1.2M529.15 370.34h1.2M529.15 386.86h1.2M529.64 369.55h1.2M529.64 381.50h1.2M530.12 375.82h1.2M530.12 386.78h1.2M530.61 368.89h1.2M530.61 376.10h1.2M531.09 371.48h1.2M531.09 378.72h1.2M531.58 370.61h1.2M531.58 380.87h1.2M532.06 360.91h1.2M532.06 389.50h1.2M532.55 372.75h1.2M532.55 384.34h1.2M533.03 374.60h1.2M533.03 382.38h1.2M533.52 366.07h1.2M533.52 374.24h1.2M534.00 364.73h1.2M534.00 389.77h1.2M534.49 370.68h1.2M534.49 381.91h1.2M534.97 368.64h1.2M534.97 378.25h1.2M535.46 369.78h1.2M535.46 382.06h1.2M535.94 369.24h1.2M535.94 381.66h1.2M536.43 368.06h1.2M536.43 383.41h1.2M536.91 365.38h1.2M536.91 375.88h1.2M537.40 366.02h1.2M537.40 373.85h1.2M537.88 367.17h1.2M537.88 378.83h1.2M538.37 365.03h1.2M538.37 376.82h1.2M538.85 365.50h1.2M538.85 383.33h1.2M539.34 368.58h1.2M539.34 376.99h1.2M539.82 373.39h1.2M539.82 383.56h1.2M540.31 363.36h1.2M540.31 373.82h1.2M540.80 367.27h1.2M540.80 374.65h1.2M541.28 367.81h1.2M541.28 374.84h1.2M541.77 372.20h1.2M541.77 380.90h1.2M542.25 361.23h1.2M542.25 375.26h1.2M542.74 368.10h1.2M542.74 376.01h1.2M543.22 363.49h1.2M543.22 378.29h1.2M543.71 359.89h1.2M543.71 369.99h1.2M544.19 364.16h1.2M544.19 377.46h1.2M544.68 368.57h1.2M544.68 376.87h1.2M545.16 364.78h1.2M545.16 373.88h1.2M545.65 368.69h1.2M545.65 377.39h1.2M546.13 361.83h1.2M546.13 370.17h1.2M546.62 365.52h1.2M546.62 374.46h1.2M547.10 361.83h1.2M547.10 371.20h1.2M547.59 365.70h1.2M547.59 376.13h1.2M548.07 358.91h1.2M548.07 370.21h1.2M548.56 360.71h1.2M548.56 375.52h1.2M549.04 357.93h1.2M549.04 367.06h1.2M549.53 359.48h1.2M549.53 370.08h1.2M550.01 358.47h1.2M550.01 365.87h1.2M550.50 363.19h1.2M550.50 370.55h1.2M550.98 357.05h1.2M550.98 370.67h1.2M551.47 350.12h1.2M551.47 372.15h1.2M551.95 351.48h1.2M551.95 373.50h1.2M552.44 352.15h1.2M552.44 375.20h1.2M552.92 353.32h1.2M552.92 363.95h1.2M553.41 357.15h1.2M553.41 366.51h1.2M553.89 354.52h1.2M553.89 364.53h1.2M554.38 349.88h1.2M554.38 363.12h1.2M554.86 354.07h1.2M554.86 368.88h1.2M555.35 349.74h1.2M555.35 365.30h1.2M555.83 348.24h1.2M555.83 356.66h1.2M556.32 353.85h1.2M556.32 362.23h1.2M556.81 357.45h1.2M556.81 364.69h1.2M557.29 345.09h1.2M557.29 352.27h1.2M557.78 345.46h1.2M557.78 356.94h1.2M558.26 347.88h1.2M558.26 358.06h1.2M558.75 345.88h1.2M558.75 355.05h1.2M559.23 346.18h1.2M559.23 357.38h1.2M559.72 344.56h1.2M559.72 359.78h1.2M560.20 347.62h1.2M560.20 354.64h1.2M560.69 348.66h1.2M560.69 358.41h1.2M561.17 348.91h1.2M561.17 357.01h1.2M561.66 343.62h1.2M561.66 359.57h1.2M562.14 351.94h1.2M562.14 359.84h1.2M562.63 344.82h1.2M562.63 364.22h1.2M563.11 346.61h1.2M563.11 356.03h1.2M563.60 348.36h1.2M563.60 361.76h1.2M564.08 347.61h1.2M564.08 355.30h1.2M564.57 348.04h1.2M564.57 358.17h1.2M565.05 342.86h1.2M565.05 360.03h1.2M565.54 350.94h1.2M565.54 358.31h1.2M566.02 347.96h1.2M566.02 358.86h1.2M566.51 353.98h1.2M566.51 370.18h1.2M566.99 348.85h1.2M566.99 358.52h1.2M567.48 349.81h1.2M567.48 362.14h1.2M567.96 354.13h1.2M567.96 365.13h1.2M568.45 354.33h1.2M568.45 366.87h1.2M568.93 357.11h1.2M568.93 369.01h1.2M569.42 362.34h1.2M569.42 370.01h1.2M569.90 356.97h1.2M569.90 367.55h1.2M570.39 356.29h1.2M570.39 363.39h1.2M570.87 353.64h1.2M570.87 365.79h1.2M571.36 357.33h1.2M571.36 376.62h1.2M571.84 353.57h1.2M571.84 365.40h1.2M572.33 360.54h1.2M572.33 367.97h1.2M572.82 360.66h1.2M572.82 373.44h1.2M573.30 360.37h1.2M573.30 373.13h1.2M573.79 358.68h1.2M573.79 373.15h1.2M574.27 367.05h1.2M574.27 374.17h1.2M574.76 364.20h1.2M574.76 373.30h1.2M575.24 364.94h1.2M575.24 373.42h1.2M575.73 359.42h1.2M575.73 367.78h1.2M576.21 359.30h1.2M576.21 380.04h1.2M576.70 364.40h1.2M576.70 375.96h1.2M577.18 364.58h1.2M577.18 374.10h1.2M577.67 369.00h1.2M577.67 382.58h1.2M578.15 363.75h1.2M578.15 375.38h1.2M578.64 372.00h1.2M578.64 382.68h1.2M579.12 370.93h1.2M579.12 379.34h1.2M579.61 368.34h1.2M579.61 376.90h1.2M580.09 369.19h1.2M580.09 379.77h1.2M580.58 368.78h1.2M580.58 379.83h1.2M581.06 372.59h1.2M581.06 381.10h1.2M581.55 368.02h1.2M581.55 380.18h1.2M582.03 368.99h1.2M582.03 380.39h1.2M582.52 365.63h1.2M582.52 373.53h1.2M583.00 370.32h1.2M583.00 381.66h1.2M583.49 373.39h1.2M583.49 381.16h1.2M583.97 372.17h1.2M583.97 383.42h1.2M584.46 370.50h1.2M584.46 378.59h1.2M584.94 371.11h1.2M584.94 382.41h1.2M585.43 371.06h1.2M585.43 382.02h1.2M585.91 375.56h1.2M585.91 384.23h1.2M586.40 371.55h1.2M586.40 385.31h1.2M586.88 367.05h1.2M586.88 383.85h1.2M587.37 365.99h1.2M587.37 376.44h1.2M587.86 372.17h1.2M587.86 383.26h1.2M588.34 363.26h1.2M588.34 379.42h1.2M588.83 375.19h1.2M588.83 384.06h1.2M589.31 371.21h1.2M589.31 379.02h1.2M589.80 367.12h1.2M589.80 385.25h1.2M590.28 370.28h1.2M590.28 380.16h1.2M590.77 369.39h1.2M590.77 386.65h1.2M591.25 369.48h1.2M591.25 377.01h1.2M591.74 371.11h1.2M591.74 383.18h1.2M592.22 370.17h1.2M592.22 379.03h1.2M592.71 373.99h1.2M592.71 382.66h1.2M593.19 368.11h1.2M593.19 382.03h1.2M593.68 369.99h1.2M593.68 378.86h1.2M594.16 372.17h1.2M594.16 381.01h1.2M594.65 372.29h1.2M594.65 381.96h1.2M595.13 370.26h1.2M595.13 382.44h1.2M595.62 369.02h1.2M595.62 386.66h1.2M596.10 367.42h1.2M596.10 389.51h1.2M596.59 368.22h1.2M596.59 382.15h1.2M597.07 367.97h1.2M597.07 378.95h1.2M597.56 368.49h1.2M597.56 385.56h1.2M598.04 371.06h1.2M598.04 380.44h1.2M598.53 375.16h1.2M598.53 386.57h1.2M599.01 374.07h1.2M599.01 381.44h1.2M599.50 372.15h1.2M599.50 383.34h1.2M599.98 375.28h1.2M599.98 383.38h1.2M600.47 371.28h1.2M600.47 387.27h1.2M600.95 371.08h1.2M600.95 381.98h1.2M601.44 364.18h1.2M601.44 387.60h1.2M601.92 371.82h1.2M601.92 386.59h1.2M602.41 376.74h1.2M602.41 386.46h1.2M602.89 373.32h1.2M602.89 381.46h1.2M603.38 369.29h1.2M603.38 379.75h1.2M603.87 368.06h1.2M603.87 377.26h1.2M604.35 362.18h1.2M604.35 374.53h1.2M604.84 367.61h1.2M604.84 376.82h1.2M605.32 361.73h1.2M605.32 374.25h1.2M605.81 366.38h1.2M605.81 383.14h1.2M606.29 371.51h1.2M606.29 379.02h1.2M606.78 368.83h1.2M606.78 378.54h1.2M607.26 367.55h1.2M607.26 392.88h1.2M607.75 367.50h1.2M607.75 383.50h1.2M608.23 364.44h1.2M608.23 375.39h1.2M608.72 364.92h1.2M608.72 384.99h1.2M609.20 369.61h1.2M609.20 380.78h1.2M609.69 371.63h1.2M609.69 381.24h1.2M610.17 370.83h1.2M610.17 381.19h1.2M610.66 370.20h1.2M610.66 377.75h1.2M611.14 370.33h1.2M611.14 380.86h1.2M611.63 373.16h1.2M611.63 385.37h1.2M612.11 371.90h1.2M612.11 384.91h1.2M612.60 372.10h1.2M612.60 385.84h1.2M613.08 367.53h1.2M613.08 376.67h1.2M613.57 372.70h1.2M613.57 382.53h1.2M614.05 369.66h1.2M614.05 378.43h1.2M614.54 364.70h1.2M614.54 379.35h1.2M615.02 365.10h1.2M615.02 375.10h1.2M615.51 356.84h1.2M615.51 378.24h1.2M615.99 376.15h1.2M615.99 384.24h1.2M616.48 372.76h1.2M616.48 383.92h1.2M616.96 370.99h1.2M616.96 378.96h1.2M617.45 370.99h1.2M617.45 379.34h1.2M617.93 379.45h1.2M617.93 387.06h1.2M618.42 364.57h1.2M618.42 380.32h1.2M618.90 371.53h1.2M618.90 382.43h1.2M619.39 377.48h1.2M619.39 386.04h1.2M619.88 371.39h1.2M619.88 381.58h1.2M620.36 372.22h1.2M620.36 389.02h1.2M620.85 369.86h1.2M620.85 386.42h1.2M621.33 371.20h1.2M621.33 381.14h1.2M621.82 370.10h1.2M621.82 381.61h1.2M622.30 366.31h1.2M622.30 380.49h1.2M622.79 376.14h1.2M622.79 384.86h1.2M623.27 371.68h1.2M623.27 386.04h1.2M623.76 375.55h1.2M623.76 384.61h1.2M624.24 372.96h1.2M624.24 383.63h1.2M624.73 375.33h1.2M624.73 386.16h1.2M625.21 364.15h1.2M625.21 375.96h1.2M625.70 375.72h1.2M625.70 384.11h1.2M626.18 373.27h1.2M626.18 380.65h1.2M626.67 372.90h1.2M626.67 387.12h1.2M627.15 368.82h1.2M627.15 383.31h1.2M627.64 369.80h1.2M627.64 379.05h1.2M628.12 365.55h1.2M628.12 380.95h1.2M628.61 369.75h1.2M628.61 380.49h1.2M629.09 363.18h1.2M629.09 372.04h1.2M629.58 361.34h1.2M629.58 370.69h1.2M630.06 358.29h1.2M630.06 367.33h1.2M630.55 353.84h1.2M630.55 362.97h1.2M631.03 346.22h1.2M631.03 354.92h1.2M631.52 347.25h1.2M631.52 357.01h1.2M632.00 359.38h1.2M632.00 368.12h1.2M632.49 360.94h1.2M632.49 372.48h1.2M632.97 370.43h1.2M632.97 378.01h1.2M633.46 370.22h1.2M633.46 377.94h1.2M633.94 367.88h1.2M633.94 379.82h1.2M634.43 369.17h1.2M634.43 377.42h1.2M634.91 373.72h1.2M634.91 382.88h1.2M635.40 371.81h1.2M635.40 379.57h1.2" stroke="#222" stroke-width="0.8" fill="none"/><g fill="#111"><circle cx="524.90" cy="378.33" r="0.8"/><circle cx="525.39" cy="381.08" r="0.8"/><circle cx="525.87" cy="376.72" r="0.8"/><circle cx="526.36" cy="374.11" r="0.8"/><circle cx="526.84" cy="376.33" r="0.8"/><circle cx="527.33" cy="371.15" r="0.8"/><circle cx="527.81" cy="378.78" r="0.8"/><circle cx="528.30" cy="378.03" r="0.8"/><circle cx="528.78" cy="379.94" r="0.8"/><circle cx="529.27" cy="375.03" r="0.8"/><circle cx="529.75" cy="378.60" r="0.8"/><circle cx="530.24" cy="375.52" r="0.8"/><circle cx="530.72" cy="381.30" r="0.8"/><circle cx="531.21" cy="372.49" r="0.8"/><circle cx="531.69" cy="375.10" r="0.8"/><circle cx="532.18" cy="375.74" r="0.8"/><circle cx="532.66" cy="375.20" r="0.8"/><circle cx="533.15" cy="378.54" r="0.8"/><circle cx="533.63" cy="378.49" r="0.8"/><circle cx="534.12" cy="370.15" r="0.8"/><circle cx="534.60" cy="377.25" r="0.8"/><circle cx="535.09" cy="376.30" r="0.8"/><circle cx="535.57" cy="373.45" r="0.8"/><circle cx="536.06" cy="375.92" r="0.8"/><circle cx="536.54" cy="375.45" r="0.8"/><circle cx="537.03" cy="375.74" r="0.8"/><circle cx="537.51" cy="370.63" r="0.8"/><circle cx="538.00" cy="369.94" r="0.8"/><circle cx="538.48" cy="373.00" r="0.8"/><circle cx="538.97" cy="370.92" r="0.8"/><circle cx="539.45" cy="374.42" r="0.8"/><circle cx="539.94" cy="372.79" r="0.8"/><circle cx="540.42" cy="378.47" r="0.8"/><circle cx="540.91" cy="368.59" r="0.8"/><circle cx="541.40" cy="370.96" r="0.8"/><circle cx="541.88" cy="371.33" r="0.8"/><circle cx="542.37" cy="376.55" r="0.8"/><circle cx="542.85" cy="368.24" r="0.8"/><circle cx="543.34" cy="372.05" r="0.8"/><circle cx="543.82" cy="370.89" r="0.8"/><circle cx="544.31" cy="364.94" r="0.8"/><circle cx="544.79" cy="370.81" r="0.8"/><circle cx="545.28" cy="372.72" r="0.8"/><circle cx="545.76" cy="369.33" r="0.8"/><circle cx="546.25" cy="373.04" r="0.8"/><circle cx="546.73" cy="366.00" r="0.8"/><circle cx="547.22" cy="369.99" r="0.8"/><circle cx="547.70" cy="366.52" r="0.8"/><circle cx="548.19" cy="370.91" r="0.8"/><circle cx="548.67" cy="364.56" r="0.8"/><circle cx="549.16" cy="368.11" r="0.8"/><circle cx="549.64" cy="362.50" r="0.8"/><circle cx="550.13" cy="364.78" r="0.8"/><circle cx="550.61" cy="362.17" r="0.8"/><circle cx="551.10" cy="366.87" r="0.8"/><circle cx="551.58" cy="363.86" r="0.8"/><circle cx="552.07" cy="361.13" r="0.8"/><circle cx="552.55" cy="362.49" r="0.8"/><circle cx="553.04" cy="363.68" r="0.8"/><circle cx="553.52" cy="358.64" r="0.8"/><circle cx="554.01" cy="361.83" r="0.8"/><circle cx="554.49" cy="359.53" r="0.8"/><circle cx="554.98" cy="356.50" r="0.8"/><circle cx="555.46" cy="361.47" r="0.8"/><circle cx="555.95" cy="357.52" r="0.8"/><circle cx="556.43" cy="352.45" r="0.8"/><circle cx="556.92" cy="358.04" r="0.8"/><circle cx="557.41" cy="361.07" r="0.8"/><circle cx="557.89" cy="348.68" r="0.8"/><circle cx="558.38" cy="351.20" r="0.8"/><circle cx="558.86" cy="352.97" r="0.8"/><circle cx="559.35" cy="350.47" r="0.8"/><circle cx="559.83" cy="351.78" r="0.8"/><circle cx="560.32" cy="352.17" r="0.8"/><circle cx="560.80" cy="351.13" r="0.8"/><circle cx="561.29" cy="353.54" r="0.8"/><circle cx="561.77" cy="352.96" r="0.8"/><circle cx="562.26" cy="351.59" r="0.8"/><circle cx="562.74" cy="355.89" r="0.8"/><circle cx="563.23" cy="354.52" r="0.8"/><circle cx="563.71" cy="351.32" r="0.8"/><circle cx="564.20" cy="355.06" r="0.8"/><circle cx="564.68" cy="351.45" r="0.8"/><circle cx="565.17" cy="353.10" r="0.8"/><circle cx="565.65" cy="351.45" r="0.8"/><circle cx="566.14" cy="354.62" r="0.8"/><circle cx="566.62" cy="353.41" r="0.8"/><circle cx="567.11" cy="362.08" r="0.8"/><circle cx="567.59" cy="353.68" r="0.8"/><circle cx="568.08" cy="355.98" r="0.8"/><circle cx="568.56" cy="359.63" r="0.8"/><circle cx="569.05" cy="360.60" r="0.8"/><circle cx="569.53" cy="363.06" r="0.8"/><circle cx="570.02" cy="366.17" r="0.8"/><circle cx="570.50" cy="362.26" r="0.8"/><circle cx="570.99" cy="359.84" r="0.8"/><circle cx="571.47" cy="359.71" r="0.8"/><circle cx="571.96" cy="366.97" r="0.8"/><circle cx="572.44" cy="359.49" r="0.8"/><circle cx="572.93" cy="364.25" r="0.8"/><circle cx="573.42" cy="367.05" r="0.8"/><circle cx="573.90" cy="366.75" r="0.8"/><circle cx="574.39" cy="365.91" r="0.8"/><circle cx="574.87" cy="370.61" r="0.8"/><circle cx="575.36" cy="368.75" r="0.8"/><circle cx="575.84" cy="369.18" r="0.8"/><circle cx="576.33" cy="363.60" r="0.8"/><circle cx="576.81" cy="369.67" r="0.8"/><circle cx="577.30" cy="370.18" r="0.8"/><circle cx="577.78" cy="369.34" r="0.8"/><circle cx="578.27" cy="375.79" r="0.8"/><circle cx="578.75" cy="369.56" r="0.8"/><circle cx="579.24" cy="377.34" r="0.8"/><circle cx="579.72" cy="375.13" r="0.8"/><circle cx="580.21" cy="372.62" r="0.8"/><circle cx="580.69" cy="374.48" r="0.8"/><circle cx="581.18" cy="374.30" r="0.8"/><circle cx="581.66" cy="376.84" r="0.8"/><circle cx="582.15" cy="374.10" r="0.8"/><circle cx="582.63" cy="374.69" r="0.8"/><circle cx="583.12" cy="369.58" r="0.8"/><circle cx="583.60" cy="375.99" r="0.8"/><circle cx="584.09" cy="377.28" r="0.8"/><circle cx="584.57" cy="377.80" r="0.8"/><circle cx="585.06" cy="374.54" r="0.8"/><circle cx="585.54" cy="376.76" r="0.8"/><circle cx="586.03" cy="376.54" r="0.8"/><circle cx="586.51" cy="379.90" r="0.8"/><circle cx="587.00" cy="378.43" r="0.8"/><circle cx="587.48" cy="375.45" r="0.8"/><circle cx="587.97" cy="371.22" r="0.8"/><circle cx="588.46" cy="377.72" r="0.8"/><circle cx="588.94" cy="371.34" r="0.8"/><circle cx="589.43" cy="379.63" r="0.8"/><circle cx="589.91" cy="375.11" r="0.8"/><circle cx="590.40" cy="376.19" r="0.8"/><circle cx="590.88" cy="375.22" r="0.8"/><circle cx="591.37" cy="378.02" r="0.8"/><circle cx="591.85" cy="373.24" r="0.8"/><circle cx="592.34" cy="377.15" r="0.8"/><circle cx="592.82" cy="374.60" r="0.8"/><circle cx="593.31" cy="378.33" r="0.8"/><circle cx="593.79" cy="375.07" r="0.8"/><circle cx="594.28" cy="374.42" r="0.8"/><circle cx="594.76" cy="376.59" r="0.8"/><circle cx="595.25" cy="377.12" r="0.8"/><circle cx="595.73" cy="376.35" r="0.8"/><circle cx="596.22" cy="377.84" r="0.8"/><circle cx="596.70" cy="378.46" r="0.8"/><circle cx="597.19" cy="375.18" r="0.8"/><circle cx="597.67" cy="373.46" r="0.8"/><circle cx="598.16" cy="377.02" r="0.8"/><circle cx="598.64" cy="375.75" r="0.8"/><circle cx="599.13" cy="380.87" r="0.8"/><circle cx="599.61" cy="377.75" r="0.8"/><circle cx="600.10" cy="377.75" r="0.8"/><circle cx="600.58" cy="379.33" r="0.8"/><circle cx="601.07" cy="379.28" r="0.8"/><circle cx="601.55" cy="376.53" r="0.8"/><circle cx="602.04" cy="375.89" r="0.8"/><circle cx="602.52" cy="379.21" r="0.8"/><circle cx="603.01" cy="381.60" r="0.8"/><circle cx="603.49" cy="377.39" r="0.8"/><circle cx="603.98" cy="374.52" r="0.8"/><circle cx="604.47" cy="372.66" r="0.8"/><circle cx="604.95" cy="368.36" r="0.8"/><circle cx="605.44" cy="372.21" r="0.8"/><circle cx="605.92" cy="367.99" r="0.8"/><circle cx="606.41" cy="374.76" r="0.8"/><circle cx="606.89" cy="375.27" r="0.8"/><circle cx="607.38" cy="373.68" r="0.8"/><circle cx="607.86" cy="380.21" r="0.8"/><circle cx="608.35" cy="375.50" r="0.8"/><circle cx="608.83" cy="369.91" r="0.8"/><circle cx="609.32" cy="374.96" r="0.8"/><circle cx="609.80" cy="375.19" r="0.8"/><circle cx="610.29" cy="376.44" r="0.8"/><circle cx="610.77" cy="376.01" r="0.8"/><circle cx="611.26" cy="373.98" r="0.8"/><circle cx="611.74" cy="375.59" r="0.8"/><circle cx="612.23" cy="379.26" r="0.8"/><circle cx="612.71" cy="378.40" r="0.8"/><circle cx="613.20" cy="378.97" r="0.8"/><circle cx="613.68" cy="372.10" r="0.8"/><circle cx="614.17" cy="377.62" r="0.8"/><circle cx="614.65" cy="374.05" r="0.8"/><circle cx="615.14" cy="372.03" r="0.8"/><circle cx="615.62" cy="370.10" r="0.8"/><circle cx="616.11" cy="367.54" r="0.8"/><circle cx="616.59" cy="380.19" r="0.8"/><circle cx="617.08" cy="378.34" r="0.8"/><circle cx="617.56" cy="374.97" r="0.8"/><circle cx="618.05" cy="375.16" r="0.8"/><circle cx="618.53" cy="383.25" r="0.8"/><circle cx="619.02" cy="372.45" r="0.8"/><circle cx="619.50" cy="376.98" r="0.8"/><circle cx="619.99" cy="381.76" r="0.8"/><circle cx="620.48" cy="376.49" r="0.8"/><circle cx="620.96" cy="380.62" r="0.8"/><circle cx="621.45" cy="378.14" r="0.8"/><circle cx="621.93" cy="376.17" r="0.8"/><circle cx="622.42" cy="375.85" r="0.8"/><circle cx="622.90" cy="373.40" r="0.8"/><circle cx="623.39" cy="380.50" r="0.8"/><circle cx="623.87" cy="378.86" r="0.8"/><circle cx="624.36" cy="380.08" r="0.8"/><circle cx="624.84" cy="378.30" r="0.8"/><circle cx="625.33" cy="380.74" r="0.8"/><circle cx="625.81" cy="370.06" r="0.8"/><circle cx="626.30" cy="379.92" r="0.8"/><circle cx="626.78" cy="376.96" r="0.8"/><circle cx="627.27" cy="380.01" r="0.8"/><circle cx="627.75" cy="376.06" r="0.8"/><circle cx="628.24" cy="374.43" r="0.8"/><circle cx="628.72" cy="373.25" r="0.8"/><circle cx="629.21" cy="375.12" r="0.8"/><circle cx="629.69" cy="367.61" r="0.8"/><circle cx="630.18" cy="366.02" r="0.8"/><circle cx="630.66" cy="362.81" r="0.8"/><circle cx="631.15" cy="358.41" r="0.8"/><circle cx="631.63" cy="350.57" r="0.8"/><circle cx="632.12" cy="352.13" r="0.8"/><circle cx="632.60" cy="363.75" r="0.8"/><circle cx="633.09" cy="366.71" r="0.8"/><circle cx="633.57" cy="374.22" r="0.8"/><circle cx="634.06" cy="374.08" r="0.8"/><circle cx="634.54" cy="373.85" r="0.8"/><circle cx="635.03" cy="373.30" r="0.8"/><circle cx="635.51" cy="378.30" r="0.8"/><circle cx="636.00" cy="375.69" r="0.8"/></g><path d="M524.50 378.44L525.06 378.40L525.62 378.34L526.18 378.29L526.74 378.22L527.29 378.15L527.85 378.07L528.41 377.99L528.97 377.90L529.53 377.79L530.09 377.68L530.65 377.56L531.21 377.43L531.77 377.28L532.33 377.13L532.88 376.96L533.44 376.77L534.00 376.58L534.56 376.37L535.12 376.14L535.68 375.90L536.24 375.64L536.80 375.37L537.36 375.08L537.92 374.77L538.48 374.44L539.03 374.10L539.59 373.74L540.15 373.36L540.71 372.96L541.27 372.55L541.83 372.12L542.39 371.67L542.95 371.20L543.51 370.73L544.06 370.23L544.62 369.73L545.18 369.21L545.74 368.68L546.30 368.14L546.86 367.59L547.42 367.04L547.98 366.48L548.54 365.92L549.10 365.36L549.65 364.80L550.21 364.25L550.77 363.70L551.33 363.16L551.89 362.63L552.45 362.11L553.01 361.61L553.57 361.12L554.13 360.66L554.69 360.21L555.25 359.79L555.80 359.40L556.36 359.04L556.92 358.70L557.48 358.40L558.04 358.14L558.60 357.90L559.16 357.71L559.72 357.55L560.28 357.43L560.84 357.35L561.39 357.31L561.95 357.30L562.51 357.34L563.07 357.42L563.63 357.54L564.19 357.69L564.75 357.88L565.31 358.11L565.87 358.38L566.42 358.67L566.98 359.00L567.54 359.37L568.10 359.76L568.66 360.17L569.22 360.61L569.78 361.08L570.34 361.56L570.90 362.06L571.46 362.58L572.01 363.11L572.57 363.65L573.13 364.20L573.69 364.75L574.25 365.31L574.81 365.87L575.37 366.43L575.93 366.99L576.49 367.54L577.05 368.09L577.61 368.63L578.16 369.16L578.72 369.68L579.28 370.19L579.84 370.68L580.40 371.16L580.96 371.62L581.52 372.07L582.08 372.51L582.64 372.92L583.19 373.32L583.75 373.70L584.31 374.06L584.87 374.41L585.43 374.74L585.99 375.05L586.55 375.34L587.11 375.62L587.67 375.88L588.23 376.12L588.78 376.35L589.34 376.56L589.90 376.76L590.46 376.94L591.02 377.11L591.58 377.27L592.14 377.41L592.70 377.55L593.26 377.67L593.82 377.78L594.38 377.89L594.93 377.98L595.49 378.07L596.05 378.15L596.61 378.22L597.17 378.28L597.73 378.34L598.29 378.39L598.85 378.44L599.41 378.48L599.96 378.52L600.52 378.55L601.08 378.58L601.64 378.61L602.20 378.63L602.76 378.65L603.32 378.67L603.88 378.69L604.44 378.70L605.00 378.72L605.55 378.73L606.11 378.74L606.67 378.75L607.23 378.75L607.79 378.76L608.35 378.77L608.91 378.77L609.47 378.77L610.03 378.78L610.59 378.78L611.14 378.78L611.70 378.79L612.26 378.79L612.82 378.79L613.38 378.79L613.94 378.79L614.50 378.79L615.06 378.80L615.62 378.80L616.18 378.80L616.73 378.80L617.29 378.80L617.85 378.80L618.41 378.80L618.97 378.80L619.53 378.80L620.09 378.80L620.65 378.80L621.21 378.80L621.77 378.80L622.32 378.80L622.88 378.80L623.44 378.80L624.00 378.80L624.56 378.80L625.12 378.80L625.68 378.80L626.24 378.80L626.80 378.80L627.36 378.80L627.91 378.80L628.47 378.80L629.03 378.80L629.59 378.80L630.15 378.80L630.71 378.80L631.27 378.80L631.83 378.80L632.39 378.80L632.95 378.80L633.50 378.80L634.06 378.80L634.62 378.80L635.18 378.80L635.74 378.80L636.30 378.80" stroke="#ec1414" stroke-width="1.5" fill="none"/></g><line x1="521.5999999999999" y1="342.0" x2="524.3" y2="342.0" stroke="#4a4a4a" stroke-width="0.9"/><text x="520.3" y="345.0" font-family="Liberation Sans" font-size="8.3" text-anchor="end" fill="#303030">0.4</text><line x1="521.5999999999999" y1="362.4" x2="524.3" y2="362.4" stroke="#4a4a4a" stroke-width="0.9"/><text x="520.3" y="365.4" font-family="Liberation Sans" font-size="8.3" text-anchor="end" fill="#303030">0.2</text><line x1="521.5999999999999" y1="382.8" x2="524.3" y2="382.8" stroke="#4a4a4a" stroke-width="0.9"/><text x="520.3" y="385.8" font-family="Liberation Sans" font-size="8.3" text-anchor="end" fill="#303030">0.0</text><line x1="532.2" y1="387.6" x2="532.2" y2="390.3" stroke="#4a4a4a" stroke-width="0.9"/><text x="532.2" y="397.8" font-family="Liberation Sans" font-size="8.3" text-anchor="middle" fill="#303030">−12</text><line x1="556.2" y1="387.6" x2="556.2" y2="390.3" stroke="#4a4a4a" stroke-width="0.9"/><text x="556.2" y="397.8" font-family="Liberation Sans" font-size="8.3" text-anchor="middle" fill="#303030">−9</text><line x1="580.3" y1="387.6" x2="580.3" y2="390.3" stroke="#4a4a4a" stroke-width="0.9"/><text x="580.3" y="397.8" font-family="Liberation Sans" font-size="8.3" text-anchor="middle" fill="#303030">−6</text><line x1="604.4" y1="387.6" x2="604.4" y2="390.3" stroke="#4a4a4a" stroke-width="0.9"/><text x="604.4" y="397.8" font-family="Liberation Sans" font-size="8.3" text-anchor="middle" fill="#303030">−3</text><line x1="628.4" y1="387.6" x2="628.4" y2="390.3" stroke="#4a4a4a" stroke-width="0.9"/><text x="628.4" y="397.8" font-family="Liberation Sans" font-size="8.3" text-anchor="middle" fill="#303030">0</text><text transform="translate(207.2,268.9) rotate(-90)" font-family="Liberation Sans" font-size="12.9" text-anchor="middle" fill="#222">Photon counts</text><text transform="translate(207.2,356.3) rotate(-90)" font-family="Liberation Sans" font-size="12.3" text-anchor="middle" fill="#222">Intensity</text><text x="293.6" y="411.6" font-family="Liberation Sans" font-size="11.5" letter-spacing="-0.35" text-anchor="middle" fill="#222"><tspan font-style="italic">h</tspan> (r.l.u.)</text><text x="437.3" y="411.6" font-family="Liberation Sans" font-size="11.5" letter-spacing="-0.35" text-anchor="middle" fill="#222"><tspan font-style="italic">k</tspan> (r.l.u.)</text><text x="570.8" y="411.6" font-family="Liberation Sans" font-size="11.5" letter-spacing="-0.35" fill="#222">(r.l.u)</text><path d="M563.8 408.4 C566 407 569.3 404.6 568.9 403.3 C568.5 402.1 566.7 402.4 566.1 404.1 C565.4 406.5 564.6 411.1 566.4 411.3 C567.2 411.4 567.9 410.8 568.5 410.1" stroke="#222" stroke-width="0.95" fill="none" stroke-linecap="round"/>
</svg></body></html>
